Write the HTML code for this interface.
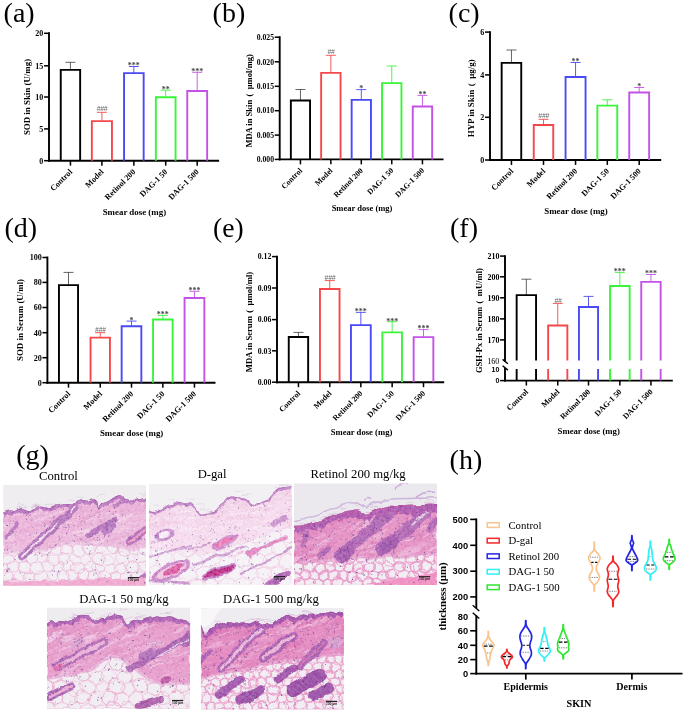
<!DOCTYPE html>
<html><head><meta charset="utf-8"><title>Figure</title>
<style>
html,body{margin:0;padding:0;background:#fff;}
body{width:685px;height:713px;overflow:hidden;font-family:"Liberation Serif",serif;}
svg{display:block;will-change:transform;}
</style></head><body>
<svg width="685" height="713" viewBox="0 0 685 713">
<rect width="685" height="713" fill="#ffffff"/>
<text x="3.6" y="22.2" font-family='"Liberation Serif", serif' font-size="28" fill="#000">(a)</text>
<line x1="49" y1="32.349999999999994" x2="49" y2="161.64999999999998" stroke="#000" stroke-width="1.9"/>
<line x1="48.05" y1="160.7" x2="219.1" y2="160.7" stroke="#000" stroke-width="1.9"/>
<line x1="44.05" y1="33.3" x2="49" y2="33.3" stroke="#000" stroke-width="1.52"/>
<text x="43.349999999999994" y="36.20" text-anchor="end" font-family='"Liberation Serif", serif' font-weight="bold" font-size="8.05" fill="#000">20</text>
<line x1="44.05" y1="65.8" x2="49" y2="65.8" stroke="#000" stroke-width="1.52"/>
<text x="43.349999999999994" y="68.70" text-anchor="end" font-family='"Liberation Serif", serif' font-weight="bold" font-size="8.05" fill="#000">15</text>
<line x1="44.05" y1="97.0" x2="49" y2="97.0" stroke="#000" stroke-width="1.52"/>
<text x="43.349999999999994" y="99.90" text-anchor="end" font-family='"Liberation Serif", serif' font-weight="bold" font-size="8.05" fill="#000">10</text>
<line x1="44.05" y1="128.9" x2="49" y2="128.9" stroke="#000" stroke-width="1.52"/>
<text x="43.349999999999994" y="131.80" text-anchor="end" font-family='"Liberation Serif", serif' font-weight="bold" font-size="8.05" fill="#000">5</text>
<line x1="44.05" y1="160.7" x2="49" y2="160.7" stroke="#000" stroke-width="1.52"/>
<text x="43.349999999999994" y="163.60" text-anchor="end" font-family='"Liberation Serif", serif' font-weight="bold" font-size="8.05" fill="#000">0</text>
<line x1="70.45" y1="69.89999999999999" x2="70.45" y2="62.3" stroke="#333" stroke-width="0.765"/>
<line x1="65.45" y1="62.3" x2="75.45" y2="62.3" stroke="#333" stroke-width="0.765"/>
<path d="M60.75000000000001,160.7 V69.85 H80.15 V160.7" fill="none" stroke="#000000" stroke-width="1.9"/>
<line x1="70.45" y1="160.7" x2="70.45" y2="165.64999999999998" stroke="#000" stroke-width="1.52"/>
<line x1="101.9" y1="121.19999999999999" x2="101.9" y2="112.3" stroke="#f4484a" stroke-width="0.9"/>
<line x1="96.9" y1="112.3" x2="106.9" y2="112.3" stroke="#f4484a" stroke-width="0.9"/>
<path d="M91.85,160.7 V121.14999999999999 H111.95 V160.7" fill="none" stroke="#f4484a" stroke-width="1.9"/>
<text x="102.10000000000001" y="111.39999999999999" text-anchor="middle" font-family='"Liberation Sans", sans-serif' font-style="italic" font-size="6.6" fill="#666" letter-spacing="-0.1">###</text>
<line x1="101.9" y1="160.7" x2="101.9" y2="165.64999999999998" stroke="#000" stroke-width="1.52"/>
<line x1="133.85" y1="73.19999999999999" x2="133.85" y2="66.5" stroke="#4a4af4" stroke-width="0.9"/>
<line x1="128.85" y1="66.5" x2="138.85" y2="66.5" stroke="#4a4af4" stroke-width="0.9"/>
<path d="M124.05,160.7 V73.14999999999999 H143.65 V160.7" fill="none" stroke="#4a4af4" stroke-width="1.9"/>
<text x="133.85" y="68.3" text-anchor="middle" font-family='"Liberation Serif", serif' font-weight="bold" font-size="8.0" fill="#444">***</text>
<line x1="133.85" y1="160.7" x2="133.85" y2="165.64999999999998" stroke="#000" stroke-width="1.52"/>
<line x1="165.7" y1="97.3" x2="165.7" y2="90.2" stroke="#3af43a" stroke-width="0.9"/>
<line x1="160.7" y1="90.2" x2="170.7" y2="90.2" stroke="#3af43a" stroke-width="0.9"/>
<path d="M155.85,160.7 V97.25 H175.55 V160.7" fill="none" stroke="#3af43a" stroke-width="1.9"/>
<text x="165.7" y="92.0" text-anchor="middle" font-family='"Liberation Serif", serif' font-weight="bold" font-size="8.0" fill="#444">**</text>
<line x1="165.7" y1="160.7" x2="165.7" y2="165.64999999999998" stroke="#000" stroke-width="1.52"/>
<line x1="197.2" y1="91.1" x2="197.2" y2="72.3" stroke="#c452e6" stroke-width="0.9"/>
<line x1="192.2" y1="72.3" x2="202.2" y2="72.3" stroke="#c452e6" stroke-width="0.9"/>
<path d="M187.24999999999997,160.7 V91.05 H207.15 V160.7" fill="none" stroke="#c452e6" stroke-width="1.9"/>
<text x="197.2" y="74.1" text-anchor="middle" font-family='"Liberation Serif", serif' font-weight="bold" font-size="8.0" fill="#444">***</text>
<line x1="197.2" y1="160.7" x2="197.2" y2="165.64999999999998" stroke="#000" stroke-width="1.52"/>
<text transform="translate(72.75,172.39999999999998) rotate(-45)" text-anchor="end" font-family='"Liberation Serif", serif' font-weight="bold" font-size="8.2" fill="#000">Control</text>
<text transform="translate(104.2,172.39999999999998) rotate(-45)" text-anchor="end" font-family='"Liberation Serif", serif' font-weight="bold" font-size="8.2" fill="#000">Model</text>
<text transform="translate(136.15,172.39999999999998) rotate(-45)" text-anchor="end" font-family='"Liberation Serif", serif' font-weight="bold" font-size="8.2" fill="#000">Retinol 200</text>
<text transform="translate(168.0,172.39999999999998) rotate(-45)" text-anchor="end" font-family='"Liberation Serif", serif' font-weight="bold" font-size="8.2" fill="#000">DAG-1 50</text>
<text transform="translate(199.5,172.39999999999998) rotate(-45)" text-anchor="end" font-family='"Liberation Serif", serif' font-weight="bold" font-size="8.2" fill="#000">DAG-1 500</text>
<text x="134.4" y="214.7" text-anchor="middle" font-family='"Liberation Serif", serif' font-weight="bold" font-size="8.90" fill="#000">Smear dose (mg)</text>
<text transform="translate(29.5,97) rotate(-90)" text-anchor="middle" font-family='"Liberation Serif", serif' font-weight="bold" font-size="8.90" fill="#000">SOD in Skin (U/mg)</text>
<text x="212.6" y="22.2" font-family='"Liberation Serif", serif' font-size="28" fill="#000">(b)</text>
<line x1="279.7" y1="36.25" x2="279.7" y2="160.35" stroke="#000" stroke-width="1.9"/>
<line x1="278.75" y1="159.4" x2="443.5" y2="159.4" stroke="#000" stroke-width="1.9"/>
<line x1="274.75" y1="37.2" x2="279.7" y2="37.2" stroke="#000" stroke-width="1.52"/>
<text x="274.05" y="39.97" text-anchor="end" font-family='"Liberation Serif", serif' font-weight="bold" font-size="7.68775" fill="#000">0.025</text>
<line x1="274.75" y1="61.8" x2="279.7" y2="61.8" stroke="#000" stroke-width="1.52"/>
<text x="274.05" y="64.57" text-anchor="end" font-family='"Liberation Serif", serif' font-weight="bold" font-size="7.68775" fill="#000">0.020</text>
<line x1="274.75" y1="86.3" x2="279.7" y2="86.3" stroke="#000" stroke-width="1.52"/>
<text x="274.05" y="89.07" text-anchor="end" font-family='"Liberation Serif", serif' font-weight="bold" font-size="7.68775" fill="#000">0.015</text>
<line x1="274.75" y1="110.7" x2="279.7" y2="110.7" stroke="#000" stroke-width="1.52"/>
<text x="274.05" y="113.47" text-anchor="end" font-family='"Liberation Serif", serif' font-weight="bold" font-size="7.68775" fill="#000">0.010</text>
<line x1="274.75" y1="135.1" x2="279.7" y2="135.1" stroke="#000" stroke-width="1.52"/>
<text x="274.05" y="137.87" text-anchor="end" font-family='"Liberation Serif", serif' font-weight="bold" font-size="7.68775" fill="#000">0.005</text>
<line x1="274.75" y1="159.4" x2="279.7" y2="159.4" stroke="#000" stroke-width="1.52"/>
<text x="274.05" y="162.17" text-anchor="end" font-family='"Liberation Serif", serif' font-weight="bold" font-size="7.68775" fill="#000">0.000</text>
<line x1="300.45000000000005" y1="100.6" x2="300.45000000000005" y2="89.5" stroke="#333" stroke-width="0.765"/>
<line x1="295.45000000000005" y1="89.5" x2="305.45000000000005" y2="89.5" stroke="#333" stroke-width="0.765"/>
<path d="M290.85,159.4 V100.55 H310.05 V159.4" fill="none" stroke="#000000" stroke-width="1.9"/>
<line x1="300.45000000000005" y1="159.4" x2="300.45000000000005" y2="164.35" stroke="#000" stroke-width="1.52"/>
<line x1="330.85" y1="72.89999999999999" x2="330.85" y2="55.3" stroke="#f4484a" stroke-width="0.9"/>
<line x1="325.85" y1="55.3" x2="335.85" y2="55.3" stroke="#f4484a" stroke-width="0.9"/>
<path d="M321.15000000000003,159.4 V72.85 H340.55 V159.4" fill="none" stroke="#f4484a" stroke-width="1.9"/>
<text x="331.05" y="54.4" text-anchor="middle" font-family='"Liberation Sans", sans-serif' font-style="italic" font-size="6.6" fill="#666" letter-spacing="-0.1">##</text>
<line x1="330.85" y1="159.4" x2="330.85" y2="164.35" stroke="#000" stroke-width="1.52"/>
<line x1="361.3" y1="99.89999999999999" x2="361.3" y2="89.6" stroke="#4a4af4" stroke-width="0.9"/>
<line x1="356.3" y1="89.6" x2="366.3" y2="89.6" stroke="#4a4af4" stroke-width="0.9"/>
<path d="M351.65000000000003,159.4 V99.85 H370.95 V159.4" fill="none" stroke="#4a4af4" stroke-width="1.9"/>
<text x="361.3" y="91.39999999999999" text-anchor="middle" font-family='"Liberation Serif", serif' font-weight="bold" font-size="8.0" fill="#444">*</text>
<line x1="361.3" y1="159.4" x2="361.3" y2="164.35" stroke="#000" stroke-width="1.52"/>
<line x1="391.75" y1="83.19999999999999" x2="391.75" y2="66" stroke="#3af43a" stroke-width="0.9"/>
<line x1="386.75" y1="66" x2="396.75" y2="66" stroke="#3af43a" stroke-width="0.9"/>
<path d="M382.05,159.4 V83.14999999999999 H401.45 V159.4" fill="none" stroke="#3af43a" stroke-width="1.9"/>
<line x1="391.75" y1="159.4" x2="391.75" y2="164.35" stroke="#000" stroke-width="1.52"/>
<line x1="422.45" y1="106.6" x2="422.45" y2="95.4" stroke="#c452e6" stroke-width="0.9"/>
<line x1="417.45" y1="95.4" x2="427.45" y2="95.4" stroke="#c452e6" stroke-width="0.9"/>
<path d="M412.75,159.4 V106.55 H432.15 V159.4" fill="none" stroke="#c452e6" stroke-width="1.9"/>
<text x="422.45" y="97.2" text-anchor="middle" font-family='"Liberation Serif", serif' font-weight="bold" font-size="8.0" fill="#444">**</text>
<line x1="422.45" y1="159.4" x2="422.45" y2="164.35" stroke="#000" stroke-width="1.52"/>
<text transform="translate(302.75000000000006,171.1) rotate(-45)" text-anchor="end" font-family='"Liberation Serif", serif' font-weight="bold" font-size="7.830999999999999" fill="#000">Control</text>
<text transform="translate(333.15000000000003,171.1) rotate(-45)" text-anchor="end" font-family='"Liberation Serif", serif' font-weight="bold" font-size="7.830999999999999" fill="#000">Model</text>
<text transform="translate(363.6,171.1) rotate(-45)" text-anchor="end" font-family='"Liberation Serif", serif' font-weight="bold" font-size="7.830999999999999" fill="#000">Retinol 200</text>
<text transform="translate(394.05,171.1) rotate(-45)" text-anchor="end" font-family='"Liberation Serif", serif' font-weight="bold" font-size="7.830999999999999" fill="#000">DAG-1 50</text>
<text transform="translate(424.75,171.1) rotate(-45)" text-anchor="end" font-family='"Liberation Serif", serif' font-weight="bold" font-size="7.830999999999999" fill="#000">DAG-1 500</text>
<text x="362" y="211.2" text-anchor="middle" font-family='"Liberation Serif", serif' font-weight="bold" font-size="8.50" fill="#000">Smear dose (mg)</text>
<text transform="translate(251.5,100.9) rotate(-90)" text-anchor="middle" font-family='"Liberation Serif", serif' font-weight="bold" font-size="8.50" fill="#000">MDA in Skin<tspan dx="3.40">(</tspan><tspan dx="4.42">μmol/mg)</tspan></text>
<text x="448.6" y="22.2" font-family='"Liberation Serif", serif' font-size="28" fill="#000">(c)</text>
<line x1="490" y1="31.150000000000002" x2="490" y2="160.95" stroke="#000" stroke-width="1.9"/>
<line x1="489.05" y1="160" x2="661.2" y2="160" stroke="#000" stroke-width="1.9"/>
<line x1="485.05" y1="32.1" x2="490" y2="32.1" stroke="#000" stroke-width="1.52"/>
<text x="484.35" y="35.00" text-anchor="end" font-family='"Liberation Serif", serif' font-weight="bold" font-size="8.05" fill="#000">6</text>
<line x1="485.05" y1="74.9" x2="490" y2="74.9" stroke="#000" stroke-width="1.52"/>
<text x="484.35" y="77.80" text-anchor="end" font-family='"Liberation Serif", serif' font-weight="bold" font-size="8.05" fill="#000">4</text>
<line x1="485.05" y1="117.3" x2="490" y2="117.3" stroke="#000" stroke-width="1.52"/>
<text x="484.35" y="120.20" text-anchor="end" font-family='"Liberation Serif", serif' font-weight="bold" font-size="8.05" fill="#000">2</text>
<line x1="485.05" y1="160" x2="490" y2="160" stroke="#000" stroke-width="1.52"/>
<text x="484.35" y="162.90" text-anchor="end" font-family='"Liberation Serif", serif' font-weight="bold" font-size="8.05" fill="#000">0</text>
<line x1="511.45" y1="62.9" x2="511.45" y2="50" stroke="#333" stroke-width="0.765"/>
<line x1="506.45" y1="50" x2="516.45" y2="50" stroke="#333" stroke-width="0.765"/>
<path d="M501.65000000000003,160 V62.85 H521.2499999999999 V160" fill="none" stroke="#000000" stroke-width="1.9"/>
<line x1="511.45" y1="160" x2="511.45" y2="164.95" stroke="#000" stroke-width="1.52"/>
<line x1="543.5" y1="125.0" x2="543.5" y2="119.3" stroke="#f4484a" stroke-width="0.9"/>
<line x1="538.5" y1="119.3" x2="548.5" y2="119.3" stroke="#f4484a" stroke-width="0.9"/>
<path d="M533.7500000000001,160 V124.95 H553.2499999999999 V160" fill="none" stroke="#f4484a" stroke-width="1.9"/>
<text x="543.7" y="118.39999999999999" text-anchor="middle" font-family='"Liberation Sans", sans-serif' font-style="italic" font-size="6.6" fill="#666" letter-spacing="-0.1">###</text>
<line x1="543.5" y1="160" x2="543.5" y2="164.95" stroke="#000" stroke-width="1.52"/>
<line x1="575.55" y1="77.1" x2="575.55" y2="62.5" stroke="#4a4af4" stroke-width="0.9"/>
<line x1="570.55" y1="62.5" x2="580.55" y2="62.5" stroke="#4a4af4" stroke-width="0.9"/>
<path d="M565.5500000000001,160 V77.05 H585.55 V160" fill="none" stroke="#4a4af4" stroke-width="1.9"/>
<text x="575.55" y="64.3" text-anchor="middle" font-family='"Liberation Serif", serif' font-weight="bold" font-size="8.0" fill="#444">**</text>
<line x1="575.55" y1="160" x2="575.55" y2="164.95" stroke="#000" stroke-width="1.52"/>
<line x1="607.3" y1="105.69999999999999" x2="607.3" y2="99.8" stroke="#3af43a" stroke-width="0.9"/>
<line x1="602.3" y1="99.8" x2="612.3" y2="99.8" stroke="#3af43a" stroke-width="0.9"/>
<path d="M597.35,160 V105.64999999999999 H617.2499999999999 V160" fill="none" stroke="#3af43a" stroke-width="1.9"/>
<line x1="607.3" y1="160" x2="607.3" y2="164.95" stroke="#000" stroke-width="1.52"/>
<line x1="639.2" y1="92.5" x2="639.2" y2="87.5" stroke="#c452e6" stroke-width="0.9"/>
<line x1="634.2" y1="87.5" x2="644.2" y2="87.5" stroke="#c452e6" stroke-width="0.9"/>
<path d="M629.2500000000001,160 V92.45 H649.15 V160" fill="none" stroke="#c452e6" stroke-width="1.9"/>
<text x="639.2" y="89.3" text-anchor="middle" font-family='"Liberation Serif", serif' font-weight="bold" font-size="8.0" fill="#444">*</text>
<line x1="639.2" y1="160" x2="639.2" y2="164.95" stroke="#000" stroke-width="1.52"/>
<text transform="translate(513.75,171.7) rotate(-45)" text-anchor="end" font-family='"Liberation Serif", serif' font-weight="bold" font-size="8.2" fill="#000">Control</text>
<text transform="translate(545.8,171.7) rotate(-45)" text-anchor="end" font-family='"Liberation Serif", serif' font-weight="bold" font-size="8.2" fill="#000">Model</text>
<text transform="translate(577.8499999999999,171.7) rotate(-45)" text-anchor="end" font-family='"Liberation Serif", serif' font-weight="bold" font-size="8.2" fill="#000">Retinol 200</text>
<text transform="translate(609.5999999999999,171.7) rotate(-45)" text-anchor="end" font-family='"Liberation Serif", serif' font-weight="bold" font-size="8.2" fill="#000">DAG-1 50</text>
<text transform="translate(641.5,171.7) rotate(-45)" text-anchor="end" font-family='"Liberation Serif", serif' font-weight="bold" font-size="8.2" fill="#000">DAG-1 500</text>
<text x="576" y="213.8" text-anchor="middle" font-family='"Liberation Serif", serif' font-weight="bold" font-size="8.90" fill="#000">Smear dose (mg)</text>
<text transform="translate(474.2,98.3) rotate(-90)" text-anchor="middle" font-family='"Liberation Serif", serif' font-weight="bold" font-size="8.90" fill="#000">HYP in Skin<tspan dx="3.56">(</tspan><tspan dx="4.63">μg/g)</tspan></text>
<text x="4.4" y="236.5" font-family='"Liberation Serif", serif' font-size="28" fill="#000">(d)</text>
<line x1="47.4" y1="256.55" x2="47.4" y2="383.65" stroke="#000" stroke-width="1.9"/>
<line x1="46.449999999999996" y1="382.7" x2="215.5" y2="382.7" stroke="#000" stroke-width="1.9"/>
<line x1="42.449999999999996" y1="257.5" x2="47.4" y2="257.5" stroke="#000" stroke-width="1.52"/>
<text x="41.74999999999999" y="260.40" text-anchor="end" font-family='"Liberation Serif", serif' font-weight="bold" font-size="8.05" fill="#000">100</text>
<line x1="42.449999999999996" y1="282.4" x2="47.4" y2="282.4" stroke="#000" stroke-width="1.52"/>
<text x="41.74999999999999" y="285.30" text-anchor="end" font-family='"Liberation Serif", serif' font-weight="bold" font-size="8.05" fill="#000">80</text>
<line x1="42.449999999999996" y1="307.5" x2="47.4" y2="307.5" stroke="#000" stroke-width="1.52"/>
<text x="41.74999999999999" y="310.40" text-anchor="end" font-family='"Liberation Serif", serif' font-weight="bold" font-size="8.05" fill="#000">60</text>
<line x1="42.449999999999996" y1="332.7" x2="47.4" y2="332.7" stroke="#000" stroke-width="1.52"/>
<text x="41.74999999999999" y="335.60" text-anchor="end" font-family='"Liberation Serif", serif' font-weight="bold" font-size="8.05" fill="#000">40</text>
<line x1="42.449999999999996" y1="357.7" x2="47.4" y2="357.7" stroke="#000" stroke-width="1.52"/>
<text x="41.74999999999999" y="360.60" text-anchor="end" font-family='"Liberation Serif", serif' font-weight="bold" font-size="8.05" fill="#000">20</text>
<line x1="42.449999999999996" y1="382.7" x2="47.4" y2="382.7" stroke="#000" stroke-width="1.52"/>
<text x="41.74999999999999" y="385.60" text-anchor="end" font-family='"Liberation Serif", serif' font-weight="bold" font-size="8.05" fill="#000">0</text>
<line x1="68.5" y1="285.20000000000005" x2="68.5" y2="272.4" stroke="#333" stroke-width="0.765"/>
<line x1="63.5" y1="272.4" x2="73.5" y2="272.4" stroke="#333" stroke-width="0.765"/>
<path d="M58.95,382.7 V285.15000000000003 H78.05 V382.7" fill="none" stroke="#000000" stroke-width="1.9"/>
<line x1="68.5" y1="382.7" x2="68.5" y2="387.65" stroke="#000" stroke-width="1.52"/>
<line x1="100.25" y1="337.70000000000005" x2="100.25" y2="332.7" stroke="#f4484a" stroke-width="0.9"/>
<line x1="95.25" y1="332.7" x2="105.25" y2="332.7" stroke="#f4484a" stroke-width="0.9"/>
<path d="M90.55,382.7 V337.65000000000003 H109.95 V382.7" fill="none" stroke="#f4484a" stroke-width="1.9"/>
<text x="100.45" y="331.8" text-anchor="middle" font-family='"Liberation Sans", sans-serif' font-style="italic" font-size="6.6" fill="#666" letter-spacing="-0.1">###</text>
<line x1="100.25" y1="382.7" x2="100.25" y2="387.65" stroke="#000" stroke-width="1.52"/>
<line x1="131.5" y1="326.3" x2="131.5" y2="321.1" stroke="#4a4af4" stroke-width="0.9"/>
<line x1="126.5" y1="321.1" x2="136.5" y2="321.1" stroke="#4a4af4" stroke-width="0.9"/>
<path d="M121.64999999999999,382.7 V326.25 H141.35000000000002 V382.7" fill="none" stroke="#4a4af4" stroke-width="1.9"/>
<text x="131.5" y="322.90000000000003" text-anchor="middle" font-family='"Liberation Serif", serif' font-weight="bold" font-size="8.0" fill="#444">*</text>
<line x1="131.5" y1="382.7" x2="131.5" y2="387.65" stroke="#000" stroke-width="1.52"/>
<line x1="162.85" y1="319.6" x2="162.85" y2="315.4" stroke="#3af43a" stroke-width="0.9"/>
<line x1="157.85" y1="315.4" x2="167.85" y2="315.4" stroke="#3af43a" stroke-width="0.9"/>
<path d="M153.04999999999998,382.7 V319.55 H172.65 V382.7" fill="none" stroke="#3af43a" stroke-width="1.9"/>
<text x="162.85" y="317.2" text-anchor="middle" font-family='"Liberation Serif", serif' font-weight="bold" font-size="8.0" fill="#444">***</text>
<line x1="162.85" y1="382.7" x2="162.85" y2="387.65" stroke="#000" stroke-width="1.52"/>
<line x1="194.45" y1="298.1" x2="194.45" y2="291.3" stroke="#c452e6" stroke-width="0.9"/>
<line x1="189.45" y1="291.3" x2="199.45" y2="291.3" stroke="#c452e6" stroke-width="0.9"/>
<path d="M184.54999999999998,382.7 V298.05 H204.35000000000002 V382.7" fill="none" stroke="#c452e6" stroke-width="1.9"/>
<text x="194.45" y="293.1" text-anchor="middle" font-family='"Liberation Serif", serif' font-weight="bold" font-size="8.0" fill="#444">***</text>
<line x1="194.45" y1="382.7" x2="194.45" y2="387.65" stroke="#000" stroke-width="1.52"/>
<text transform="translate(70.8,394.4) rotate(-45)" text-anchor="end" font-family='"Liberation Serif", serif' font-weight="bold" font-size="8.2" fill="#000">Control</text>
<text transform="translate(102.55,394.4) rotate(-45)" text-anchor="end" font-family='"Liberation Serif", serif' font-weight="bold" font-size="8.2" fill="#000">Model</text>
<text transform="translate(133.8,394.4) rotate(-45)" text-anchor="end" font-family='"Liberation Serif", serif' font-weight="bold" font-size="8.2" fill="#000">Retinol 200</text>
<text transform="translate(165.15,394.4) rotate(-45)" text-anchor="end" font-family='"Liberation Serif", serif' font-weight="bold" font-size="8.2" fill="#000">DAG-1 50</text>
<text transform="translate(196.75,394.4) rotate(-45)" text-anchor="end" font-family='"Liberation Serif", serif' font-weight="bold" font-size="8.2" fill="#000">DAG-1 500</text>
<text x="131.6" y="436" text-anchor="middle" font-family='"Liberation Serif", serif' font-weight="bold" font-size="8.90" fill="#000">Smear dose (mg)</text>
<text transform="translate(23.0,320.0) rotate(-90)" text-anchor="middle" font-family='"Liberation Serif", serif' font-weight="bold" font-size="8.90" fill="#000">SOD in Serum (U/ml)</text>
<text x="213.0" y="237.4" font-family='"Liberation Serif", serif' font-size="27.6" fill="#000">(e)</text>
<line x1="277" y1="255.65000000000003" x2="277" y2="383.15" stroke="#000" stroke-width="1.9"/>
<line x1="276.05" y1="382.2" x2="444.2" y2="382.2" stroke="#000" stroke-width="1.9"/>
<line x1="272.05" y1="256.6" x2="277" y2="256.6" stroke="#000" stroke-width="1.52"/>
<text x="271.35" y="259.41" text-anchor="end" font-family='"Liberation Serif", serif' font-weight="bold" font-size="7.8085" fill="#000">0.12</text>
<line x1="272.05" y1="288" x2="277" y2="288" stroke="#000" stroke-width="1.52"/>
<text x="271.35" y="290.81" text-anchor="end" font-family='"Liberation Serif", serif' font-weight="bold" font-size="7.8085" fill="#000">0.09</text>
<line x1="272.05" y1="319.6" x2="277" y2="319.6" stroke="#000" stroke-width="1.52"/>
<text x="271.35" y="322.41" text-anchor="end" font-family='"Liberation Serif", serif' font-weight="bold" font-size="7.8085" fill="#000">0.06</text>
<line x1="272.05" y1="350.8" x2="277" y2="350.8" stroke="#000" stroke-width="1.52"/>
<text x="271.35" y="353.61" text-anchor="end" font-family='"Liberation Serif", serif' font-weight="bold" font-size="7.8085" fill="#000">0.03</text>
<line x1="272.05" y1="382.2" x2="277" y2="382.2" stroke="#000" stroke-width="1.52"/>
<text x="271.35" y="385.01" text-anchor="end" font-family='"Liberation Serif", serif' font-weight="bold" font-size="7.8085" fill="#000">0.00</text>
<line x1="298.45" y1="337.0" x2="298.45" y2="332.4" stroke="#333" stroke-width="0.765"/>
<line x1="293.45" y1="332.4" x2="303.45" y2="332.4" stroke="#333" stroke-width="0.765"/>
<path d="M288.75,382.2 V336.95 H308.15 V382.2" fill="none" stroke="#000000" stroke-width="1.9"/>
<line x1="298.45" y1="382.2" x2="298.45" y2="387.15" stroke="#000" stroke-width="1.52"/>
<line x1="329.75" y1="289.1" x2="329.75" y2="280.6" stroke="#f4484a" stroke-width="0.9"/>
<line x1="324.75" y1="280.6" x2="334.75" y2="280.6" stroke="#f4484a" stroke-width="0.9"/>
<path d="M319.95,382.2 V289.05 H339.55 V382.2" fill="none" stroke="#f4484a" stroke-width="1.9"/>
<text x="329.95" y="279.70000000000005" text-anchor="middle" font-family='"Liberation Sans", sans-serif' font-style="italic" font-size="6.6" fill="#666" letter-spacing="-0.1">###</text>
<line x1="329.75" y1="382.2" x2="329.75" y2="387.15" stroke="#000" stroke-width="1.52"/>
<line x1="360.85" y1="325.20000000000005" x2="360.85" y2="312.4" stroke="#4a4af4" stroke-width="0.9"/>
<line x1="355.85" y1="312.4" x2="365.85" y2="312.4" stroke="#4a4af4" stroke-width="0.9"/>
<path d="M350.95,382.2 V325.15000000000003 H370.75 V382.2" fill="none" stroke="#4a4af4" stroke-width="1.9"/>
<text x="360.85" y="314.2" text-anchor="middle" font-family='"Liberation Serif", serif' font-weight="bold" font-size="8.0" fill="#444">***</text>
<line x1="360.85" y1="382.2" x2="360.85" y2="387.15" stroke="#000" stroke-width="1.52"/>
<line x1="392.15" y1="332.40000000000003" x2="392.15" y2="321.7" stroke="#3af43a" stroke-width="0.9"/>
<line x1="387.15" y1="321.7" x2="397.15" y2="321.7" stroke="#3af43a" stroke-width="0.9"/>
<path d="M382.35,382.2 V332.35 H401.95 V382.2" fill="none" stroke="#3af43a" stroke-width="1.9"/>
<text x="392.15" y="323.5" text-anchor="middle" font-family='"Liberation Serif", serif' font-weight="bold" font-size="8.0" fill="#444">***</text>
<line x1="392.15" y1="382.2" x2="392.15" y2="387.15" stroke="#000" stroke-width="1.52"/>
<line x1="423.5" y1="337.20000000000005" x2="423.5" y2="329.6" stroke="#c452e6" stroke-width="0.9"/>
<line x1="418.5" y1="329.6" x2="428.5" y2="329.6" stroke="#c452e6" stroke-width="0.9"/>
<path d="M413.65000000000003,382.2 V337.15000000000003 H433.34999999999997 V382.2" fill="none" stroke="#c452e6" stroke-width="1.9"/>
<text x="423.5" y="331.40000000000003" text-anchor="middle" font-family='"Liberation Serif", serif' font-weight="bold" font-size="8.0" fill="#444">***</text>
<line x1="423.5" y1="382.2" x2="423.5" y2="387.15" stroke="#000" stroke-width="1.52"/>
<text transform="translate(300.75,393.9) rotate(-45)" text-anchor="end" font-family='"Liberation Serif", serif' font-weight="bold" font-size="7.953999999999999" fill="#000">Control</text>
<text transform="translate(332.05,393.9) rotate(-45)" text-anchor="end" font-family='"Liberation Serif", serif' font-weight="bold" font-size="7.953999999999999" fill="#000">Model</text>
<text transform="translate(363.15000000000003,393.9) rotate(-45)" text-anchor="end" font-family='"Liberation Serif", serif' font-weight="bold" font-size="7.953999999999999" fill="#000">Retinol 200</text>
<text transform="translate(394.45,393.9) rotate(-45)" text-anchor="end" font-family='"Liberation Serif", serif' font-weight="bold" font-size="7.953999999999999" fill="#000">DAG-1 50</text>
<text transform="translate(425.8,393.9) rotate(-45)" text-anchor="end" font-family='"Liberation Serif", serif' font-weight="bold" font-size="7.953999999999999" fill="#000">DAG-1 500</text>
<text x="361.5" y="435" text-anchor="middle" font-family='"Liberation Serif", serif' font-weight="bold" font-size="8.63" fill="#000">Smear dose (mg)</text>
<text transform="translate(251.7,322) rotate(-90)" text-anchor="middle" font-family='"Liberation Serif", serif' font-weight="bold" font-size="8.63" fill="#000">MDA in Serum<tspan dx="3.45">(</tspan><tspan dx="4.49">μmol/ml)</tspan></text>
<text x="450" y="237.3" font-family='"Liberation Serif", serif' font-size="28" fill="#000">(f)</text>
<line x1="505" y1="255.15000000000003" x2="505" y2="361.6" stroke="#000" stroke-width="1.9"/>
<line x1="505" y1="368.0" x2="505" y2="381.55" stroke="#000" stroke-width="1.9"/>
<line x1="502.6" y1="359.40000000000003" x2="507.9" y2="363.70000000000005" stroke="#000" stroke-width="1.4"/>
<line x1="502.6" y1="365.8" x2="507.9" y2="370.1" stroke="#000" stroke-width="1.4"/>
<line x1="504.05" y1="380.6" x2="672.8" y2="380.6" stroke="#000" stroke-width="1.9"/>
<line x1="500.05" y1="256.1" x2="505" y2="256.1" stroke="#000" stroke-width="1.52"/>
<text x="499.35" y="258.94" text-anchor="end" font-family='"Liberation Serif", serif' font-weight="bold" font-size="7.889" fill="#000">210</text>
<line x1="500.05" y1="276.8" x2="505" y2="276.8" stroke="#000" stroke-width="1.52"/>
<text x="499.35" y="279.64" text-anchor="end" font-family='"Liberation Serif", serif' font-weight="bold" font-size="7.889" fill="#000">200</text>
<line x1="500.05" y1="297.8" x2="505" y2="297.8" stroke="#000" stroke-width="1.52"/>
<text x="499.35" y="300.64" text-anchor="end" font-family='"Liberation Serif", serif' font-weight="bold" font-size="7.889" fill="#000">190</text>
<line x1="500.05" y1="318.9" x2="505" y2="318.9" stroke="#000" stroke-width="1.52"/>
<text x="499.35" y="321.74" text-anchor="end" font-family='"Liberation Serif", serif' font-weight="bold" font-size="7.889" fill="#000">180</text>
<line x1="500.05" y1="339.9" x2="505" y2="339.9" stroke="#000" stroke-width="1.52"/>
<text x="499.35" y="342.74" text-anchor="end" font-family='"Liberation Serif", serif' font-weight="bold" font-size="7.889" fill="#000">170</text>
<text x="499.35" y="364.12" text-anchor="end" font-family='"Liberation Serif", serif' font-weight="normal" font-size="8.1" fill="#000">160</text>
<text x="499.35" y="371.72" text-anchor="end" font-family='"Liberation Sans", sans-serif' font-weight="bold" font-size="7.0" fill="#000">10</text>
<line x1="500.05" y1="380.6" x2="505" y2="380.6" stroke="#000" stroke-width="1.52"/>
<text x="499.35" y="383.12" text-anchor="end" font-family='"Liberation Sans", sans-serif' font-weight="bold" font-size="7.0" fill="#000">0</text>
<line x1="526.35" y1="295.20000000000005" x2="526.35" y2="279.2" stroke="#333" stroke-width="0.765"/>
<line x1="521.35" y1="279.2" x2="531.35" y2="279.2" stroke="#333" stroke-width="0.765"/>
<path d="M516.6500000000001,360.40000000000003 V295.15000000000003 H536.05 V360.40000000000003" fill="none" stroke="#000000" stroke-width="1.9"/>
<path d="M516.6500000000001,369.0 V380.6 M536.05,369.0 V380.6" fill="none" stroke="#000000" stroke-width="1.9"/>
<line x1="526.35" y1="380.6" x2="526.35" y2="385.55" stroke="#000" stroke-width="1.52"/>
<line x1="557.75" y1="325.6" x2="557.75" y2="303.4" stroke="#f4484a" stroke-width="0.9"/>
<line x1="552.75" y1="303.4" x2="562.75" y2="303.4" stroke="#f4484a" stroke-width="0.9"/>
<path d="M548.1500000000001,360.40000000000003 V325.55 H567.3499999999999 V360.40000000000003" fill="none" stroke="#f4484a" stroke-width="1.9"/>
<path d="M548.1500000000001,369.0 V380.6 M567.3499999999999,369.0 V380.6" fill="none" stroke="#f4484a" stroke-width="1.9"/>
<text x="557.95" y="302.5" text-anchor="middle" font-family='"Liberation Sans", sans-serif' font-style="italic" font-size="6.6" fill="#666" letter-spacing="-0.1">##</text>
<line x1="557.75" y1="380.6" x2="557.75" y2="385.55" stroke="#000" stroke-width="1.52"/>
<line x1="588.5" y1="307.0" x2="588.5" y2="296.4" stroke="#4a4af4" stroke-width="0.9"/>
<line x1="583.5" y1="296.4" x2="593.5" y2="296.4" stroke="#4a4af4" stroke-width="0.9"/>
<path d="M578.95,360.40000000000003 V306.95 H598.05 V360.40000000000003" fill="none" stroke="#4a4af4" stroke-width="1.9"/>
<path d="M578.95,369.0 V380.6 M598.05,369.0 V380.6" fill="none" stroke="#4a4af4" stroke-width="1.9"/>
<line x1="588.5" y1="380.6" x2="588.5" y2="385.55" stroke="#000" stroke-width="1.52"/>
<line x1="619.85" y1="286.0" x2="619.85" y2="272.4" stroke="#3af43a" stroke-width="0.9"/>
<line x1="614.85" y1="272.4" x2="624.85" y2="272.4" stroke="#3af43a" stroke-width="0.9"/>
<path d="M610.0500000000001,360.40000000000003 V285.95 H629.65 V360.40000000000003" fill="none" stroke="#3af43a" stroke-width="1.9"/>
<path d="M610.0500000000001,369.0 V380.6 M629.65,369.0 V380.6" fill="none" stroke="#3af43a" stroke-width="1.9"/>
<text x="619.85" y="274.2" text-anchor="middle" font-family='"Liberation Serif", serif' font-weight="bold" font-size="8.0" fill="#444">***</text>
<line x1="619.85" y1="380.6" x2="619.85" y2="385.55" stroke="#000" stroke-width="1.52"/>
<line x1="650.95" y1="281.90000000000003" x2="650.95" y2="274.5" stroke="#c452e6" stroke-width="0.9"/>
<line x1="645.95" y1="274.5" x2="655.95" y2="274.5" stroke="#c452e6" stroke-width="0.9"/>
<path d="M641.2500000000001,360.40000000000003 V281.85 H660.65 V360.40000000000003" fill="none" stroke="#c452e6" stroke-width="1.9"/>
<path d="M641.2500000000001,369.0 V380.6 M660.65,369.0 V380.6" fill="none" stroke="#c452e6" stroke-width="1.9"/>
<text x="650.95" y="276.3" text-anchor="middle" font-family='"Liberation Serif", serif' font-weight="bold" font-size="8.0" fill="#444">***</text>
<line x1="650.95" y1="380.6" x2="650.95" y2="385.55" stroke="#000" stroke-width="1.52"/>
<text transform="translate(528.65,392.3) rotate(-45)" text-anchor="end" font-family='"Liberation Serif", serif' font-weight="bold" font-size="8.036" fill="#000">Control</text>
<text transform="translate(560.05,392.3) rotate(-45)" text-anchor="end" font-family='"Liberation Serif", serif' font-weight="bold" font-size="8.036" fill="#000">Model</text>
<text transform="translate(590.8,392.3) rotate(-45)" text-anchor="end" font-family='"Liberation Serif", serif' font-weight="bold" font-size="8.036" fill="#000">Retinol 200</text>
<text transform="translate(622.15,392.3) rotate(-45)" text-anchor="end" font-family='"Liberation Serif", serif' font-weight="bold" font-size="8.036" fill="#000">DAG-1 50</text>
<text transform="translate(653.25,392.3) rotate(-45)" text-anchor="end" font-family='"Liberation Serif", serif' font-weight="bold" font-size="8.036" fill="#000">DAG-1 500</text>
<text x="588.7" y="433.5" text-anchor="middle" font-family='"Liberation Serif", serif' font-weight="bold" font-size="8.72" fill="#000">Smear dose (mg)</text>
<text transform="translate(482.2,320.6) rotate(-90)" text-anchor="middle" font-family='"Liberation Serif", serif' font-weight="bold" font-size="8.57" fill="#000">GSH-Px in Serum<tspan dx="3.43">(</tspan><tspan dx="4.46">mU/ml)</tspan></text>
<text x="16.3" y="463.9" font-family='"Liberation Serif", serif' font-size="28" fill="#000">(g)</text>
<defs><filter id="soft" x="-2%" y="-2%" width="104%" height="104%"><feTurbulence type="fractalNoise" baseFrequency="0.07" numOctaves="3" seed="5" result="t"/><feDisplacementMap in="SourceGraphic" in2="t" scale="5" xChannelSelector="R" yChannelSelector="G" result="d"/><feGaussianBlur in="d" stdDeviation="0.45"/></filter><filter id="soft2" x="-5%" y="-5%" width="110%" height="110%"><feGaussianBlur stdDeviation="1.1"/></filter><filter id="grain" x="0" y="0" width="100%" height="100%"><feTurbulence type="fractalNoise" baseFrequency="0.55" numOctaves="2" seed="7" result="n"/><feColorMatrix in="n" type="matrix" values="0 0 0 0 0.55  0 0 0 0 0.2  0 0 0 0 0.55  0.9 0.9 0 0 -0.62" result="c"/><feComposite in="c" in2="SourceGraphic" operator="in"/></filter><filter id="grainw" x="0" y="0" width="100%" height="100%"><feTurbulence type="fractalNoise" baseFrequency="0.35" numOctaves="2" seed="3" result="n"/><feColorMatrix in="n" type="matrix" values="0 0 0 0 1  0 0 0 0 0.95  0 0 0 0 1  0 0.9 0.9 0 -0.62" result="c"/><feComposite in="c" in2="SourceGraphic" operator="in"/></filter></defs>
<text x="58.4" y="480.3" text-anchor="middle" font-family='"Liberation Serif", serif' font-size="12.7" fill="#000">Control</text>
<clipPath id="hc1"><rect x="0" y="0" width="142.9" height="101.0"/></clipPath>
<g transform="translate(3.1,484.8)" clip-path="url(#hc1)">
<rect x="0" y="0" width="142.9" height="101.0" fill="#efedf0"/>
<g filter="url(#soft)">
<path d="M64.6,15.4q5.7,-0.1 7.5,0.3M26.4,21.4q4.5,1.2 5.5,-0.8M13.0,19.9q4.8,-1.8 9.9,1.9M93.4,11.2q2.6,-1.9 7.6,-1.8M27.2,22.5q2.1,-0.1 7.2,1.4M74.2,13.1q4.0,0.6 7.3,-0.9M142.6,7.9q5.4,0.8 6.6,-1.1M41.3,20.8q5.1,-0.4 9.2,-0.5M136.9,10.0q2.0,-1.2 9.6,-0.1M140.1,11.2q2.3,0.5 8.9,-0.9M12.5,22.3q5.9,1.0 5.6,-1.0M14.4,22.7q5.2,-1.3 7.8,-0.2M27.2,20.3q2.5,0.6 5.6,-0.3M30.4,21.6q5.9,1.2 6.5,1.5M30.1,21.2q5.4,0.6 5.5,2.0M30.5,21.6q5.1,-0.7 6.5,-1.7" stroke="#b46cb8" stroke-opacity="0.3" stroke-width="0.6" fill="none"/>
<path d="M0.0,28.0 C0.8,27.7 3.5,26.2 5.0,26.0 C6.5,25.8 7.5,27.2 9.0,27.0 C10.5,26.8 12.3,25.1 14.0,24.5 C15.7,23.9 17.2,23.4 19.0,23.6 C20.8,23.8 23.2,25.4 25.0,25.5 C26.8,25.6 28.2,25.1 30.0,24.5 C31.8,23.9 34.2,22.3 36.0,22.0 C37.8,21.7 39.0,22.2 40.7,22.5 C42.4,22.8 44.1,23.7 46.0,23.5 C47.9,23.3 50.2,22.1 52.0,21.5 C53.8,20.9 55.2,20.4 57.0,20.0 C58.8,19.6 60.8,19.4 62.6,19.3 C64.4,19.2 66.1,19.8 68.0,19.5 C69.9,19.2 72.0,18.2 74.0,17.5 C76.0,16.8 78.2,15.8 80.0,15.5 C81.8,15.2 83.0,16.3 84.5,16.0 C86.0,15.7 87.6,13.8 89.0,13.5 C90.4,13.2 92.0,13.6 93.0,14.5 C94.0,15.4 94.4,17.8 95.0,19.0 C95.6,20.2 95.8,21.6 96.5,21.5 C97.2,21.4 98.2,19.1 99.0,18.5 C99.8,17.9 99.8,18.4 101.0,18.0 C102.2,17.6 104.2,17.0 106.0,16.0 C107.8,15.0 110.2,12.9 112.0,12.0 C113.8,11.1 115.3,10.2 117.0,10.5 C118.7,10.8 120.2,13.1 122.0,14.0 C123.8,14.9 126.2,16.0 128.0,16.0 C129.8,16.0 131.7,14.1 133.0,14.0 C134.3,13.9 134.3,15.5 136.0,15.5 C137.7,15.5 141.8,14.1 143.0,13.8 L142.9,101.0 L0,101.0 Z" fill="#f0badb"/>
<path d="M0.0,35.4 C0.8,35.1 3.5,33.6 5.0,33.4 C6.5,33.2 7.5,34.6 9.0,34.4 C10.5,34.1 12.3,32.5 14.0,31.9 C15.7,31.3 17.2,30.8 19.0,31.0 C20.8,31.2 23.2,32.8 25.0,32.9 C26.8,33.0 28.2,32.5 30.0,31.9 C31.8,31.3 34.2,29.7 36.0,29.4 C37.8,29.1 39.0,29.6 40.7,29.9 C42.4,30.1 44.1,31.1 46.0,30.9 C47.9,30.7 50.2,29.5 52.0,28.9 C53.8,28.3 55.2,27.8 57.0,27.4 C58.8,27.0 60.8,26.8 62.6,26.7 C64.4,26.6 66.1,27.2 68.0,26.9 C69.9,26.6 72.0,25.6 74.0,24.9 C76.0,24.2 78.2,23.1 80.0,22.9 C81.8,22.6 83.0,23.7 84.5,23.4 C86.0,23.1 87.6,21.1 89.0,20.9 C90.4,20.6 92.0,21.0 93.0,21.9 C94.0,22.8 94.4,25.2 95.0,26.4 C95.6,27.6 95.8,29.0 96.5,28.9 C97.2,28.8 98.2,26.5 99.0,25.9 C99.8,25.3 99.8,25.8 101.0,25.4 C102.2,25.0 104.2,24.4 106.0,23.4 C107.8,22.4 110.2,20.3 112.0,19.4 C113.8,18.5 115.3,17.6 117.0,17.9 C118.7,18.2 120.2,20.5 122.0,21.4 C123.8,22.3 126.2,23.4 128.0,23.4 C129.8,23.4 131.7,21.5 133.0,21.4 C134.3,21.3 134.3,22.9 136.0,22.9 C137.7,22.9 141.8,21.5 143.0,21.2" stroke="#e8a2cc" stroke-width="9" stroke-opacity="0.3" fill="none"/>
<path d="M5.5,54.5a8.3,2.4 -28 1,0 14.7,-7.7a8.3,2.4 -28 1,0 -14.7,7.7zM11.7,51.8a6.6,1.5 -14 1,0 12.9,-3.2a6.6,1.5 -14 1,0 -12.9,3.2zM123.6,56.6a6.4,2.5 -16 1,0 12.3,-3.6a6.4,2.5 -16 1,0 -12.3,3.6zM4.5,34.5a11.3,1.7 -24 1,0 20.7,-9.3a11.3,1.7 -24 1,0 -20.7,9.3zM105.1,47.3a13.4,3.2 -20 1,0 25.2,-9.0a13.4,3.2 -20 1,0 -25.2,9.0zM81.3,51.5a13.3,2.1 -19 1,0 25.2,-8.5a13.3,2.1 -19 1,0 -25.2,8.5zM115.9,55.0a13.2,1.9 -15 1,0 25.5,-7.0a13.2,1.9 -15 1,0 -25.5,7.0zM27.1,31.0a10.5,2.2 -26 1,0 18.9,-9.1a10.5,2.2 -26 1,0 -18.9,9.1zM27.6,52.2a8.5,2.4 -14 1,0 16.4,-4.1a8.5,2.4 -14 1,0 -16.4,4.1zM0.9,69.4a9.2,3.1 -26 1,0 16.6,-8.2a9.2,3.1 -26 1,0 -16.6,8.2z" fill="#f6d2e7" fill-opacity="0.55"/>
<path d="M69.0,48.3a10.4,2.0 -14 1,0 20.3,-5.0a10.4,2.0 -14 1,0 -20.3,5.0zM-2.6,42.7a5.4,1.8 -24 1,0 9.9,-4.4a5.4,1.8 -24 1,0 -9.9,4.4zM92.8,57.0a5.3,2.2 -13 1,0 10.3,-2.4a5.3,2.2 -13 1,0 -10.3,2.4zM-7.9,57.6a10.5,1.4 -19 1,0 19.9,-6.7a10.5,1.4 -19 1,0 -19.9,6.7zM83.2,61.2a8.5,2.7 -16 1,0 16.3,-4.8a8.5,2.7 -16 1,0 -16.3,4.8zM101.0,35.4a7.2,2.0 -20 1,0 13.5,-4.9a7.2,2.0 -20 1,0 -13.5,4.9zM33.1,37.2a13.1,1.3 -22 1,0 24.2,-9.9a13.1,1.3 -22 1,0 -24.2,9.9zM107.8,36.7a11.4,2.9 -17 1,0 21.9,-6.8a11.4,2.9 -17 1,0 -21.9,6.8z" fill="#fae6f2" fill-opacity="0.55"/>
<path d="M5.9,51.4a13.3,1.6 -24 1,0 24.3,-10.6a13.3,1.6 -24 1,0 -24.3,10.6zM63.8,61.2a13.0,3.2 -22 1,0 24.1,-9.8a13.0,3.2 -22 1,0 -24.1,9.8zM41.6,41.7a10.7,2.2 -28 1,0 19.0,-10.0a10.7,2.2 -28 1,0 -19.0,10.0zM95.5,37.6a9.9,2.7 -27 1,0 17.7,-8.9a9.9,2.7 -27 1,0 -17.7,8.9zM74.0,40.0a9.6,1.8 -20 1,0 18.1,-6.5a9.6,1.8 -20 1,0 -18.1,6.5zM2.6,33.7a10.5,3.0 -20 1,0 19.8,-7.2a10.5,3.0 -20 1,0 -19.8,7.2zM79.7,35.0a10.5,2.6 -24 1,0 19.2,-8.4a10.5,2.6 -24 1,0 -19.2,8.4zM31.9,42.2a8.6,1.6 -18 1,0 16.5,-5.3a8.6,1.6 -18 1,0 -16.5,5.3z" fill="#e8a2cc" fill-opacity="0.55"/>
<path d="M108.8,28.6q6.6,-2.4 13.2,-3.3M104.3,35.9q3.2,-0.8 6.4,-3.2M114.7,17.7q5.6,-0.6 11.2,-3.0M18.7,45.2q3.2,-0.3 6.4,-2.4M105.3,56.6q4.5,-1.1 9.0,-3.7M27.7,30.1q3.1,-2.2 6.2,-2.8M75.9,49.4q2.6,-2.2 5.2,-2.8M114.2,53.1q7.3,-1.0 14.5,-2.8M42.5,40.4q4.9,-2.6 9.8,-4.5M12.0,52.8q6.1,-4.0 12.1,-6.0M54.5,58.2q5.9,-0.8 11.9,-3.1M96.6,28.1q4.4,-2.6 8.7,-3.3" stroke="#e8a2cc" stroke-width="1.1" stroke-opacity="0.75" fill="none"/>
<path d="M74.2,43.9q4.0,-1.5 8.0,-4.3M54.2,52.7q5.3,-1.1 10.5,-3.9M56.1,42.3q3.0,-0.8 6.1,-3.0M69.8,48.7q5.1,-1.5 10.1,-3.0M134.7,47.6q4.2,-1.5 8.3,-2.5M96.3,44.0q5.5,-0.8 11.0,-3.4M141.8,37.7q3.7,-1.0 7.3,-1.4M88.8,22.7q6.3,-2.0 12.6,-3.9M2.8,50.5q3.1,-2.4 6.3,-3.0" stroke="#f6d2e7" stroke-width="0.6" stroke-opacity="0.75" fill="none"/>
<path d="M32.9,53.6q6.3,-2.7 12.6,-4.4M140.3,21.9q7.0,-2.3 14.1,-3.5M24.7,48.3q5.0,-1.6 10.0,-3.2M86.4,55.5q3.1,-1.4 6.2,-1.6M41.6,60.5q3.6,0.1 7.3,-1.3M12.0,35.0q3.1,-2.1 6.1,-2.8M142.9,45.8q6.1,-1.4 12.3,-3.2M77.9,30.1q5.9,-2.5 11.8,-5.3M69.3,45.1q3.4,-1.5 6.9,-2.0M57.9,45.2q2.9,-0.2 5.8,-2.0" stroke="#e8a2cc" stroke-width="0.6" stroke-opacity="0.75" fill="none"/>
<path d="M110.2,39.9q7.2,-1.9 14.5,-5.3M-0.8,59.3q2.8,-0.3 5.5,-1.4M96.9,50.8q4.7,-2.0 9.3,-3.2M51.4,55.3q6.7,-3.1 13.4,-6.5M62.9,55.0q6.4,-2.6 12.8,-5.2M83.9,19.5q6.2,-1.5 12.4,-2.9M140.3,53.4q3.8,-1.5 7.7,-1.6M43.8,46.1q4.2,-2.2 8.4,-3.3M104.3,30.0q4.1,-3.3 8.2,-4.6M89.6,45.5q4.3,-0.7 8.7,-2.3M49.1,38.6q4.3,-1.2 8.7,-3.5M113.7,34.0q4.3,-1.8 8.6,-4.4M30.1,27.8q4.7,-1.7 9.4,-3.9M18.3,32.9q3.9,-1.8 7.8,-3.6" stroke="#f6d2e7" stroke-width="1.1" stroke-opacity="0.75" fill="none"/>
<path d="M98.5,30.5q4.7,-1.1 9.3,-2.0M45.2,59.3q7.5,-2.2 15.0,-3.1M28.6,53.3q3.9,-1.7 7.9,-3.3M81.1,52.1q5.7,-1.8 11.4,-3.2M85.5,52.7q3.6,-1.4 7.3,-2.0M14.6,30.8q4.3,-2.3 8.6,-3.4M-1.4,57.7q5.7,-1.8 11.5,-2.4M113.6,47.1q6.9,-2.2 13.8,-4.3M22.3,58.0q3.7,-2.5 7.3,-3.9M33.2,36.7q4.1,-1.2 8.3,-2.9M106.7,20.4q3.0,0.2 5.9,-1.5M115.8,42.4q3.0,-1.5 6.0,-1.9M18.8,35.9q7.4,-3.1 14.8,-5.5M68.1,27.1q7.1,-1.9 14.1,-3.5M129.3,33.5q4.6,-2.0 9.3,-3.9M66.2,50.5q3.8,-1.7 7.6,-3.7M54.1,31.7q3.1,-0.5 6.3,-1.6M34.9,53.2q2.8,-0.1 5.7,-2.1M81.8,52.4q4.0,-0.2 8.1,-2.0M8.5,59.7q3.4,-0.3 6.9,-2.4M137.6,32.1q4.5,-1.8 9.0,-3.1M50.8,50.6q3.6,-0.5 7.2,-2.4M106.7,41.5q2.7,-1.7 5.3,-2.6M134.8,43.0q5.9,-3.4 11.9,-5.1" stroke="#fae6f2" stroke-width="0.6" stroke-opacity="0.75" fill="none"/>
<path d="M24.1,61.3q2.4,-1.2 4.8,-1.7M52.7,27.5q4.1,0.1 8.3,-1.5M121.6,32.6q2.8,-1.1 5.5,-2.1M130.5,39.0q7.8,-1.5 15.6,-3.3M87.9,50.4q2.9,-1.7 5.7,-1.9M95.7,26.0q2.8,-1.3 5.6,-2.3M57.2,41.9q5.3,-1.9 10.7,-4.5M88.6,33.9q5.5,-3.9 11.0,-6.1M141.2,59.6q2.8,-1.1 5.7,-1.2M2.7,49.0q3.0,-0.9 5.9,-2.3M30.3,31.6q7.2,-2.3 14.4,-3.7M105.5,35.0q3.0,-1.4 5.9,-3.0M6.6,32.4q5.3,-1.3 10.5,-3.9M-3.6,41.9q7.1,-1.9 14.3,-4.6M97.6,33.4q3.0,-0.5 6.1,-2.6M42.7,42.4q5.6,-1.1 11.3,-2.4M74.9,51.1q5.0,-1.9 10.0,-5.0M74.5,46.8q6.3,-0.6 12.5,-2.6M83.7,37.5q4.9,-2.6 9.9,-3.8M107.0,31.3q5.4,-1.3 10.7,-2.6M119.9,48.9q6.6,-2.5 13.3,-6.8" stroke="#fae6f2" stroke-width="1.1" stroke-opacity="0.75" fill="none"/>
<clipPath id="fc1"><path d="M0.0,66.0 C3.3,66.0 12.5,66.5 20.0,66.0 C27.5,65.5 38.3,64.3 45.0,63.0 C51.7,61.7 55.2,59.0 60.0,58.0 C64.8,57.0 68.6,56.8 73.6,57.0 C78.6,57.2 83.9,58.5 90.0,59.0 C96.1,59.5 104.2,59.3 110.0,60.0 C115.8,60.7 119.5,62.7 125.0,63.0 C130.5,63.3 140.0,62.2 143.0,62.0 L142.9,101.0 L0,101.0 Z"/></clipPath>
<g clip-path="url(#fc1)">
<rect x="0" y="0" width="142.9" height="101.0" fill="#f3f0f4"/>
<path d="M-15.5,48.3a6.1,4.8 -28 1,0 10.8,-5.7a6.1,4.8 -28 1,0 -10.8,5.7zM5.9,43.2a5.6,5.3 25 1,0 10.2,4.8a5.6,5.3 25 1,0 -10.2,-4.8zM26.9,47.6a6.0,4.8 -12 1,0 11.8,-2.6a6.0,4.8 -12 1,0 -11.8,2.6zM59.5,46.2a5.7,5.5 14 1,0 11.1,2.7a5.7,5.5 14 1,0 -11.1,-2.7zM91.6,45.6a6.4,5.7 15 1,0 12.4,3.4a6.4,5.7 15 1,0 -12.4,-3.4zM104.3,49.9a6.3,4.8 -28 1,0 11.1,-5.9a6.3,4.8 -28 1,0 -11.1,5.9zM126.1,43.8a6.0,4.7 24 1,0 10.9,4.8a6.0,4.7 24 1,0 -10.9,-4.8zM145.5,50.6a5.8,5.2 -29 1,0 10.2,-5.6a5.8,5.2 -29 1,0 -10.2,5.6zM0.3,57.3a6.4,5.6 -24 1,0 11.7,-5.1a6.4,5.6 -24 1,0 -11.7,5.1zM21.4,57.2a6.1,5.1 -26 1,0 11.1,-5.3a6.1,5.1 -26 1,0 -11.1,5.3zM41.1,57.2a5.7,4.9 -11 1,0 11.2,-2.2a5.7,4.9 -11 1,0 -11.2,2.2zM75.0,55.5a6.3,5.6 -5 1,0 12.6,-1.1a6.3,5.6 -5 1,0 -12.6,1.1zM107.1,57.1a5.6,5.3 -25 1,0 10.1,-4.8a5.6,5.3 -25 1,0 -10.1,4.8zM118.4,53.6a6.1,5.2 4 1,0 12.1,0.9a6.1,5.2 4 1,0 -12.1,-0.9zM4.8,66.6a6.4,5.3 -18 1,0 12.1,-3.9a6.4,5.3 -18 1,0 -12.1,3.9zM49.1,63.6a5.9,4.9 10 1,0 11.6,1.9a5.9,4.9 10 1,0 -11.6,-1.9zM68.9,65.9a6.0,5.7 -5 1,0 12.0,-1.1a6.0,5.7 -5 1,0 -12.0,1.1zM90.4,65.2a6.4,5.1 -16 1,0 12.2,-3.6a6.4,5.1 -16 1,0 -12.2,3.6zM123.5,64.5a6.3,5.5 -6 1,0 12.5,-1.3a6.3,5.5 -6 1,0 -12.5,1.3zM135.0,64.3a6.1,4.8 2 1,0 12.2,0.5a6.1,4.8 2 1,0 -12.2,-0.5zM11.8,72.9a6.1,5.1 1 1,0 12.2,0.2a6.1,5.1 1 1,0 -12.2,-0.2zM22.7,74.4a6.0,4.9 -7 1,0 12.0,-1.6a6.0,4.9 -7 1,0 -12.0,1.6zM34.4,75.7a5.6,5.2 -24 1,0 10.3,-4.5a5.6,5.2 -24 1,0 -10.3,4.5zM43.3,72.9a6.2,5.1 16 1,0 12.0,3.4a6.2,5.1 16 1,0 -12.0,-3.4zM54.3,72.9a6.0,5.0 16 1,0 11.6,3.4a6.0,5.0 16 1,0 -11.6,-3.4zM66.8,72.1a5.6,5.1 26 1,0 10.1,4.9a5.6,5.1 26 1,0 -10.1,-4.9zM77.3,73.6a5.7,5.4 13 1,0 11.1,2.5a5.7,5.4 13 1,0 -11.1,-2.5zM99.1,72.5a6.4,4.9 21 1,0 12.0,4.6a6.4,4.9 21 1,0 -12.0,-4.6zM113.1,73.5a5.5,5.0 -12 1,0 10.7,-2.3a5.5,5.0 -12 1,0 -10.7,2.3zM123.4,72.0a5.8,5.6 12 1,0 11.4,2.5a5.8,5.6 12 1,0 -11.4,-2.5zM131.3,73.9a6.1,4.7 -2 1,0 12.2,-0.5a6.1,4.7 -2 1,0 -12.2,0.5zM143.8,74.7a6.2,4.9 -2 1,0 12.4,-0.3a6.2,4.9 -2 1,0 -12.4,0.3zM-17.8,82.4a6.4,5.6 3 1,0 12.9,0.6a6.4,5.6 3 1,0 -12.9,-0.6zM5.1,80.5a5.7,4.8 11 1,0 11.1,2.2a5.7,4.8 11 1,0 -11.1,-2.2zM38.1,82.2a6.1,5.1 -9 1,0 12.1,-2.0a6.1,5.1 -9 1,0 -12.1,2.0zM59.0,79.9a6.5,5.3 14 1,0 12.6,3.2a6.5,5.3 14 1,0 -12.6,-3.2zM89.3,83.9a6.4,4.8 2 1,0 12.7,0.5a6.4,4.8 2 1,0 -12.7,-0.5zM102.2,84.0a6.4,4.8 -4 1,0 12.7,-0.8a6.4,4.8 -4 1,0 -12.7,0.8zM134.1,83.1a6.1,4.9 -11 1,0 11.9,-2.2a6.1,4.9 -11 1,0 -11.9,2.2zM142.6,82.2a6.3,5.3 -10 1,0 12.3,-2.1a6.3,5.3 -10 1,0 -12.3,2.1zM-12.7,90.5a6.0,5.2 7 1,0 12.0,1.5a6.0,5.2 7 1,0 -12.0,-1.5zM11.0,91.2a5.5,5.2 -2 1,0 11.0,-0.4a5.5,5.2 -2 1,0 -11.0,0.4zM31.5,90.4a6.3,5.6 20 1,0 11.7,4.4a6.3,5.6 20 1,0 -11.7,-4.4zM63.6,91.2a5.6,4.9 -9 1,0 11.1,-1.8a5.6,4.9 -9 1,0 -11.1,1.8zM85.5,89.4a6.0,5.6 17 1,0 11.4,3.4a6.0,5.6 17 1,0 -11.4,-3.4zM118.1,90.2a6.2,5.1 20 1,0 11.7,4.3a6.2,5.1 20 1,0 -11.7,-4.3zM129.5,91.7a6.4,5.2 -13 1,0 12.5,-2.9a6.4,5.2 -13 1,0 -12.5,2.9zM139.8,90.6a6.1,4.8 3 1,0 12.2,0.7a6.1,4.8 3 1,0 -12.2,-0.7zM-17.6,102.3a6.4,5.4 -23 1,0 11.8,-5.1a6.4,5.4 -23 1,0 -11.8,5.1zM-6.9,103.1a6.0,5.0 -29 1,0 10.5,-5.8a6.0,5.0 -29 1,0 -10.5,5.8zM16.9,100.5a6.4,5.5 -10 1,0 12.7,-2.2a6.4,5.5 -10 1,0 -12.7,2.2zM26.7,98.9a5.9,5.3 11 1,0 11.6,2.2a5.9,5.3 11 1,0 -11.6,-2.2zM60.9,101.2a6.1,4.7 -14 1,0 11.8,-3.0a6.1,4.7 -14 1,0 -11.8,3.0zM80.5,102.2a5.9,5.3 -22 1,0 10.9,-4.4a5.9,5.3 -22 1,0 -10.9,4.4zM-12.4,108.0a6.3,5.1 2 1,0 12.6,0.5a6.3,5.1 2 1,0 -12.6,-0.5zM1.0,109.0a6.0,5.2 20 1,0 11.3,4.1a6.0,5.2 20 1,0 -11.3,-4.1zM21.5,111.7a5.9,4.8 -8 1,0 11.7,-1.7a5.9,4.8 -8 1,0 -11.7,1.7zM42.2,109.9a6.2,5.2 -9 1,0 12.2,-1.9a6.2,5.2 -9 1,0 -12.2,1.9zM54.8,113.4a6.1,4.8 -22 1,0 11.3,-4.5a6.1,4.8 -22 1,0 -11.3,4.5zM117.9,112.9a5.9,5.3 -23 1,0 10.8,-4.6a5.9,5.3 -23 1,0 -10.8,4.6zM140.5,109.3a5.9,5.2 11 1,0 11.5,2.3a5.9,5.2 11 1,0 -11.5,-2.3z" fill="none" stroke="#e9a6d0" stroke-width="0.60" stroke-opacity="0.8"/>
<path d="M-7.0,46.2a6.5,5.1 -10 1,0 12.8,-2.1a6.5,5.1 -10 1,0 -12.8,2.1zM17.2,45.8a6.3,4.9 2 1,0 12.6,0.4a6.3,4.9 2 1,0 -12.6,-0.4zM37.8,47.6a6.1,5.2 -18 1,0 11.6,-3.8a6.1,5.2 -18 1,0 -11.6,3.8zM50.6,46.1a6.1,4.6 17 1,0 11.6,3.5a6.1,4.6 17 1,0 -11.6,-3.5zM71.4,42.6a6.4,4.8 24 1,0 11.7,5.2a6.4,4.8 24 1,0 -11.7,-5.2zM82.5,45.9a6.2,5.0 -8 1,0 12.2,-1.8a6.2,5.0 -8 1,0 -12.2,1.8zM114.3,48.5a5.6,4.9 -27 1,0 10.0,-5.0a5.6,4.9 -27 1,0 -10.0,5.0zM135.0,44.6a6.4,5.1 11 1,0 12.5,2.5a6.4,5.1 11 1,0 -12.5,-2.5zM-10.3,53.0a5.9,5.0 23 1,0 10.8,4.6a5.9,5.0 23 1,0 -10.8,-4.6zM10.5,54.4a6.4,5.7 22 1,0 11.8,4.8a6.4,5.7 22 1,0 -11.8,-4.8zM32.9,58.6a5.9,4.9 -29 1,0 10.4,-5.7a5.9,4.9 -29 1,0 -10.4,5.7zM52.5,55.1a6.4,4.8 12 1,0 12.5,2.6a6.4,4.8 12 1,0 -12.5,-2.6zM62.0,57.6a6.2,5.2 -16 1,0 11.9,-3.4a6.2,5.2 -16 1,0 -11.9,3.4zM87.3,58.6a5.9,4.8 -23 1,0 10.9,-4.6a5.9,4.8 -23 1,0 -10.9,4.6zM96.7,55.4a5.8,4.9 1 1,0 11.5,0.3a5.8,4.9 1 1,0 -11.5,-0.3zM128.0,53.3a6.3,4.8 7 1,0 12.5,1.6a6.3,4.8 7 1,0 -12.5,-1.6zM137.9,54.4a5.5,4.7 25 1,0 10.0,4.6a5.5,4.7 25 1,0 -10.0,-4.6zM-18.0,62.3a6.3,5.3 15 1,0 12.2,3.2a6.3,5.3 15 1,0 -12.2,-3.2zM-4.5,64.9a5.9,5.3 -15 1,0 11.5,-3.0a5.9,5.3 -15 1,0 -11.5,3.0zM15.9,63.9a5.8,5.3 18 1,0 11.0,3.7a5.8,5.3 18 1,0 -11.0,-3.7zM28.2,62.7a5.6,4.8 5 1,0 11.1,0.9a5.6,4.8 5 1,0 -11.1,-0.9zM36.4,62.5a6.2,5.5 17 1,0 11.8,3.6a6.2,5.5 17 1,0 -11.8,-3.6zM58.8,66.8a6.2,5.4 -22 1,0 11.5,-4.7a6.2,5.4 -22 1,0 -11.5,4.7zM80.0,63.0a6.4,5.6 13 1,0 12.6,2.9a6.4,5.6 13 1,0 -12.6,-2.9zM104.4,62.3a5.6,5.2 14 1,0 10.9,2.8a5.6,5.2 14 1,0 -10.9,-2.8zM115.7,67.5a5.6,5.5 -17 1,0 10.8,-3.3a5.6,5.5 -17 1,0 -10.8,3.3zM144.4,65.8a6.1,5.2 1 1,0 12.2,0.2a6.1,5.2 1 1,0 -12.2,-0.2zM-11.2,74.4a5.5,5.4 -22 1,0 10.3,-4.1a5.5,5.4 -22 1,0 -10.3,4.1zM-1.4,75.9a6.3,5.1 -7 1,0 12.6,-1.6a6.3,5.1 -7 1,0 -12.6,1.6zM90.2,75.7a6.0,4.9 -11 1,0 11.7,-2.4a6.0,4.9 -11 1,0 -11.7,2.4zM-6.8,85.2a6.4,5.3 -14 1,0 12.4,-3.1a6.4,5.3 -14 1,0 -12.4,3.1zM15.1,83.1a6.2,5.1 -8 1,0 12.2,-1.8a6.2,5.1 -8 1,0 -12.2,1.8zM27.2,85.0a6.5,5.5 -11 1,0 12.7,-2.6a6.5,5.5 -11 1,0 -12.7,2.6zM49.6,83.9a6.1,5.0 -19 1,0 11.6,-4.0a6.1,5.0 -19 1,0 -11.6,4.0zM68.6,83.2a5.8,5.3 -2 1,0 11.5,-0.3a5.8,5.3 -2 1,0 -11.5,0.3zM82.1,82.6a5.7,4.9 -7 1,0 11.4,-1.4a5.7,4.9 -7 1,0 -11.4,1.4zM111.7,82.2a5.9,4.8 10 1,0 11.6,2.1a5.9,4.8 10 1,0 -11.6,-2.1zM124.0,80.0a6.3,5.2 23 1,0 11.7,4.9a6.3,5.2 23 1,0 -11.7,-4.9zM-0.9,88.5a5.7,5.5 26 1,0 10.2,5.1a5.7,5.5 26 1,0 -10.2,-5.1zM19.9,92.5a5.7,4.9 -0 1,0 11.5,-0.1a5.7,4.9 -0 1,0 -11.5,0.1zM43.0,90.1a5.6,5.0 0 1,0 11.2,0.1a5.6,5.0 0 1,0 -11.2,-0.1zM54.4,90.9a5.8,4.7 6 1,0 11.5,1.1a5.8,4.7 6 1,0 -11.5,-1.1zM74.4,88.8a5.6,5.6 16 1,0 10.7,3.0a5.6,5.6 16 1,0 -10.7,-3.0zM94.5,91.2a6.4,5.5 2 1,0 12.8,0.3a6.4,5.5 2 1,0 -12.8,-0.3zM106.5,92.5a5.8,5.1 -5 1,0 11.6,-0.9a5.8,5.1 -5 1,0 -11.6,0.9zM6.8,97.8a5.6,5.1 23 1,0 10.3,4.3a5.6,5.1 23 1,0 -10.3,-4.3zM37.5,98.3a6.0,5.0 28 1,0 10.6,5.7a6.0,5.0 28 1,0 -10.6,-5.7zM49.1,100.6a6.2,5.5 9 1,0 12.2,2.0a6.2,5.5 9 1,0 -12.2,-2.0zM71.2,97.1a5.5,4.8 22 1,0 10.2,4.2a5.5,4.8 22 1,0 -10.2,-4.2zM92.7,101.9a5.6,5.5 -25 1,0 10.1,-4.8a5.6,5.5 -25 1,0 -10.1,4.8zM102.2,100.6a5.9,4.9 -8 1,0 11.7,-1.6a5.9,4.9 -8 1,0 -11.7,1.6zM114.1,103.0a6.2,4.6 -29 1,0 10.8,-6.0a6.2,4.6 -29 1,0 -10.8,6.0zM125.5,98.7a5.8,4.7 16 1,0 11.1,3.2a5.8,4.7 16 1,0 -11.1,-3.2zM136.3,96.5a5.5,5.2 29 1,0 9.6,5.4a5.5,5.2 29 1,0 -9.6,-5.4zM146.6,99.8a5.5,4.8 -1 1,0 11.1,-0.2a5.5,4.8 -1 1,0 -11.1,0.2zM10.9,105.6a6.5,5.4 24 1,0 11.8,5.3a6.5,5.4 24 1,0 -11.8,-5.3zM32.1,111.9a6.0,5.6 -24 1,0 11.0,-5.0a6.0,5.6 -24 1,0 -11.0,5.0zM66.4,105.8a6.1,4.8 28 1,0 10.7,5.6a6.1,4.8 28 1,0 -10.7,-5.6zM76.7,109.7a6.3,4.7 -7 1,0 12.5,-1.6a6.3,4.7 -7 1,0 -12.5,1.6zM86.4,107.9a6.4,5.2 17 1,0 12.3,3.7a6.4,5.2 17 1,0 -12.3,-3.7zM96.6,111.7a6.2,5.1 -18 1,0 11.7,-3.8a6.2,5.1 -18 1,0 -11.7,3.8zM106.9,112.7a6.4,4.7 -14 1,0 12.5,-3.1a6.4,4.7 -14 1,0 -12.5,3.1zM128.7,108.1a5.8,5.5 13 1,0 11.3,2.6a5.8,5.5 13 1,0 -11.3,-2.6z" fill="none" stroke="#e9a6d0" stroke-width="0.95" stroke-opacity="0.8"/>
<path d="M36.1,49.2a2.1,0.9 0 1,0 4.3,0.0a2.1,0.9 0 1,0 -4.3,-0.0zM60.1,50.6a1.8,1.1 0 1,0 3.5,0.0a1.8,1.1 0 1,0 -3.5,-0.0zM92.3,48.0a2.0,1.4 0 1,0 3.9,0.0a2.0,1.4 0 1,0 -3.9,-0.0zM41.7,58.7a1.7,1.1 0 1,0 3.4,0.0a1.7,1.1 0 1,0 -3.4,-0.0zM63.0,59.3a1.5,1.5 0 1,0 3.0,0.0a1.5,1.5 0 1,0 -3.0,-0.0zM105.8,58.5a1.8,1.6 0 1,0 3.7,0.0a1.8,1.6 0 1,0 -3.7,-0.0zM127.4,57.2a2.6,0.9 0 1,0 5.2,0.0a2.6,0.9 0 1,0 -5.2,-0.0zM22.1,76.1a1.3,1.1 0 1,0 2.7,0.0a1.3,1.1 0 1,0 -2.7,-0.0zM153.5,77.4a2.0,0.9 0 1,0 3.9,0.0a2.0,0.9 0 1,0 -3.9,-0.0zM4.1,86.8a1.0,1.4 0 1,0 2.1,0.0a1.0,1.4 0 1,0 -2.1,-0.0zM144.2,84.9a1.3,1.2 0 1,0 2.6,0.0a1.3,1.2 0 1,0 -2.6,-0.0zM152.1,84.3a2.3,1.6 0 1,0 4.5,0.0a2.3,1.6 0 1,0 -4.5,-0.0zM7.0,94.3a2.4,1.6 0 1,0 4.7,0.0a2.4,1.6 0 1,0 -4.7,-0.0zM72.6,93.3a1.6,0.9 0 1,0 3.2,0.0a1.6,0.9 0 1,0 -3.2,-0.0zM83.5,93.7a1.3,0.8 0 1,0 2.6,0.0a1.3,0.8 0 1,0 -2.6,-0.0zM104.6,94.6a2.2,1.3 0 1,0 4.3,0.0a2.2,1.3 0 1,0 -4.3,-0.0zM140.5,93.4a1.1,1.0 0 1,0 2.2,0.0a1.1,1.0 0 1,0 -2.2,-0.0zM148.9,93.8a2.5,1.4 0 1,0 5.1,0.0a2.5,1.4 0 1,0 -5.1,-0.0zM-7.3,103.0a1.4,0.9 0 1,0 2.8,0.0a1.4,0.9 0 1,0 -2.8,-0.0zM15.1,102.9a1.8,0.8 0 1,0 3.6,0.0a1.8,0.8 0 1,0 -3.6,-0.0zM90.0,103.1a1.2,1.2 0 1,0 2.3,0.0a1.2,1.2 0 1,0 -2.3,-0.0zM134.2,103.2a2.1,1.1 0 1,0 4.1,0.0a2.1,1.1 0 1,0 -4.1,-0.0zM-1.5,111.3a1.1,1.6 0 1,0 2.2,0.0a1.1,1.6 0 1,0 -2.2,-0.0zM138.0,112.6a1.6,1.6 0 1,0 3.2,0.0a1.6,1.6 0 1,0 -3.2,-0.0z" fill="#e9a6d0" fill-opacity="0.8"/>
<path d="M0.0,66.0 C3.3,66.0 12.5,66.5 20.0,66.0 C27.5,65.5 38.3,64.3 45.0,63.0 C51.7,61.7 55.2,59.0 60.0,58.0 C64.8,57.0 68.6,56.8 73.6,57.0 C78.6,57.2 83.9,58.5 90.0,59.0 C96.1,59.5 104.2,59.3 110.0,60.0 C115.8,60.7 119.5,62.7 125.0,63.0 C130.5,63.3 140.0,62.2 143.0,62.0" stroke="#f0badb" stroke-width="5" stroke-opacity="0.55" fill="none"/>
</g>
<g transform="rotate(-40 139 93)"><ellipse cx="139" cy="93" rx="7" ry="3" fill="#b060b4" fill-opacity="0.85"/>
<path d="M144.7,92.4h.01M140.7,91.8h.01M139.1,92.3h.01M140.0,93.9h.01M139.2,91.2h.01M141.0,91.9h.01M133.7,91.6h.01M144.3,92.2h.01M137.5,93.6h.01M137.0,92.6h.01" stroke="#6a3c8c" stroke-opacity="0.6" stroke-width="0.9" stroke-linecap="round" fill="none"/>
</g>
<path d="M18.8,71.8 Q45.1,47.2 71.4,22.6" stroke="#aa64b4" stroke-width="7.5" stroke-linecap="round" fill="none" stroke-opacity="0.88"/>
<path d="M18.8,71.8 Q45.1,47.2 71.4,22.6" stroke="#f8f0f7" stroke-width="1.7" stroke-linecap="round" fill="none"/>
<path d="M38.3,50.8h.01M29.6,56.9h.01M24.9,62.6h.01M32.7,56.6h.01M37.5,50.1h.01M25.3,64.1h.01M57.1,37.1h.01M53.2,36.6h.01M49.2,46.7h.01M43.2,47.3h.01M53.8,43.3h.01M60.3,29.6h.01M24.1,68.7h.01M27.5,66.3h.01M56.0,40.1h.01M44.2,52.1h.01M58.8,37.8h.01M68.4,23.9h.01M63.6,32.0h.01M55.9,38.6h.01M26.7,68.2h.01M23.0,66.1h.01M28.5,67.4h.01M25.8,62.9h.01M42.3,53.9h.01M66.2,24.4h.01M43.3,51.9h.01M49.5,46.7h.01M58.6,32.8h.01M21.2,72.8h.01M52.4,39.1h.01M62.0,33.3h.01M44.5,50.5h.01M27.6,65.6h.01M37.5,50.1h.01M45.2,48.4h.01M23.3,71.9h.01M59.8,31.0h.01M30.1,58.3h.01M64.3,24.7h.01M23.4,64.3h.01M52.3,42.3h.01M43.3,45.3h.01M70.3,22.1h.01M69.1,23.3h.01M33.4,55.5h.01M29.5,66.8h.01M65.3,30.7h.01M35.2,53.0h.01M27.1,60.6h.01M70.5,22.1h.01M33.9,53.7h.01M61.8,34.7h.01M52.5,43.7h.01M68.5,21.4h.01M36.0,52.4h.01M66.4,29.0h.01M30.4,56.6h.01M21.8,72.0h.01M66.6,23.5h.01M40.9,54.4h.01M45.5,43.0h.01M25.0,69.0h.01M28.6,65.2h.01M51.4,39.3h.01M42.7,52.3h.01M45.1,49.2h.01M35.5,53.2h.01M51.3,39.1h.01M59.0,38.2h.01M51.2,45.9h.01M56.9,34.2h.01M21.2,74.0h.01M67.8,22.8h.01M37.4,52.9h.01M28.5,67.3h.01M51.9,37.1h.01M38.7,49.5h.01M68.7,30.0h.01M72.2,26.1h.01M52.4,36.1h.01M69.4,28.4h.01M22.3,64.8h.01M29.9,63.4h.01M22.6,72.8h.01M64.0,25.3h.01M64.9,26.2h.01M29.2,59.8h.01M62.9,27.0h.01M42.8,52.4h.01M52.3,43.5h.01M65.1,26.6h.01M29.1,64.9h.01M29.2,66.3h.01M23.5,65.3h.01M37.1,59.7h.01M38.8,49.5h.01M64.7,31.6h.01M52.0,36.5h.01" stroke="#6a3c8c" stroke-opacity="0.55" stroke-width="0.9" stroke-linecap="round" fill="none"/>
<path d="M3.5,53 Q9.2,45.8 15,38.5" stroke="#b46cba" stroke-width="4.2" stroke-linecap="round" fill="none" stroke-opacity="0.88"/>
<path d="M9.3,48.8h.01M5.6,49.6h.01M5.7,49.2h.01M5.7,49.5h.01M13.0,39.3h.01M3.6,52.0h.01M11.9,42.6h.01M8.0,48.3h.01M13.9,39.3h.01M4.9,49.3h.01M7.8,45.7h.01M13.0,38.9h.01M11.7,43.5h.01M10.6,44.6h.01M8.5,43.4h.01M5.6,47.4h.01M10.1,46.2h.01" stroke="#6a3c8c" stroke-opacity="0.55" stroke-width="0.9" stroke-linecap="round" fill="none"/>
<path d="M84.5,50.5 Q98.2,42.5 112,34.5" stroke="#a860b2" stroke-width="5.2" stroke-linecap="round" fill="none" stroke-opacity="0.88"/>
<path d="M88.9,45.1h.01M90.3,44.7h.01M103.3,39.6h.01M95.5,41.4h.01M98.9,40.0h.01M101.8,37.9h.01M87.4,50.8h.01M111.8,34.1h.01M102.2,38.6h.01M111.0,33.3h.01M109.6,36.3h.01M109.3,33.5h.01M112.4,36.8h.01M84.7,47.6h.01M110.5,34.9h.01M87.7,46.0h.01M88.9,47.9h.01M90.2,46.1h.01M87.4,46.6h.01M106.1,36.8h.01M85.0,48.6h.01M103.1,38.1h.01M108.9,38.6h.01M102.5,39.2h.01M105.6,40.8h.01M89.5,49.8h.01M112.1,35.8h.01M102.1,38.0h.01M93.6,45.7h.01M92.1,46.2h.01M106.8,37.2h.01M106.0,36.6h.01M87.4,49.7h.01M86.1,52.1h.01M112.5,36.8h.01M102.3,38.3h.01" stroke="#6a3c8c" stroke-opacity="0.55" stroke-width="0.9" stroke-linecap="round" fill="none"/>
<path d="M103,46 Q106.0,43.5 109,41" stroke="#a868b6" stroke-width="8" stroke-linecap="round" fill="none" stroke-opacity="0.88"/>
<path d="M109.5,42.0h.01M103.5,45.4h.01M108.9,42.1h.01M107.6,47.3h.01M103.6,40.7h.01M103.7,45.1h.01M106.8,42.2h.01M106.7,43.3h.01M102.4,41.8h.01M107.1,46.0h.01M106.3,38.3h.01M107.9,46.7h.01M104.4,40.3h.01" stroke="#6a3c8c" stroke-opacity="0.55" stroke-width="0.9" stroke-linecap="round" fill="none"/>
<path d="M126.5,57 Q134.2,51.2 142,45.5" stroke="#a85ab2" stroke-width="7.5" stroke-linecap="round" fill="none" stroke-opacity="0.88"/>
<path d="M126.5,57 Q134.2,51.2 142,45.5" stroke="#f09ac0" stroke-width="2.6" stroke-linecap="round" fill="none"/>
<path d="M131.2,57.9h.01M133.3,55.2h.01M136.0,51.7h.01M131.5,55.6h.01M127.5,52.9h.01M132.5,56.8h.01M134.9,52.4h.01M137.9,52.2h.01M137.1,53.1h.01M140.3,50.8h.01M133.7,53.6h.01M134.1,46.7h.01M132.2,49.1h.01M139.4,50.2h.01M137.4,50.6h.01M135.8,53.4h.01M133.3,47.8h.01M125.9,54.1h.01M126.3,55.1h.01M130.6,49.7h.01" stroke="#6a3c8c" stroke-opacity="0.55" stroke-width="0.9" stroke-linecap="round" fill="none"/>
<path d="M58,37 Q62.0,33.5 66,30" stroke="#b070b8" stroke-width="6" stroke-linecap="round" fill="none" stroke-opacity="0.88"/>
<path d="M58.2,35.6h.01M56.8,34.7h.01M63.5,29.4h.01M61.2,35.5h.01M63.7,35.4h.01M63.9,33.3h.01M60.8,33.0h.01M61.9,30.6h.01M60.9,36.3h.01M59.4,34.2h.01M63.5,29.1h.01M62.7,34.6h.01M59.6,38.1h.01M66.3,31.0h.01" stroke="#6a3c8c" stroke-opacity="0.55" stroke-width="0.9" stroke-linecap="round" fill="none"/>
<path d="M112,22 Q116.0,19.0 120,16" stroke="#b878bc" stroke-width="5" stroke-linecap="round" fill="none" stroke-opacity="0.88"/>
<path d="M116.2,19.8h.01M117.1,17.5h.01M120.6,17.8h.01M118.8,14.8h.01M113.4,19.6h.01M114.4,18.7h.01M117.7,19.4h.01M114.7,21.3h.01M117.9,19.1h.01M117.2,17.7h.01M114.9,19.1h.01" stroke="#6a3c8c" stroke-opacity="0.55" stroke-width="0.9" stroke-linecap="round" fill="none"/>
<path d="M0,97.2 L60,95.4 L110,94.2 L143,92.8 L143,102 L0,102 Z" fill="#f0a4cc"/>

<path d="M0.0,28.0 C0.8,27.7 3.5,26.2 5.0,26.0 C6.5,25.8 7.5,27.2 9.0,27.0 C10.5,26.8 12.3,25.1 14.0,24.5 C15.7,23.9 17.2,23.4 19.0,23.6 C20.8,23.8 23.2,25.4 25.0,25.5 C26.8,25.6 28.2,25.1 30.0,24.5 C31.8,23.9 34.2,22.3 36.0,22.0 C37.8,21.7 39.0,22.2 40.7,22.5 C42.4,22.8 44.1,23.7 46.0,23.5 C47.9,23.3 50.2,22.1 52.0,21.5 C53.8,20.9 55.2,20.4 57.0,20.0 C58.8,19.6 60.8,19.4 62.6,19.3 C64.4,19.2 66.1,19.8 68.0,19.5 C69.9,19.2 72.0,18.2 74.0,17.5 C76.0,16.8 78.2,15.8 80.0,15.5 C81.8,15.2 83.0,16.3 84.5,16.0 C86.0,15.7 87.6,13.8 89.0,13.5 C90.4,13.2 92.0,13.6 93.0,14.5 C94.0,15.4 94.4,17.8 95.0,19.0 C95.6,20.2 95.8,21.6 96.5,21.5 C97.2,21.4 98.2,19.1 99.0,18.5 C99.8,17.9 99.8,18.4 101.0,18.0 C102.2,17.6 104.2,17.0 106.0,16.0 C107.8,15.0 110.2,12.9 112.0,12.0 C113.8,11.1 115.3,10.2 117.0,10.5 C118.7,10.8 120.2,13.1 122.0,14.0 C123.8,14.9 126.2,16.0 128.0,16.0 C129.8,16.0 131.7,14.1 133.0,14.0 C134.3,13.9 134.3,15.5 136.0,15.5 C137.7,15.5 141.8,14.1 143.0,13.8 L142.9,16.6 L140.9,18.1 L138.8,19.4 L136.8,18.1 L134.7,17.4 L132.7,16.5 L130.7,18.2 L128.6,19.4 L126.6,20.0 L124.5,18.3 L122.5,18.6 L120.4,17.1 L118.4,15.3 L116.4,14.0 L114.3,14.7 L112.3,15.2 L110.2,15.7 L108.2,18.9 L106.2,20.0 L104.1,21.2 L102.1,20.4 L100.0,21.8 L98.0,24.0 L95.9,24.9 L93.9,19.6 L91.9,18.7 L89.8,16.8 L87.8,17.4 L85.7,18.7 L83.7,19.1 L81.7,20.1 L79.6,18.6 L77.6,19.9 L75.5,21.0 L73.5,20.2 L71.5,22.3 L69.4,21.6 L67.4,22.0 L65.3,24.0 L63.3,22.2 L61.2,22.1 L59.2,22.2 L57.2,23.4 L55.1,23.6 L53.1,24.8 L51.0,25.4 L49.0,24.9 L47.0,25.7 L44.9,26.4 L42.9,25.5 L40.8,26.6 L38.8,25.3 L36.7,24.5 L34.7,26.4 L32.7,26.8 L30.6,27.6 L28.6,27.5 L26.5,27.8 L24.5,29.1 L22.5,27.6 L20.4,28.6 L18.4,27.2 L16.3,28.4 L14.3,26.9 L12.2,29.3 L10.2,29.3 L8.2,31.2 L6.1,29.8 L4.1,29.3 L2.0,29.6 L0.0,32.0 Z" fill="#b46cb8"/>
<path d="M0.0,28.4 C0.8,28.1 3.5,26.6 5.0,26.4 C6.5,26.2 7.5,27.6 9.0,27.4 C10.5,27.1 12.3,25.5 14.0,24.9 C15.7,24.3 17.2,23.8 19.0,24.0 C20.8,24.2 23.2,25.8 25.0,25.9 C26.8,26.0 28.2,25.5 30.0,24.9 C31.8,24.3 34.2,22.7 36.0,22.4 C37.8,22.1 39.0,22.6 40.7,22.9 C42.4,23.1 44.1,24.1 46.0,23.9 C47.9,23.7 50.2,22.5 52.0,21.9 C53.8,21.3 55.2,20.8 57.0,20.4 C58.8,20.0 60.8,19.8 62.6,19.7 C64.4,19.6 66.1,20.2 68.0,19.9 C69.9,19.6 72.0,18.6 74.0,17.9 C76.0,17.2 78.2,16.1 80.0,15.9 C81.8,15.7 83.0,16.7 84.5,16.4 C86.0,16.1 87.6,14.2 89.0,13.9 C90.4,13.7 92.0,14.0 93.0,14.9 C94.0,15.8 94.4,18.2 95.0,19.4 C95.6,20.6 95.8,22.0 96.5,21.9 C97.2,21.8 98.2,19.5 99.0,18.9 C99.8,18.3 99.8,18.8 101.0,18.4 C102.2,18.0 104.2,17.4 106.0,16.4 C107.8,15.4 110.2,13.3 112.0,12.4 C113.8,11.5 115.3,10.6 117.0,10.9 C118.7,11.2 120.2,13.5 122.0,14.4 C123.8,15.3 126.2,16.4 128.0,16.4 C129.8,16.4 131.7,14.5 133.0,14.4 C134.3,14.3 134.3,15.9 136.0,15.9 C137.7,15.9 141.8,14.5 143.0,14.2" stroke="#9250a2" stroke-width="0.9" stroke-opacity="0.8" fill="none"/>
<path d="M138.5,54.0h.01M83.5,57.4h.01M38.3,57.2h.01M5.9,29.6h.01M8.7,67.0h.01M136.0,25.8h.01M36.1,62.0h.01M78.7,17.0h.01M66.4,44.5h.01M124.1,64.6h.01M71.2,50.6h.01M35.0,58.3h.01M34.3,60.5h.01M58.4,24.3h.01M80.6,27.2h.01M81.5,34.1h.01M54.8,51.4h.01M104.4,44.9h.01M29.7,35.7h.01M106.0,61.2h.01M124.9,61.4h.01M91.2,30.5h.01M3.1,61.4h.01M103.0,43.3h.01M105.6,56.0h.01M27.4,27.4h.01M13.2,37.2h.01M29.6,52.9h.01M29.3,43.6h.01M30.2,26.4h.01M124.7,46.4h.01M12.7,56.9h.01M89.4,40.1h.01M94.2,47.4h.01M72.1,51.1h.01M132.9,58.9h.01M10.7,36.4h.01M32.7,49.8h.01M85.5,60.3h.01M65.0,28.7h.01M42.6,48.7h.01M12.2,50.8h.01M103.9,42.5h.01M55.9,54.9h.01M49.2,40.6h.01M12.9,42.0h.01M123.4,30.2h.01M136.6,52.2h.01M62.0,40.0h.01M7.4,36.3h.01M93.2,19.0h.01M139.7,50.2h.01M48.5,38.3h.01M68.3,30.4h.01M97.3,37.8h.01M22.5,26.8h.01M107.6,42.8h.01M115.7,38.0h.01M3.1,58.2h.01M49.0,61.8h.01M46.7,61.3h.01M113.4,37.4h.01M69.6,55.6h.01M138.2,48.6h.01M14.0,27.5h.01M66.1,42.2h.01M62.8,21.2h.01M41.5,41.7h.01M7.4,28.0h.01M78.0,24.3h.01M51.9,31.2h.01M100.8,25.3h.01M82.6,39.0h.01M77.1,34.2h.01M57.8,52.3h.01M89.5,53.3h.01M87.4,24.8h.01M3.6,64.4h.01M91.0,16.2h.01M27.3,26.9h.01M8.2,51.2h.01M95.1,32.1h.01M47.2,49.2h.01M51.8,35.5h.01M116.0,58.3h.01M120.9,49.2h.01M4.0,64.6h.01M112.6,26.8h.01M72.2,33.5h.01M78.4,42.6h.01M45.7,50.6h.01M131.7,54.2h.01M126.7,25.1h.01M26.1,50.6h.01M109.1,37.2h.01" stroke="#6a3c8c" stroke-opacity="0.8" stroke-width="0.9" stroke-linecap="round" fill="none"/>
<path d="M86.4,31.5h.01M110.0,29.5h.01M122.0,38.7h.01M8.4,47.6h.01M95.6,55.2h.01M106.5,51.3h.01M97.2,59.0h.01M3.5,40.7h.01M84.8,50.0h.01M70.3,40.8h.01M55.2,53.3h.01M59.7,56.5h.01M87.8,40.4h.01M6.3,33.5h.01M97.0,24.0h.01M111.4,24.2h.01M2.9,37.9h.01M0.5,65.0h.01M42.8,24.5h.01M52.1,39.2h.01M24.6,33.5h.01M23.2,29.9h.01M96.8,29.6h.01M77.9,54.5h.01M124.7,55.1h.01M63.5,48.6h.01M34.9,58.4h.01M51.8,33.2h.01M63.5,43.0h.01M142.6,54.4h.01M120.7,28.4h.01M42.3,40.1h.01M92.6,17.2h.01M65.2,40.9h.01M52.5,59.4h.01M79.6,36.6h.01M53.1,60.1h.01M12.9,47.1h.01M32.4,48.9h.01M93.5,55.5h.01M27.8,30.4h.01M76.4,31.7h.01M61.0,42.4h.01M5.6,39.0h.01M51.0,61.2h.01M76.0,22.5h.01M123.8,54.9h.01M102.2,50.9h.01M64.0,59.3h.01M128.0,45.3h.01M78.1,19.5h.01M101.4,21.8h.01M106.4,27.7h.01M71.4,56.6h.01M93.2,52.7h.01M141.4,98.0h.01M87.8,59.3h.01M103.1,97.9h.01M86.3,68.9h.01M44.5,69.8h.01M127.4,82.8h.01M139.5,69.3h.01M26.9,93.7h.01M32.0,70.6h.01M49.1,90.2h.01M102.3,92.3h.01M90.6,90.1h.01M126.7,87.5h.01M140.7,93.4h.01M128.8,91.1h.01M45.7,67.2h.01M1.0,89.9h.01M123.7,74.4h.01M125.6,87.9h.01M55.4,86.4h.01M59.4,86.2h.01M5.0,86.7h.01M38.6,71.2h.01M11.9,74.8h.01M99.3,75.3h.01M133.7,88.1h.01M17.2,88.2h.01M93.0,88.1h.01M133.6,74.8h.01M1.0,80.4h.01M84.0,63.5h.01M36.2,68.4h.01M51.4,85.3h.01M79.7,74.6h.01M134.7,87.3h.01M86.9,67.3h.01M1.6,89.0h.01M92.1,85.4h.01M64.1,78.7h.01M6.1,85.0h.01" stroke="#6a3c8c" stroke-opacity="0.8" stroke-width="1.25" stroke-linecap="round" fill="none"/>
<path d="M0.0,28.0 C0.8,27.7 3.5,26.2 5.0,26.0 C6.5,25.8 7.5,27.2 9.0,27.0 C10.5,26.8 12.3,25.1 14.0,24.5 C15.7,23.9 17.2,23.4 19.0,23.6 C20.8,23.8 23.2,25.4 25.0,25.5 C26.8,25.6 28.2,25.1 30.0,24.5 C31.8,23.9 34.2,22.3 36.0,22.0 C37.8,21.7 39.0,22.2 40.7,22.5 C42.4,22.8 44.1,23.7 46.0,23.5 C47.9,23.3 50.2,22.1 52.0,21.5 C53.8,20.9 55.2,20.4 57.0,20.0 C58.8,19.6 60.8,19.4 62.6,19.3 C64.4,19.2 66.1,19.8 68.0,19.5 C69.9,19.2 72.0,18.2 74.0,17.5 C76.0,16.8 78.2,15.8 80.0,15.5 C81.8,15.2 83.0,16.3 84.5,16.0 C86.0,15.7 87.6,13.8 89.0,13.5 C90.4,13.2 92.0,13.6 93.0,14.5 C94.0,15.4 94.4,17.8 95.0,19.0 C95.6,20.2 95.8,21.6 96.5,21.5 C97.2,21.4 98.2,19.1 99.0,18.5 C99.8,17.9 99.8,18.4 101.0,18.0 C102.2,17.6 104.2,17.0 106.0,16.0 C107.8,15.0 110.2,12.9 112.0,12.0 C113.8,11.1 115.3,10.2 117.0,10.5 C118.7,10.8 120.2,13.1 122.0,14.0 C123.8,14.9 126.2,16.0 128.0,16.0 C129.8,16.0 131.7,14.1 133.0,14.0 C134.3,13.9 134.3,15.5 136.0,15.5 C137.7,15.5 141.8,14.1 143.0,13.8 L143.0,64.0 L125.0,65.0 L110.0,62.0 L90.0,61.0 L73.6,59.0 L60.0,60.0 L45.0,65.0 L20.0,68.0 L0.0,68.0 Z" fill="#fff" filter="url(#grain)" opacity="0.5"/>
<path d="M0.0,66.0 C3.3,66.0 12.5,66.5 20.0,66.0 C27.5,65.5 38.3,64.3 45.0,63.0 C51.7,61.7 55.2,59.0 60.0,58.0 C64.8,57.0 68.6,56.8 73.6,57.0 C78.6,57.2 83.9,58.5 90.0,59.0 C96.1,59.5 104.2,59.3 110.0,60.0 C115.8,60.7 119.5,62.7 125.0,63.0 C130.5,63.3 140.0,62.2 143.0,62.0 L142.9,101.0 L0,101.0 Z" fill="#fff" filter="url(#grain)" opacity="0.09"/>
<path d="M0.0,28.0 C0.8,27.7 3.5,26.2 5.0,26.0 C6.5,25.8 7.5,27.2 9.0,27.0 C10.5,26.8 12.3,25.1 14.0,24.5 C15.7,23.9 17.2,23.4 19.0,23.6 C20.8,23.8 23.2,25.4 25.0,25.5 C26.8,25.6 28.2,25.1 30.0,24.5 C31.8,23.9 34.2,22.3 36.0,22.0 C37.8,21.7 39.0,22.2 40.7,22.5 C42.4,22.8 44.1,23.7 46.0,23.5 C47.9,23.3 50.2,22.1 52.0,21.5 C53.8,20.9 55.2,20.4 57.0,20.0 C58.8,19.6 60.8,19.4 62.6,19.3 C64.4,19.2 66.1,19.8 68.0,19.5 C69.9,19.2 72.0,18.2 74.0,17.5 C76.0,16.8 78.2,15.8 80.0,15.5 C81.8,15.2 83.0,16.3 84.5,16.0 C86.0,15.7 87.6,13.8 89.0,13.5 C90.4,13.2 92.0,13.6 93.0,14.5 C94.0,15.4 94.4,17.8 95.0,19.0 C95.6,20.2 95.8,21.6 96.5,21.5 C97.2,21.4 98.2,19.1 99.0,18.5 C99.8,17.9 99.8,18.4 101.0,18.0 C102.2,17.6 104.2,17.0 106.0,16.0 C107.8,15.0 110.2,12.9 112.0,12.0 C113.8,11.1 115.3,10.2 117.0,10.5 C118.7,10.8 120.2,13.1 122.0,14.0 C123.8,14.9 126.2,16.0 128.0,16.0 C129.8,16.0 131.7,14.1 133.0,14.0 C134.3,13.9 134.3,15.5 136.0,15.5 C137.7,15.5 141.8,14.1 143.0,13.8 L142.9,101.0 L0,101.0 Z" fill="#fff" filter="url(#grainw)" opacity="0.4"/>
</g>
<rect x="124.8" y="92.2" width="11.2" height="1.2" fill="#222"/>
<text x="130.4" y="96.5" text-anchor="middle" font-family='"Liberation Sans", sans-serif' font-weight="bold" font-size="3.3" fill="#222">100 μm</text>
</g>
<text x="212.1" y="477.8" text-anchor="middle" font-family='"Liberation Serif", serif' font-size="12.7" fill="#000">D-gal</text>
<clipPath id="hc2"><rect x="0" y="0" width="143.2" height="100.7"/></clipPath>
<g transform="translate(148.9,484.0)" clip-path="url(#hc2)">
<rect x="0" y="0" width="143.2" height="100.7" fill="#f2f0f3"/>
<g filter="url(#soft)">
<path d="M137.2,0.8q2.1,2.0 5.9,-1.5M93.3,10.5q5.6,-1.1 9.8,-0.7M86.1,7.2q4.7,1.7 8.5,-1.8M126.2,3.8q3.2,-1.2 9.2,0.3M134.3,-1.5q5.8,0.3 8.5,0.4M37.0,14.7q3.2,1.1 9.8,0.6M20.4,15.2q4.7,-1.3 5.2,0.1M4.6,22.0q4.0,0.1 7.0,0.6M131.2,1.5q3.5,0.3 6.5,0.4M77.8,12.8q4.7,0.1 5.4,2.0M50.9,25.3q3.6,1.7 9.8,0.0M57.4,27.8q5.6,-1.3 7.7,-0.6M47.0,21.5q2.8,-1.9 7.7,1.2M92.7,10.9q4.8,-1.8 7.1,1.3M131.9,0.6q5.4,-0.0 7.6,0.3M142.0,-2.2q3.9,0.9 8.2,-0.6" stroke="#be7cc2" stroke-opacity="0.3" stroke-width="0.6" fill="none"/>
<path d="M0.0,26.7 C1.0,26.9 3.7,28.4 6.0,28.0 C8.3,27.6 11.6,25.7 13.6,24.5 C15.6,23.3 16.6,21.8 18.0,21.0 C19.4,20.2 20.8,20.6 22.0,20.0 C23.2,19.4 23.8,17.8 25.0,17.5 C26.2,17.2 27.7,17.6 29.0,18.0 C30.3,18.4 31.7,19.6 33.0,20.0 C34.3,20.4 35.7,20.6 37.0,20.5 C38.3,20.4 39.8,19.4 41.0,19.5 C42.2,19.6 42.7,19.8 44.0,21.0 C45.3,22.2 47.5,25.4 49.0,27.0 C50.5,28.6 51.7,30.0 53.0,30.5 C54.3,31.0 55.8,30.4 57.0,30.0 C58.2,29.6 58.8,28.5 60.0,28.0 C61.2,27.5 62.7,27.6 64.0,27.0 C65.3,26.4 66.7,25.5 68.0,24.5 C69.3,23.5 70.7,22.1 72.0,21.0 C73.3,19.9 74.7,19.2 76.0,18.0 C77.3,16.8 78.7,14.9 80.0,14.0 C81.3,13.1 82.4,12.7 83.6,12.5 C84.8,12.3 85.9,13.1 87.0,13.0 C88.1,12.9 89.0,11.9 90.0,12.0 C91.0,12.1 91.9,13.2 93.0,13.5 C94.1,13.8 95.5,12.8 96.8,13.6 C98.1,14.3 99.5,16.7 101.0,18.0 C102.5,19.3 104.2,20.9 105.5,21.2 C106.8,21.5 107.9,20.5 109.0,20.0 C110.1,19.5 110.4,18.7 112.0,18.0 C113.6,17.3 116.7,17.1 118.7,15.8 C120.7,14.5 122.2,11.8 124.0,10.0 C125.8,8.2 127.6,6.0 129.6,4.8 C131.6,3.6 133.7,3.4 136.0,3.0 C138.3,2.6 142.0,2.7 143.2,2.6 L143.2,100.7 L0,100.7 Z" fill="#f9e0ee"/>
<path d="M0.0,33.1 C1.0,33.3 3.7,34.8 6.0,34.4 C8.3,34.0 11.6,32.1 13.6,30.9 C15.6,29.7 16.6,28.1 18.0,27.4 C19.4,26.6 20.8,27.0 22.0,26.4 C23.2,25.8 23.8,24.2 25.0,23.9 C26.2,23.6 27.7,24.0 29.0,24.4 C30.3,24.8 31.7,26.0 33.0,26.4 C34.3,26.8 35.7,27.0 37.0,26.9 C38.3,26.8 39.8,25.8 41.0,25.9 C42.2,26.0 42.7,26.1 44.0,27.4 C45.3,28.6 47.5,31.8 49.0,33.4 C50.5,35.0 51.7,36.4 53.0,36.9 C54.3,37.4 55.8,36.8 57.0,36.4 C58.2,36.0 58.8,34.9 60.0,34.4 C61.2,33.9 62.7,34.0 64.0,33.4 C65.3,32.8 66.7,31.9 68.0,30.9 C69.3,29.9 70.7,28.5 72.0,27.4 C73.3,26.3 74.7,25.6 76.0,24.4 C77.3,23.2 78.7,21.3 80.0,20.4 C81.3,19.5 82.4,19.1 83.6,18.9 C84.8,18.7 85.9,19.5 87.0,19.4 C88.1,19.3 89.0,18.3 90.0,18.4 C91.0,18.5 91.9,19.6 93.0,19.9 C94.1,20.2 95.5,19.2 96.8,20.0 C98.1,20.8 99.5,23.1 101.0,24.4 C102.5,25.7 104.2,27.3 105.5,27.6 C106.8,27.9 107.9,26.9 109.0,26.4 C110.1,25.9 110.4,25.1 112.0,24.4 C113.6,23.7 116.7,23.5 118.7,22.2 C120.7,20.9 122.2,18.2 124.0,16.4 C125.8,14.6 127.6,12.4 129.6,11.2 C131.6,10.0 133.7,9.8 136.0,9.4 C138.3,9.0 142.0,9.1 143.2,9.0" stroke="#f3c8e2" stroke-width="9" stroke-opacity="0.3" fill="none"/>
<path d="M107.1,46.3a5.2,2.2 -5 1,0 10.3,-0.9a5.2,2.2 -5 1,0 -10.3,0.9zM80.7,32.6a10.4,2.6 -10 1,0 20.4,-3.6a10.4,2.6 -10 1,0 -20.4,3.6zM19.5,26.4a6.1,1.6 -14 1,0 11.7,-3.0a6.1,1.6 -14 1,0 -11.7,3.0zM25.4,64.2a11.8,2.4 -20 1,0 22.2,-7.9a11.8,2.4 -20 1,0 -22.2,7.9zM25.1,31.0a13.7,1.8 -17 1,0 26.1,-8.1a13.7,1.8 -17 1,0 -26.1,8.1zM-4.6,39.8a9.4,1.3 -19 1,0 17.7,-6.2a9.4,1.3 -19 1,0 -17.7,6.2zM109.0,49.6a12.6,1.7 -16 1,0 24.3,-6.8a12.6,1.7 -16 1,0 -24.3,6.8zM27.6,47.3a9.6,2.6 -7 1,0 19.1,-2.2a9.6,2.6 -7 1,0 -19.1,2.2zM109.1,50.1a8.1,3.0 -12 1,0 15.8,-3.4a8.1,3.0 -12 1,0 -15.8,3.4zM5.4,53.5a5.8,3.0 -9 1,0 11.4,-1.7a5.8,3.0 -9 1,0 -11.4,1.7zM40.5,34.7a8.3,3.1 -17 1,0 15.8,-4.8a8.3,3.1 -17 1,0 -15.8,4.8zM34.1,65.8a11.1,2.8 -15 1,0 21.4,-5.7a11.1,2.8 -15 1,0 -21.4,5.7zM2.5,39.7a5.0,1.7 -9 1,0 9.9,-1.6a5.0,1.7 -9 1,0 -9.9,1.6zM109.6,48.3a8.7,1.9 -12 1,0 17.1,-3.7a8.7,1.9 -12 1,0 -17.1,3.7zM102.9,30.8a13.6,1.9 -6 1,0 27.1,-2.8a13.6,1.9 -6 1,0 -27.1,2.8zM-6.0,66.0a12.4,2.7 -19 1,0 23.5,-7.9a12.4,2.7 -19 1,0 -23.5,7.9zM67.3,38.7a12.4,1.4 -4 1,0 24.7,-1.8a12.4,1.4 -4 1,0 -24.7,1.8z" fill="#fcecf5" fill-opacity="0.55"/>
<path d="M75.4,35.7a13.3,2.9 -8 1,0 26.4,-3.8a13.3,2.9 -8 1,0 -26.4,3.8zM-5.8,47.2a11.8,2.5 -17 1,0 22.6,-6.8a11.8,2.5 -17 1,0 -22.6,6.8zM9.7,40.0a10.5,1.4 -9 1,0 20.7,-3.2a10.5,1.4 -9 1,0 -20.7,3.2zM-9.0,44.1a9.6,1.3 -18 1,0 18.2,-6.0a9.6,1.3 -18 1,0 -18.2,6.0zM83.3,19.7a7.3,1.8 -5 1,0 14.6,-1.3a7.3,1.8 -5 1,0 -14.6,1.3zM10.9,38.6a6.0,3.0 -5 1,0 12.0,-1.1a6.0,3.0 -5 1,0 -12.0,1.1z" fill="#f3c8e2" fill-opacity="0.55"/>
<path d="M-0.0,55.3a7.2,1.7 -13 1,0 14.1,-3.2a7.2,1.7 -13 1,0 -14.1,3.2zM102.7,24.4a7.1,2.3 -6 1,0 14.1,-1.6a7.1,2.3 -6 1,0 -14.1,1.6zM61.2,60.5a8.1,2.0 -19 1,0 15.2,-5.2a8.1,2.0 -19 1,0 -15.2,5.2z" fill="#fdf4fa" fill-opacity="0.55"/>
<path d="M130.5,29.0q5.0,-0.4 9.9,-1.6M28.8,39.5q3.2,-0.1 6.4,-0.8M19.2,48.4q6.1,-2.5 12.2,-3.7M136.2,39.5q4.8,-1.0 9.7,-2.5M135.1,25.3q4.5,-2.0 8.9,-2.4M137.3,18.1q7.1,-1.4 14.2,-3.7M138.2,34.3q4.7,-1.3 9.5,-1.2M13.4,45.4q4.2,0.6 8.4,-0.6M102.7,33.5q6.6,-0.2 13.3,-1.1M21.9,31.9q3.6,-1.6 7.2,-1.5M97.6,34.5q3.7,-1.0 7.4,-1.6M93.9,53.4q7.9,0.1 15.8,-0.6M132.5,11.8q5.3,-0.9 10.6,-3.6M-0.4,40.1q2.4,-1.7 4.8,-1.4M23.1,39.1q3.8,-2.1 7.7,-3.1" stroke="#f3c8e2" stroke-width="1.1" stroke-opacity="0.75" fill="none"/>
<path d="M114.7,40.2q4.3,-2.0 8.6,-2.5M80.6,27.0q3.5,-0.6 7.0,-0.6M28.7,23.2q5.1,-1.1 10.2,-1.9M35.6,37.0q7.3,-3.8 14.7,-5.7M31.9,62.3q2.7,-0.5 5.3,-1.5M108.0,24.5q6.0,-0.9 11.9,-1.3M-2.0,30.6q6.2,-0.4 12.4,-1.7M114.5,26.3q5.6,-0.8 11.2,-2.8M33.0,27.3q5.3,-1.3 10.6,-1.6M42.9,43.8q3.0,-1.6 6.0,-1.2M98.4,29.4q7.1,-2.2 14.2,-3.2M61.6,66.1q4.9,-1.0 9.8,-1.3M91.2,49.9q7.3,-2.2 14.7,-4.5" stroke="#f3c8e2" stroke-width="0.6" stroke-opacity="0.75" fill="none"/>
<path d="M120.0,40.5q2.9,-1.5 5.8,-1.1M123.7,39.4q3.7,-0.5 7.3,-1.5M30.6,46.0q4.4,-0.3 8.9,-0.9M11.1,57.3q5.3,-1.1 10.6,-0.7M69.8,54.9q2.4,-0.9 4.9,-1.6M129.2,42.1q5.3,-1.0 10.6,-0.7M93.4,46.9q4.2,-2.3 8.5,-3.1M57.5,38.0q6.9,-0.2 13.8,-1.6M103.8,24.4q2.6,-1.3 5.2,-1.1M12.0,59.4q3.1,-0.2 6.1,-2.1M95.4,47.5q6.4,-2.5 12.7,-4.3M7.7,55.6q4.9,0.4 9.8,-1.0M36.5,39.9q7.1,-2.6 14.1,-3.5M131.9,31.6q3.1,-0.6 6.2,-1.5M13.6,62.8q5.4,-1.0 10.8,-0.6M78.3,55.5q4.1,-1.6 8.2,-2.8M54.3,36.8q5.6,-0.1 11.2,-1.2M67.1,43.8q5.7,-0.9 11.5,-1.0M13.1,60.3q7.4,-1.6 14.8,-3.7M38.0,45.2q7.4,0.3 14.8,-1.1M90.6,37.4q5.1,-1.1 10.2,-3.7M46.8,46.2q5.5,-0.9 11.0,-3.2M52.5,42.6q3.0,-1.1 6.1,-0.4M58.6,49.4q4.1,-0.9 8.2,-2.5M111.7,44.0q7.0,-1.7 13.9,-5.2M27.0,27.9q7.1,-3.5 14.2,-5.5M112.5,44.3q6.9,-0.6 13.7,-2.0M126.8,22.8q4.1,-0.2 8.2,-1.2" stroke="#fdf4fa" stroke-width="0.6" stroke-opacity="0.75" fill="none"/>
<path d="M131.4,28.8q4.0,-0.8 8.0,-2.5M121.7,27.9q4.0,0.3 8.1,-1.4M11.3,45.1q3.5,-1.4 7.0,-1.7M28.9,36.6q4.5,-1.2 9.0,-3.1M102.1,29.4q5.4,-1.7 10.9,-3.2M124.9,12.8q5.7,-1.1 11.3,-0.7M-1.8,39.9q7.2,-1.9 14.4,-3.5M109.9,43.2q7.5,0.5 15.0,-0.6M73.8,55.6q7.4,0.2 14.8,-0.7M17.0,58.7q4.8,-1.1 9.5,-1.9" stroke="#fcecf5" stroke-width="1.1" stroke-opacity="0.75" fill="none"/>
<path d="M61.5,57.1q6.7,-1.5 13.4,-2.0M100.9,45.0q6.1,-0.5 12.2,-1.8M-3.5,47.3q7.6,-1.3 15.2,-3.7M9.0,58.9q7.5,-3.0 15.0,-4.5M4.5,63.2q3.5,-1.2 6.9,-1.7M96.1,30.7q7.8,-1.2 15.7,-2.7M108.9,23.1q6.4,-1.1 12.8,-1.9M3.3,54.3q6.8,-1.3 13.6,-3.5M30.2,29.2q6.3,-0.4 12.6,-2.0M67.1,47.9q6.4,-3.1 12.7,-4.7M39.2,34.9q3.3,0.7 6.5,-0.5M83.4,42.5q4.5,-1.1 9.1,-2.2M81.6,21.8q5.1,-2.6 10.2,-4.0M114.1,37.0q4.2,-1.0 8.5,-2.7M118.4,22.0q3.0,0.2 5.9,-0.9M21.2,44.3q6.6,-0.2 13.2,-0.9M123.5,45.9q7.3,-1.5 14.6,-2.4" stroke="#fdf4fa" stroke-width="1.1" stroke-opacity="0.75" fill="none"/>
<path d="M131.0,24.3q5.7,-1.8 11.5,-2.4M28.1,49.2q3.1,-0.0 6.2,-1.7M68.8,60.4q4.4,-0.4 8.9,-2.7M7.8,54.8q7.8,-0.9 15.6,-1.9M8.7,31.3q2.9,-0.3 5.9,-0.8M44.0,51.1q7.8,-0.8 15.6,-2.1M54.6,35.6q6.0,-0.0 12.0,-1.0" stroke="#fcecf5" stroke-width="0.6" stroke-opacity="0.75" fill="none"/>
<clipPath id="fc2"><path d="M0.0,63.0 C3.3,63.3 13.3,64.5 20.0,65.0 C26.7,65.5 33.3,65.5 40.0,66.0 C46.7,66.5 53.3,68.7 60.0,68.0 C66.7,67.3 73.3,64.0 80.0,62.0 C86.7,60.0 93.3,58.3 100.0,56.0 C106.7,53.7 112.8,50.7 120.0,48.0 C127.2,45.3 139.3,41.3 143.2,40.0 L143.2,100.7 L0,100.7 Z"/></clipPath>
<g clip-path="url(#fc2)">
<rect x="0" y="0" width="143.2" height="100.7" fill="#f5f3f6"/>
<path d="M-22.5,29.9a8.6,7.9 -29 1,0 15.1,-8.2a8.6,7.9 -29 1,0 -15.1,8.2zM-7.3,23.2a7.9,6.7 18 1,0 15.1,4.8a7.9,6.7 18 1,0 -15.1,-4.8zM24.6,27.6a8.0,6.7 -13 1,0 15.7,-3.5a8.0,6.7 -13 1,0 -15.7,3.5zM39.6,22.5a8.0,7.3 16 1,0 15.4,4.6a8.0,7.3 16 1,0 -15.4,-4.6zM55.4,28.9a8.2,7.2 -27 1,0 14.5,-7.4a8.2,7.2 -27 1,0 -14.5,7.4zM118.3,23.9a8.0,7.6 6 1,0 15.8,1.6a8.0,7.6 6 1,0 -15.8,-1.6zM146.7,23.5a8.8,7.1 11 1,0 17.2,3.3a8.8,7.1 11 1,0 -17.2,-3.3zM0.7,37.5a8.2,7.3 12 1,0 16.0,3.5a8.2,7.3 12 1,0 -16.0,-3.5zM13.1,39.3a8.3,7.6 -14 1,0 16.2,-4.1a8.3,7.6 -14 1,0 -16.2,4.1zM30.2,37.0a8.2,6.8 -0 1,0 16.3,-0.0a8.2,6.8 -0 1,0 -16.3,0.0zM44.9,38.3a8.0,6.8 -12 1,0 15.6,-3.2a8.0,6.8 -12 1,0 -15.6,3.2zM77.4,40.6a9.0,7.2 -27 1,0 16.0,-8.3a9.0,7.2 -27 1,0 -16.0,8.3zM91.8,41.4a8.7,7.3 -24 1,0 16.0,-7.1a8.7,7.3 -24 1,0 -16.0,7.1zM-22.4,49.5a8.2,7.7 8 1,0 16.3,2.3a8.2,7.7 8 1,0 -16.3,-2.3zM7.0,48.3a9.1,7.9 13 1,0 17.7,4.0a9.1,7.9 13 1,0 -17.7,-4.0zM36.5,51.2a7.8,7.2 1 1,0 15.7,0.3a7.8,7.2 1 1,0 -15.7,-0.3zM53.8,48.6a8.4,7.5 21 1,0 15.7,6.1a8.4,7.5 21 1,0 -15.7,-6.1zM68.2,48.8a9.1,7.0 7 1,0 18.2,2.1a9.1,7.0 7 1,0 -18.2,-2.1zM85.6,46.8a8.6,7.5 25 1,0 15.6,7.4a8.6,7.5 25 1,0 -15.6,-7.4zM115.2,51.4a7.8,8.0 -8 1,0 15.5,-2.0a7.8,8.0 -8 1,0 -15.5,2.0zM146.8,48.9a8.0,7.5 21 1,0 14.9,5.6a8.0,7.5 21 1,0 -14.9,-5.6zM1.0,66.7a8.4,7.8 -27 1,0 15.0,-7.7a8.4,7.8 -27 1,0 -15.0,7.7zM11.8,63.4a8.7,7.4 -7 1,0 17.3,-2.1a8.7,7.4 -7 1,0 -17.3,2.1zM61.9,61.1a9.1,8.0 10 1,0 18.0,3.2a9.1,8.0 10 1,0 -18.0,-3.2zM92.9,65.7a7.9,7.6 -14 1,0 15.3,-3.8a7.9,7.6 -14 1,0 -15.3,3.8zM109.4,66.7a8.3,6.8 -17 1,0 15.8,-4.9a8.3,6.8 -17 1,0 -15.8,4.9zM-23.8,75.0a8.5,7.6 14 1,0 16.6,4.1a8.5,7.6 14 1,0 -16.6,-4.1zM-8.8,73.5a8.9,7.2 23 1,0 16.4,7.0a8.9,7.2 23 1,0 -16.4,-7.0zM21.7,77.1a8.5,7.8 -5 1,0 17.0,-1.6a8.5,7.8 -5 1,0 -17.0,1.6zM52.6,76.9a8.9,7.0 -6 1,0 17.8,-1.8a8.9,7.0 -6 1,0 -17.8,1.8zM86.2,77.9a8.1,7.0 -19 1,0 15.3,-5.2a8.1,7.0 -19 1,0 -15.3,5.2zM147.0,71.5a8.4,8.0 28 1,0 14.9,8.0a8.4,8.0 28 1,0 -14.9,-8.0zM0.3,88.6a7.9,7.2 9 1,0 15.6,2.6a7.9,7.2 9 1,0 -15.6,-2.6zM78.3,87.8a8.1,7.8 5 1,0 16.1,1.5a8.1,7.8 5 1,0 -16.1,-1.5zM92.6,85.1a8.7,7.6 24 1,0 15.9,7.1a8.7,7.6 24 1,0 -15.9,-7.1zM-22.8,105.4a8.5,7.7 -20 1,0 16.0,-5.8a8.5,7.7 -20 1,0 -16.0,5.8zM-9.0,101.2a8.5,7.6 1 1,0 17.1,0.3a8.5,7.6 1 1,0 -17.1,-0.3zM24.6,100.7a8.7,7.7 12 1,0 17.0,3.5a8.7,7.7 12 1,0 -17.0,-3.5zM70.2,103.1a8.9,6.6 -12 1,0 17.4,-3.7a8.9,6.6 -12 1,0 -17.4,3.7zM84.0,99.9a9.2,7.2 11 1,0 18.1,3.5a9.2,7.2 11 1,0 -18.1,-3.5zM131.7,100.1a8.8,7.6 22 1,0 16.2,6.6a8.8,7.6 22 1,0 -16.2,-6.6zM-13.6,118.6a8.1,7.8 -24 1,0 14.8,-6.6a8.1,7.8 -24 1,0 -14.8,6.6zM0.8,111.9a8.1,7.8 25 1,0 14.7,6.9a8.1,7.8 25 1,0 -14.7,-6.9zM14.1,116.4a8.7,6.8 -5 1,0 17.3,-1.4a8.7,6.8 -5 1,0 -17.3,1.4z" fill="none" stroke="#f0bcdc" stroke-width="0.60" stroke-opacity="0.65"/>
<path d="M6.8,24.4a9.1,7.5 -1 1,0 18.3,-0.2a9.1,7.5 -1 1,0 -18.3,0.2zM72.6,28.3a8.0,8.1 -27 1,0 14.3,-7.2a8.0,8.1 -27 1,0 -14.3,7.2zM84.4,25.1a8.1,7.2 3 1,0 16.2,0.9a8.1,7.2 3 1,0 -16.2,-0.9zM101.5,25.2a8.1,7.1 -4 1,0 16.1,-1.2a8.1,7.1 -4 1,0 -16.1,1.2zM132.4,30.1a9.2,7.6 -25 1,0 16.8,-7.7a9.2,7.6 -25 1,0 -16.8,7.7zM-15.0,38.3a9.0,7.2 -3 1,0 18.0,-1.1a9.0,7.2 -3 1,0 -18.0,1.1zM61.0,42.4a9.0,7.0 -29 1,0 15.7,-8.6a9.0,7.0 -29 1,0 -15.7,8.6zM107.6,38.3a8.1,7.5 -5 1,0 16.2,-1.3a8.1,7.5 -5 1,0 -16.2,1.3zM125.9,37.0a8.0,7.5 -3 1,0 16.1,-0.8a8.0,7.5 -3 1,0 -16.1,0.8zM137.8,37.8a8.4,6.7 5 1,0 16.8,1.5a8.4,6.7 5 1,0 -16.8,-1.5zM-9.8,49.2a8.9,7.7 8 1,0 17.7,2.3a8.9,7.7 8 1,0 -17.7,-2.3zM21.0,53.3a9.3,7.0 -23 1,0 17.0,-7.4a9.3,7.0 -23 1,0 -17.0,7.4zM100.8,55.0a8.0,7.0 -29 1,0 14.0,-7.6a8.0,7.0 -29 1,0 -14.0,7.6zM131.2,48.3a8.9,7.5 20 1,0 16.8,6.0a8.9,7.5 20 1,0 -16.8,-6.0zM-15.8,62.5a8.1,8.0 12 1,0 15.9,3.5a8.1,8.0 12 1,0 -15.9,-3.5zM28.7,60.7a9.2,7.4 27 1,0 16.4,8.3a9.2,7.4 27 1,0 -16.4,-8.3zM44.5,63.6a9.1,7.4 -2 1,0 18.2,-0.8a9.1,7.4 -2 1,0 -18.2,0.8zM75.9,67.2a8.5,7.8 -14 1,0 16.5,-4.1a8.5,7.8 -14 1,0 -16.5,4.1zM122.7,66.0a7.9,7.6 -8 1,0 15.6,-2.2a7.9,7.6 -8 1,0 -15.6,2.2zM138.0,62.5a8.2,6.7 16 1,0 15.8,4.5a8.2,6.7 16 1,0 -15.8,-4.5zM9.0,78.2a8.4,7.6 -12 1,0 16.4,-3.4a8.4,7.6 -12 1,0 -16.4,3.4zM37.3,77.6a7.9,7.7 -1 1,0 15.8,-0.4a7.9,7.7 -1 1,0 -15.8,0.4zM71.3,82.0a9.0,7.7 -28 1,0 15.9,-8.5a9.0,7.7 -28 1,0 -15.9,8.5zM101.8,81.0a8.4,7.1 -27 1,0 14.9,-7.7a8.4,7.1 -27 1,0 -14.9,7.7zM114.6,80.5a9.3,6.8 -29 1,0 16.3,-8.9a9.3,6.8 -29 1,0 -16.3,8.9zM129.1,80.0a8.3,7.8 -17 1,0 15.9,-4.7a8.3,7.8 -17 1,0 -15.9,4.7zM-15.7,90.5a8.5,7.5 -5 1,0 16.9,-1.6a8.5,7.5 -5 1,0 -16.9,1.6zM16.1,86.4a7.8,7.8 15 1,0 15.1,3.9a7.8,7.8 15 1,0 -15.1,-3.9zM29.4,90.6a9.0,8.0 0 1,0 18.1,0.0a9.0,8.0 0 1,0 -18.1,-0.0zM46.9,88.3a8.7,6.7 5 1,0 17.2,1.6a8.7,6.7 5 1,0 -17.2,-1.6zM61.3,88.4a8.0,7.4 7 1,0 15.9,2.0a8.0,7.4 7 1,0 -15.9,-2.0zM107.3,92.2a8.5,6.6 -21 1,0 15.9,-6.0a8.5,6.6 -21 1,0 -15.9,6.0zM120.3,91.6a9.2,7.4 -8 1,0 18.2,-2.7a9.2,7.4 -8 1,0 -18.2,2.7zM139.7,86.2a7.9,6.6 15 1,0 15.2,4.2a7.9,6.6 15 1,0 -15.2,-4.2zM8.5,106.5a8.2,7.3 -23 1,0 15.1,-6.5a8.2,7.3 -23 1,0 -15.1,6.5zM39.2,102.1a9.0,7.4 -3 1,0 18.0,-0.9a9.0,7.4 -3 1,0 -18.0,0.9zM53.3,101.6a8.5,8.1 6 1,0 16.8,1.7a8.5,8.1 6 1,0 -16.8,-1.7zM101.3,104.3a8.7,7.6 -17 1,0 16.6,-5.1a8.7,7.6 -17 1,0 -16.6,5.1zM113.9,98.7a9.3,7.8 19 1,0 17.5,6.1a9.3,7.8 19 1,0 -17.5,-6.1zM146.2,105.9a8.2,8.1 -20 1,0 15.4,-5.6a8.2,8.1 -20 1,0 -15.4,5.6zM29.8,115.7a7.9,7.6 -5 1,0 15.8,-1.5a7.9,7.6 -5 1,0 -15.8,1.5zM48.1,110.4a8.5,7.9 25 1,0 15.5,7.1a8.5,7.9 25 1,0 -15.5,-7.1zM61.4,115.1a8.1,6.7 -6 1,0 16.0,-1.7a8.1,6.7 -6 1,0 -16.0,1.7zM77.0,111.1a8.6,8.1 23 1,0 15.8,6.6a8.6,8.1 23 1,0 -15.8,-6.6zM94.3,118.5a8.5,7.7 -27 1,0 15.0,-7.8a8.5,7.7 -27 1,0 -15.0,7.8zM111.1,109.9a8.8,7.1 27 1,0 15.6,7.9a8.8,7.1 27 1,0 -15.6,-7.9zM127.2,112.3a8.2,7.0 27 1,0 14.6,7.5a8.2,7.0 27 1,0 -14.6,-7.5zM141.1,113.7a8.9,7.5 17 1,0 17.0,5.1a8.9,7.5 17 1,0 -17.0,-5.1z" fill="none" stroke="#f0bcdc" stroke-width="0.95" stroke-opacity="0.65"/>
<path d="M84.7,29.5a2.2,1.0 0 1,0 4.5,0.0a2.2,1.0 0 1,0 -4.5,-0.0zM115.7,28.8a1.1,0.9 0 1,0 2.2,0.0a1.1,0.9 0 1,0 -2.2,-0.0zM44.3,41.0a1.4,1.6 0 1,0 2.9,0.0a1.4,1.6 0 1,0 -2.9,-0.0zM74.6,42.3a2.3,0.7 0 1,0 4.5,0.0a2.3,0.7 0 1,0 -4.5,-0.0zM139.3,41.1a1.9,1.5 0 1,0 3.7,0.0a1.9,1.5 0 1,0 -3.7,-0.0zM66.8,56.1a2.4,1.2 0 1,0 4.9,0.0a2.4,1.2 0 1,0 -4.9,-0.0zM100.0,54.9a1.2,1.3 0 1,0 2.5,0.0a1.2,1.3 0 1,0 -2.5,-0.0zM146.6,55.8a1.1,1.2 0 1,0 2.2,0.0a1.1,1.2 0 1,0 -2.2,-0.0zM44.2,69.3a1.0,1.0 0 1,0 2.1,0.0a1.0,1.0 0 1,0 -2.1,-0.0zM90.0,69.9a1.9,1.1 0 1,0 3.7,0.0a1.9,1.1 0 1,0 -3.7,-0.0zM105.9,68.3a1.8,0.8 0 1,0 3.5,0.0a1.8,0.8 0 1,0 -3.5,-0.0zM-1.0,94.2a1.4,1.4 0 1,0 2.7,0.0a1.4,1.4 0 1,0 -2.7,-0.0zM45.5,95.4a1.1,1.4 0 1,0 2.1,0.0a1.1,1.4 0 1,0 -2.1,-0.0zM22.4,107.6a1.0,0.9 0 1,0 2.1,0.0a1.0,0.9 0 1,0 -2.1,-0.0zM39.5,107.1a1.4,1.5 0 1,0 2.7,0.0a1.4,1.5 0 1,0 -2.7,-0.0zM84.4,105.2a2.4,1.1 0 1,0 4.8,0.0a2.4,1.1 0 1,0 -4.8,-0.0zM129.4,106.4a1.5,1.4 0 1,0 3.1,0.0a1.5,1.4 0 1,0 -3.1,-0.0zM62.4,118.7a1.1,1.2 0 1,0 2.1,0.0a1.1,1.2 0 1,0 -2.1,-0.0zM155.6,120.8a1.9,1.2 0 1,0 3.9,0.0a1.9,1.2 0 1,0 -3.9,-0.0z" fill="#f0bcdc" fill-opacity="0.8"/>
<path d="M0.0,63.0 C3.3,63.3 13.3,64.5 20.0,65.0 C26.7,65.5 33.3,65.5 40.0,66.0 C46.7,66.5 53.3,68.7 60.0,68.0 C66.7,67.3 73.3,64.0 80.0,62.0 C86.7,60.0 93.3,58.3 100.0,56.0 C106.7,53.7 112.8,50.7 120.0,48.0 C127.2,45.3 139.3,41.3 143.2,40.0" stroke="#f9e0ee" stroke-width="5" stroke-opacity="0.55" fill="none"/>
</g>
<g transform="rotate(-20 15.5 51)"><ellipse cx="15.5" cy="51" rx="9.5" ry="5.8" fill="#c07cc4" fill-opacity="0.85"/>
<ellipse cx="15.5" cy="51" rx="5.9" ry="2.9" fill="#fdf6fb"/>
<path d="M12.1,47.6h.01M7.6,49.8h.01M11.1,54.4h.01M12.3,48.1h.01M19.7,55.6h.01M7.2,49.1h.01M22.7,53.9h.01M11.3,47.5h.01M23.0,53.5h.01M22.1,51.0h.01M11.7,54.5h.01M23.9,53.5h.01M23.4,51.0h.01M22.9,51.9h.01M8.2,48.2h.01M14.9,54.4h.01M12.0,47.3h.01M16.6,55.4h.01M17.4,46.1h.01M9.0,50.2h.01M15.0,55.3h.01" stroke="#7e50a0" stroke-opacity="0.6" stroke-width="0.9" stroke-linecap="round" fill="none"/>
</g>
<g transform="rotate(-28 76 58)"><ellipse cx="76" cy="58" rx="13.5" ry="4.8" fill="#c674c2" fill-opacity="0.85"/>
<ellipse cx="76" cy="58" rx="10.5" ry="2.6" fill="#ee6fae"/>
<path d="M64.8,56.2h.01M84.8,58.0h.01M66.4,58.8h.01M83.1,55.2h.01M84.3,58.6h.01M65.2,60.5h.01M85.0,60.0h.01M85.4,56.2h.01M70.6,55.3h.01M71.5,60.8h.01M74.2,54.4h.01M83.8,58.0h.01M84.9,57.5h.01M74.1,62.3h.01M64.3,57.8h.01M84.5,56.6h.01M83.7,56.5h.01M71.1,55.6h.01M88.9,56.9h.01M73.8,54.4h.01" stroke="#7e50a0" stroke-opacity="0.6" stroke-width="0.9" stroke-linecap="round" fill="none"/>
</g>
<g transform="rotate(-20 103 68)"><ellipse cx="103" cy="68" rx="7" ry="3" fill="#e660a8" fill-opacity="0.85"/>
<path d="M108.4,67.8h.01M99.7,70.2h.01M108.1,69.7h.01M103.9,70.4h.01M103.0,65.9h.01M97.4,66.3h.01M96.9,68.2h.01M96.8,68.4h.01M99.8,65.9h.01M107.1,67.3h.01" stroke="#7e50a0" stroke-opacity="0.6" stroke-width="0.9" stroke-linecap="round" fill="none"/>
</g>
<g transform="rotate(-24 22 87)"><ellipse cx="22" cy="87" rx="21" ry="7.5" fill="#c470c0" fill-opacity="0.85"/>
<ellipse cx="22" cy="87" rx="16.8" ry="4.7" fill="#f4c2e0"/>
<path d="M22.7,93.2h.01M7.5,91.2h.01M7.4,89.7h.01M16.4,91.3h.01M14.8,81.8h.01M10.2,83.2h.01M34.5,86.0h.01M20.2,91.4h.01M39.5,84.1h.01M15.7,80.3h.01M30.5,93.6h.01M30.5,83.5h.01M18.0,92.6h.01M36.7,82.6h.01M32.7,91.3h.01M17.3,79.9h.01M28.6,82.3h.01M38.6,88.7h.01M8.8,83.6h.01M33.6,92.6h.01M31.6,91.9h.01M4.7,85.0h.01M12.9,89.7h.01M34.1,90.7h.01M30.2,82.7h.01M36.1,86.5h.01M26.4,93.0h.01M34.8,91.6h.01M40.5,87.0h.01M2.2,87.3h.01M32.1,83.1h.01M37.1,84.8h.01M13.5,92.0h.01M7.2,88.6h.01M22.8,81.4h.01M28.2,91.5h.01M28.9,92.2h.01M14.6,90.9h.01M12.0,82.6h.01M23.9,82.7h.01M30.3,82.8h.01M7.8,83.3h.01M35.9,87.8h.01M35.4,81.9h.01M7.6,85.2h.01M3.4,88.0h.01M18.3,81.6h.01M8.2,83.4h.01M20.7,91.4h.01M21.7,81.3h.01M21.4,93.7h.01M5.8,88.0h.01M37.0,88.8h.01M34.1,87.6h.01M5.7,82.6h.01M11.8,84.8h.01M18.0,81.9h.01" stroke="#7e50a0" stroke-opacity="0.6" stroke-width="0.9" stroke-linecap="round" fill="none"/>
</g>
<g transform="rotate(-26 24 86)"><ellipse cx="24" cy="86" rx="11" ry="3.4" fill="#d6408e" fill-opacity="0.85"/>
<path d="M29.8,84.8h.01M19.9,84.5h.01M18.5,86.0h.01M20.7,87.8h.01M16.4,87.7h.01M18.4,88.9h.01M25.8,84.2h.01M15.2,84.0h.01M31.2,88.0h.01M23.3,86.8h.01M19.3,87.7h.01M33.9,85.7h.01M23.3,88.3h.01M19.0,88.9h.01M28.7,86.2h.01M30.5,86.0h.01M17.8,84.6h.01M32.2,85.9h.01" stroke="#7e50a0" stroke-opacity="0.6" stroke-width="0.9" stroke-linecap="round" fill="none"/>
</g>
<g transform="rotate(-20 70 88)"><ellipse cx="70" cy="88" rx="19" ry="4.6" fill="#b85cb8" fill-opacity="0.85"/>
<ellipse cx="70" cy="88" rx="16.3" ry="2.8" fill="#b81c78"/>
<path d="M70.9,84.4h.01M80.6,86.1h.01M81.4,87.1h.01M79.2,85.2h.01M81.2,89.5h.01M82.9,84.9h.01M69.2,84.5h.01M58.4,88.3h.01M74.1,84.7h.01M52.5,88.5h.01M59.6,89.6h.01M75.8,84.1h.01M64.7,92.4h.01M55.6,90.8h.01M82.2,85.4h.01M55.0,90.6h.01M73.7,84.2h.01M63.2,84.5h.01M76.4,91.6h.01M83.3,85.2h.01M84.2,85.2h.01M51.9,89.3h.01M76.0,84.5h.01M52.0,89.1h.01" stroke="#7e50a0" stroke-opacity="0.6" stroke-width="0.9" stroke-linecap="round" fill="none"/>
</g>
<g transform="rotate(-30 128 96)"><ellipse cx="128" cy="96" rx="16" ry="4.5" fill="#a03ea4" fill-opacity="0.85"/>
<path d="M136.3,94.7h.01M124.9,96.7h.01M126.5,98.9h.01M124.5,98.2h.01M113.7,96.2h.01M137.4,98.9h.01M117.7,97.7h.01M128.7,97.8h.01M139.1,96.6h.01M120.9,93.1h.01M125.6,99.4h.01M129.0,97.3h.01M130.9,92.3h.01M122.8,99.2h.01M125.8,94.1h.01M140.1,96.3h.01M138.2,96.9h.01M125.6,97.2h.01M122.7,97.4h.01M128.4,97.9h.01M126.3,94.7h.01M131.7,95.5h.01M124.8,96.1h.01M118.0,94.1h.01M115.0,97.7h.01M118.1,98.5h.01M124.6,92.0h.01M133.9,97.4h.01M115.1,97.3h.01M133.1,95.4h.01M123.4,97.8h.01M122.1,100.0h.01M135.3,97.7h.01M136.4,92.9h.01M124.9,95.3h.01M142.3,96.0h.01" stroke="#7e50a0" stroke-opacity="0.6" stroke-width="0.9" stroke-linecap="round" fill="none"/>
</g>
<path d="M99,70.5 Q118.0,61.8 137,53" stroke="#d488c8" stroke-width="3.6" stroke-linecap="round" fill="none" stroke-opacity="0.88"/>
<path d="M99,70.5 Q118.0,61.8 137,53" stroke="#ee78b2" stroke-width="1.6" stroke-linecap="round" fill="none"/>
<path d="M100.5,68.7h.01M116.0,61.0h.01M128.0,58.2h.01M115.8,64.0h.01M99.5,68.6h.01M117.0,63.8h.01M100.4,71.5h.01M120.8,58.8h.01M105.5,69.1h.01M120.4,62.0h.01M118.3,60.1h.01M120.9,61.6h.01M122.2,58.3h.01M130.7,54.0h.01M121.0,62.0h.01M104.9,69.0h.01M101.4,70.9h.01M110.8,66.8h.01M115.1,64.4h.01M110.4,66.6h.01" stroke="#7e50a0" stroke-opacity="0.55" stroke-width="0.9" stroke-linecap="round" fill="none"/>
<path d="M124,40 Q129.5,37.0 135,34" stroke="#c68cc8" stroke-width="6" stroke-linecap="round" fill="none" stroke-opacity="0.88"/>
<path d="M132.7,33.9h.01M124.8,38.7h.01M134.1,33.8h.01M134.0,32.6h.01M135.0,35.6h.01M129.9,38.7h.01M126.4,35.6h.01M125.7,38.1h.01M128.7,37.3h.01M125.0,37.0h.01M127.9,38.5h.01M127.8,38.3h.01M125.0,39.2h.01M131.4,37.0h.01M134.3,37.0h.01M129.9,38.0h.01" stroke="#7e50a0" stroke-opacity="0.55" stroke-width="0.9" stroke-linecap="round" fill="none"/>
<path d="M0,73 Q21.0,67.0 42,61" stroke="#cc98d0" stroke-width="2.2" stroke-linecap="round" fill="none" stroke-opacity="0.88"/>
<path d="M20.6,66.4h.01M33.2,62.6h.01M16.0,67.9h.01M8.7,69.9h.01M40.3,60.6h.01M8.6,70.1h.01M7.9,71.7h.01M8.6,71.3h.01M24.6,65.2h.01M36.6,62.7h.01M8.9,70.0h.01M37.7,62.2h.01M2.6,73.2h.01M20.1,67.3h.01M33.3,63.3h.01M8.4,70.4h.01M22.3,66.0h.01M14.1,69.7h.01M35.7,62.3h.01M26.7,65.2h.01M41.4,60.8h.01" stroke="#7e50a0" stroke-opacity="0.55" stroke-width="0.9" stroke-linecap="round" fill="none"/>
<path d="M44,80 Q70.0,71.5 96,63" stroke="#cc98d0" stroke-width="2.4" stroke-linecap="round" fill="none" stroke-opacity="0.88"/>
<path d="M76.1,70.4h.01M65.3,74.2h.01M82.6,68.0h.01M81.0,66.9h.01M88.8,64.6h.01M59.8,75.5h.01M76.9,68.1h.01M54.1,76.3h.01M71.7,71.6h.01M64.2,72.3h.01M46.6,80.0h.01M76.3,68.8h.01M44.0,79.9h.01M46.4,79.3h.01M57.0,76.2h.01M91.0,65.2h.01M68.4,71.4h.01M60.6,74.5h.01M76.2,69.4h.01M92.0,64.8h.01M60.8,73.6h.01M53.7,76.6h.01M93.3,62.8h.01M79.0,69.8h.01M68.0,71.0h.01M64.8,72.5h.01M54.2,76.8h.01M68.8,72.1h.01" stroke="#7e50a0" stroke-opacity="0.55" stroke-width="0.9" stroke-linecap="round" fill="none"/>
<path d="M92,90 Q117.5,77.0 143,64" stroke="#c890cc" stroke-width="2.4" stroke-linecap="round" fill="none" stroke-opacity="0.88"/>
<path d="M130.7,69.4h.01M98.9,87.6h.01M126.2,72.2h.01M99.4,86.4h.01M133.1,69.7h.01M135.5,68.4h.01M101.0,86.1h.01M119.9,76.3h.01M110.9,80.8h.01M135.7,67.2h.01M138.4,65.1h.01M131.8,70.2h.01M123.0,74.4h.01M138.5,65.9h.01M102.5,84.5h.01M92.2,89.7h.01M93.3,88.4h.01M139.9,64.6h.01M114.2,78.6h.01M100.0,85.4h.01M136.1,67.8h.01M140.8,65.3h.01M111.3,80.0h.01M101.6,84.4h.01M132.1,70.1h.01M108.2,81.9h.01M109.0,82.0h.01M115.4,78.1h.01M121.8,75.8h.01M138.7,66.3h.01" stroke="#7e50a0" stroke-opacity="0.55" stroke-width="0.9" stroke-linecap="round" fill="none"/>
<path d="M0,97 Q20.0,98.0 40,99" stroke="#c080c4" stroke-width="2.5" stroke-linecap="round" fill="none" stroke-opacity="0.88"/>
<path d="M10.0,96.9h.01M18.3,96.8h.01M10.3,97.4h.01M29.9,97.5h.01M14.7,98.8h.01M13.7,96.9h.01M17.2,96.8h.01M12.1,98.0h.01M34.6,97.7h.01M26.1,99.1h.01M7.6,96.7h.01M34.8,97.5h.01M36.1,98.7h.01M38.0,99.9h.01M6.4,97.2h.01M27.9,97.4h.01M25.7,98.3h.01M0.4,95.9h.01M1.4,96.9h.01M18.9,99.1h.01M8.3,97.1h.01M15.0,98.2h.01" stroke="#7e50a0" stroke-opacity="0.55" stroke-width="0.9" stroke-linecap="round" fill="none"/>
<path d="M30,66 Q46.0,63.0 62,60" stroke="#d0a0d4" stroke-width="2.0" stroke-linecap="round" fill="none" stroke-opacity="0.88"/>
<path d="M40.7,64.4h.01M53.0,62.2h.01M40.0,65.1h.01M53.3,62.6h.01M43.0,62.7h.01M56.3,60.7h.01M44.7,63.7h.01M57.2,61.7h.01M52.6,62.6h.01M54.4,60.7h.01M54.5,61.3h.01M60.1,59.6h.01M60.6,60.4h.01M49.0,61.6h.01" stroke="#7e50a0" stroke-opacity="0.55" stroke-width="0.9" stroke-linecap="round" fill="none"/>

<path d="M0.0,26.7 C1.0,26.9 3.7,28.4 6.0,28.0 C8.3,27.6 11.6,25.7 13.6,24.5 C15.6,23.3 16.6,21.8 18.0,21.0 C19.4,20.2 20.8,20.6 22.0,20.0 C23.2,19.4 23.8,17.8 25.0,17.5 C26.2,17.2 27.7,17.6 29.0,18.0 C30.3,18.4 31.7,19.6 33.0,20.0 C34.3,20.4 35.7,20.6 37.0,20.5 C38.3,20.4 39.8,19.4 41.0,19.5 C42.2,19.6 42.7,19.8 44.0,21.0 C45.3,22.2 47.5,25.4 49.0,27.0 C50.5,28.6 51.7,30.0 53.0,30.5 C54.3,31.0 55.8,30.4 57.0,30.0 C58.2,29.6 58.8,28.5 60.0,28.0 C61.2,27.5 62.7,27.6 64.0,27.0 C65.3,26.4 66.7,25.5 68.0,24.5 C69.3,23.5 70.7,22.1 72.0,21.0 C73.3,19.9 74.7,19.2 76.0,18.0 C77.3,16.8 78.7,14.9 80.0,14.0 C81.3,13.1 82.4,12.7 83.6,12.5 C84.8,12.3 85.9,13.1 87.0,13.0 C88.1,12.9 89.0,11.9 90.0,12.0 C91.0,12.1 91.9,13.2 93.0,13.5 C94.1,13.8 95.5,12.8 96.8,13.6 C98.1,14.3 99.5,16.7 101.0,18.0 C102.5,19.3 104.2,20.9 105.5,21.2 C106.8,21.5 107.9,20.5 109.0,20.0 C110.1,19.5 110.4,18.7 112.0,18.0 C113.6,17.3 116.7,17.1 118.7,15.8 C120.7,14.5 122.2,11.8 124.0,10.0 C125.8,8.2 127.6,6.0 129.6,4.8 C131.6,3.6 133.7,3.4 136.0,3.0 C138.3,2.6 142.0,2.7 143.2,2.6 L143.2,5.1 L141.2,5.6 L139.1,5.6 L137.1,5.9 L135.0,6.3 L133.0,7.0 L130.9,6.7 L128.9,8.2 L126.8,9.6 L124.8,11.0 L122.7,13.7 L120.7,15.9 L118.7,18.9 L116.6,18.2 L114.6,19.5 L112.5,20.3 L110.5,21.5 L108.4,22.4 L106.4,22.9 L104.3,23.4 L102.3,21.7 L100.2,19.3 L98.2,17.1 L96.1,16.7 L94.1,15.4 L92.1,14.7 L90.0,14.1 L88.0,14.6 L85.9,15.9 L83.9,15.0 L81.8,15.0 L79.8,16.8 L77.7,18.9 L75.7,21.4 L73.6,22.3 L71.6,24.5 L69.6,24.9 L67.5,27.4 L65.5,28.7 L63.4,29.4 L61.4,29.4 L59.3,30.2 L57.3,31.9 L55.2,31.9 L53.2,32.2 L51.1,31.3 L49.1,30.3 L47.1,27.5 L45.0,24.8 L43.0,23.3 L40.9,21.5 L38.9,22.8 L36.8,23.2 L34.8,22.2 L32.7,21.8 L30.7,21.8 L28.6,20.7 L26.6,20.2 L24.5,21.0 L22.5,22.3 L20.5,23.4 L18.4,23.3 L16.4,24.8 L14.3,26.7 L12.3,28.3 L10.2,29.0 L8.2,29.6 L6.1,31.2 L4.1,30.6 L2.0,29.3 L0.0,28.9 Z" fill="#be7cc2"/>
<path d="M0.0,27.1 C1.0,27.3 3.7,28.8 6.0,28.4 C8.3,28.0 11.6,26.1 13.6,24.9 C15.6,23.7 16.6,22.1 18.0,21.4 C19.4,20.6 20.8,21.0 22.0,20.4 C23.2,19.8 23.8,18.2 25.0,17.9 C26.2,17.6 27.7,18.0 29.0,18.4 C30.3,18.8 31.7,20.0 33.0,20.4 C34.3,20.8 35.7,21.0 37.0,20.9 C38.3,20.8 39.8,19.8 41.0,19.9 C42.2,20.0 42.7,20.1 44.0,21.4 C45.3,22.6 47.5,25.8 49.0,27.4 C50.5,29.0 51.7,30.4 53.0,30.9 C54.3,31.4 55.8,30.8 57.0,30.4 C58.2,30.0 58.8,28.9 60.0,28.4 C61.2,27.9 62.7,28.0 64.0,27.4 C65.3,26.8 66.7,25.9 68.0,24.9 C69.3,23.9 70.7,22.5 72.0,21.4 C73.3,20.3 74.7,19.6 76.0,18.4 C77.3,17.2 78.7,15.3 80.0,14.4 C81.3,13.5 82.4,13.1 83.6,12.9 C84.8,12.7 85.9,13.5 87.0,13.4 C88.1,13.3 89.0,12.3 90.0,12.4 C91.0,12.5 91.9,13.6 93.0,13.9 C94.1,14.2 95.5,13.2 96.8,14.0 C98.1,14.8 99.5,17.1 101.0,18.4 C102.5,19.7 104.2,21.3 105.5,21.6 C106.8,21.9 107.9,20.9 109.0,20.4 C110.1,19.9 110.4,19.1 112.0,18.4 C113.6,17.7 116.7,17.5 118.7,16.2 C120.7,14.9 122.2,12.2 124.0,10.4 C125.8,8.6 127.6,6.4 129.6,5.2 C131.6,4.0 133.7,3.8 136.0,3.4 C138.3,3.0 142.0,3.1 143.2,3.0" stroke="#a466b0" stroke-width="0.9" stroke-opacity="0.8" fill="none"/>
<path d="M15.0,48.6h.01M42.7,60.6h.01M115.4,22.0h.01M47.3,59.6h.01M99.2,57.1h.01M138.5,37.4h.01M35.7,21.7h.01M57.3,60.5h.01M92.9,53.4h.01M42.2,61.0h.01M1.9,31.6h.01M63.1,55.6h.01M85.8,43.2h.01M137.7,12.9h.01M131.6,45.9h.01M6.1,38.7h.01M119.4,37.9h.01M99.3,30.4h.01M114.6,21.0h.01M2.9,59.3h.01M65.2,39.2h.01M128.9,36.1h.01M47.3,66.0h.01M110.7,27.3h.01M75.1,39.2h.01M66.5,48.4h.01M138.4,34.8h.01M117.1,25.7h.01M9.4,53.6h.01M7.3,53.1h.01M55.4,43.6h.01M123.5,44.1h.01M139.3,10.4h.01M135.8,20.1h.01M114.7,20.9h.01M126.2,46.5h.01M2.6,45.9h.01M82.7,62.2h.01M46.5,31.4h.01M90.7,44.1h.01M61.8,46.9h.01M110.4,44.4h.01M118.0,22.3h.01M99.3,54.4h.01M51.2,53.8h.01M11.6,64.3h.01M19.9,24.2h.01M105.1,51.5h.01M87.8,46.3h.01M67.5,66.4h.01M105.4,55.5h.01M77.7,18.9h.01M1.4,63.2h.01M132.9,6.4h.01M92.3,51.7h.01M16.5,61.3h.01M73.4,27.8h.01M128.1,28.3h.01M132.9,16.0h.01M104.6,29.0h.01M28.6,43.2h.01M53.9,54.5h.01M22.8,55.8h.01M102.5,33.7h.01M62.7,39.8h.01M110.9,53.2h.01M114.9,41.9h.01M50.7,51.8h.01M95.5,55.0h.01M67.1,61.7h.01M5.0,57.7h.01M32.7,58.5h.01M87.2,43.1h.01M112.9,31.1h.01M98.3,21.2h.01M9.1,57.1h.01M36.8,21.6h.01M50.3,58.4h.01M65.5,46.1h.01M5.4,58.6h.01" stroke="#7e50a0" stroke-opacity="0.8" stroke-width="0.9" stroke-linecap="round" fill="none"/>
<path d="M43.7,50.5h.01M77.7,57.0h.01M71.4,25.7h.01M81.1,47.3h.01M132.6,39.9h.01M48.1,66.8h.01M139.2,25.7h.01M118.9,41.9h.01M99.6,46.2h.01M113.6,50.0h.01M67.6,55.4h.01M111.1,24.8h.01M38.5,67.5h.01M8.3,53.1h.01M23.5,57.8h.01M63.0,44.4h.01M84.7,17.8h.01M20.8,28.7h.01M61.6,59.7h.01M72.3,37.0h.01M80.7,42.9h.01M136.0,31.5h.01M23.4,61.3h.01M88.6,23.1h.01M68.7,32.3h.01M28.2,56.8h.01M115.5,23.0h.01M82.9,54.0h.01M89.6,17.2h.01M80.6,61.3h.01M82.8,71.7h.01M114.5,99.2h.01M24.2,100.6h.01M143.0,57.8h.01M6.7,71.4h.01M126.9,89.3h.01M45.3,82.6h.01M104.2,79.8h.01M111.8,58.8h.01M34.1,78.0h.01M136.7,66.7h.01M18.7,99.3h.01M40.3,100.6h.01M90.6,98.3h.01M68.4,98.9h.01M95.7,87.4h.01M65.0,86.7h.01M74.0,75.5h.01M98.1,63.9h.01M61.7,88.4h.01M72.1,89.4h.01M101.8,72.7h.01M93.2,68.8h.01M7.7,90.3h.01M10.8,81.2h.01M128.0,47.4h.01M98.7,94.7h.01M60.9,95.2h.01M91.0,83.0h.01M96.2,81.3h.01M108.4,69.9h.01M25.3,99.2h.01M0.2,87.6h.01M8.7,76.6h.01M14.8,99.9h.01M65.2,88.5h.01M132.8,91.9h.01M90.0,76.3h.01M120.9,52.2h.01M19.5,93.5h.01M104.7,61.9h.01M6.9,66.4h.01M102.6,78.9h.01M114.1,90.3h.01M103.2,79.3h.01M43.3,86.4h.01M101.6,86.9h.01M115.5,59.1h.01M62.9,81.5h.01M15.1,95.0h.01" stroke="#7e50a0" stroke-opacity="0.8" stroke-width="1.25" stroke-linecap="round" fill="none"/>
<path d="M0.0,26.7 C1.0,26.9 3.7,28.4 6.0,28.0 C8.3,27.6 11.6,25.7 13.6,24.5 C15.6,23.3 16.6,21.8 18.0,21.0 C19.4,20.2 20.8,20.6 22.0,20.0 C23.2,19.4 23.8,17.8 25.0,17.5 C26.2,17.2 27.7,17.6 29.0,18.0 C30.3,18.4 31.7,19.6 33.0,20.0 C34.3,20.4 35.7,20.6 37.0,20.5 C38.3,20.4 39.8,19.4 41.0,19.5 C42.2,19.6 42.7,19.8 44.0,21.0 C45.3,22.2 47.5,25.4 49.0,27.0 C50.5,28.6 51.7,30.0 53.0,30.5 C54.3,31.0 55.8,30.4 57.0,30.0 C58.2,29.6 58.8,28.5 60.0,28.0 C61.2,27.5 62.7,27.6 64.0,27.0 C65.3,26.4 66.7,25.5 68.0,24.5 C69.3,23.5 70.7,22.1 72.0,21.0 C73.3,19.9 74.7,19.2 76.0,18.0 C77.3,16.8 78.7,14.9 80.0,14.0 C81.3,13.1 82.4,12.7 83.6,12.5 C84.8,12.3 85.9,13.1 87.0,13.0 C88.1,12.9 89.0,11.9 90.0,12.0 C91.0,12.1 91.9,13.2 93.0,13.5 C94.1,13.8 95.5,12.8 96.8,13.6 C98.1,14.3 99.5,16.7 101.0,18.0 C102.5,19.3 104.2,20.9 105.5,21.2 C106.8,21.5 107.9,20.5 109.0,20.0 C110.1,19.5 110.4,18.7 112.0,18.0 C113.6,17.3 116.7,17.1 118.7,15.8 C120.7,14.5 122.2,11.8 124.0,10.0 C125.8,8.2 127.6,6.0 129.6,4.8 C131.6,3.6 133.7,3.4 136.0,3.0 C138.3,2.6 142.0,2.7 143.2,2.6 L143.2,42.0 L120.0,50.0 L100.0,58.0 L80.0,64.0 L60.0,70.0 L40.0,68.0 L20.0,67.0 L0.0,65.0 Z" fill="#fff" filter="url(#grain)" opacity="0.3"/>
<path d="M0.0,63.0 C3.3,63.3 13.3,64.5 20.0,65.0 C26.7,65.5 33.3,65.5 40.0,66.0 C46.7,66.5 53.3,68.7 60.0,68.0 C66.7,67.3 73.3,64.0 80.0,62.0 C86.7,60.0 93.3,58.3 100.0,56.0 C106.7,53.7 112.8,50.7 120.0,48.0 C127.2,45.3 139.3,41.3 143.2,40.0 L143.2,100.7 L0,100.7 Z" fill="#fff" filter="url(#grain)" opacity="0.05"/>
<path d="M0.0,26.7 C1.0,26.9 3.7,28.4 6.0,28.0 C8.3,27.6 11.6,25.7 13.6,24.5 C15.6,23.3 16.6,21.8 18.0,21.0 C19.4,20.2 20.8,20.6 22.0,20.0 C23.2,19.4 23.8,17.8 25.0,17.5 C26.2,17.2 27.7,17.6 29.0,18.0 C30.3,18.4 31.7,19.6 33.0,20.0 C34.3,20.4 35.7,20.6 37.0,20.5 C38.3,20.4 39.8,19.4 41.0,19.5 C42.2,19.6 42.7,19.8 44.0,21.0 C45.3,22.2 47.5,25.4 49.0,27.0 C50.5,28.6 51.7,30.0 53.0,30.5 C54.3,31.0 55.8,30.4 57.0,30.0 C58.2,29.6 58.8,28.5 60.0,28.0 C61.2,27.5 62.7,27.6 64.0,27.0 C65.3,26.4 66.7,25.5 68.0,24.5 C69.3,23.5 70.7,22.1 72.0,21.0 C73.3,19.9 74.7,19.2 76.0,18.0 C77.3,16.8 78.7,14.9 80.0,14.0 C81.3,13.1 82.4,12.7 83.6,12.5 C84.8,12.3 85.9,13.1 87.0,13.0 C88.1,12.9 89.0,11.9 90.0,12.0 C91.0,12.1 91.9,13.2 93.0,13.5 C94.1,13.8 95.5,12.8 96.8,13.6 C98.1,14.3 99.5,16.7 101.0,18.0 C102.5,19.3 104.2,20.9 105.5,21.2 C106.8,21.5 107.9,20.5 109.0,20.0 C110.1,19.5 110.4,18.7 112.0,18.0 C113.6,17.3 116.7,17.1 118.7,15.8 C120.7,14.5 122.2,11.8 124.0,10.0 C125.8,8.2 127.6,6.0 129.6,4.8 C131.6,3.6 133.7,3.4 136.0,3.0 C138.3,2.6 142.0,2.7 143.2,2.6 L143.2,100.7 L0,100.7 Z" fill="#fff" filter="url(#grainw)" opacity="0.5"/>
</g>
<rect x="125.1" y="91.9" width="11.2" height="1.2" fill="#222"/>
<text x="130.7" y="96.2" text-anchor="middle" font-family='"Liberation Sans", sans-serif' font-weight="bold" font-size="3.3" fill="#222">100 μm</text>
</g>
<text x="358.1" y="478.3" text-anchor="middle" font-family='"Liberation Serif", serif' font-size="12.7" fill="#000">Retinol 200 mg/kg</text>
<clipPath id="hc3"><rect x="0" y="0" width="143.2" height="101.6"/></clipPath>
<g transform="translate(293.9,483.3)" clip-path="url(#hc3)">
<rect x="0" y="0" width="143.2" height="101.6" fill="#ebe9ed"/>
<g filter="url(#soft)">
<path d="M81.7,22.8q5.3,-0.9 8.3,1.6M130.1,19.4q4.6,0.5 7.5,1.9M75.6,26.6q5.8,0.5 6.5,-0.8M71.0,28.9q4.4,0.9 7.1,1.4M132.9,17.6q4.7,-1.5 5.3,1.9M40.7,30.0q5.6,1.0 5.6,-0.7M34.8,32.0q2.0,0.1 6.5,-0.4M26.6,35.3q2.1,1.5 8.7,0.2M17.7,37.3q2.5,-0.7 5.3,-0.9M29.1,34.4q4.6,-0.2 7.4,-0.6M77.2,24.3q3.2,-1.7 7.4,-0.5M111.8,20.7q5.5,-1.9 7.7,-0.2M45.2,25.3q4.8,-1.3 7.5,0.4M4.8,40.4q4.4,0.9 7.3,-0.3M72.6,28.8q5.5,1.8 7.4,-1.9M56.9,22.3q3.3,-1.6 5.9,0.8" stroke="#a84ca6" stroke-opacity="0.3" stroke-width="0.6" fill="none"/>
<path d="M0.0,42.7 C1.3,42.6 5.0,42.5 8.0,42.0 C11.0,41.5 14.3,40.3 18.0,39.4 C21.7,38.5 26.4,37.6 30.0,36.5 C33.6,35.4 36.6,34.0 39.9,32.8 C43.2,31.5 46.4,30.1 50.0,29.0 C53.6,27.9 58.7,26.3 61.7,26.3 C64.7,26.3 66.2,28.1 68.0,29.0 C69.8,29.9 70.7,31.7 72.7,31.5 C74.7,31.3 77.5,29.2 80.0,28.0 C82.5,26.8 85.3,24.9 88.0,24.0 C90.7,23.1 93.1,22.7 96.0,22.5 C98.9,22.3 102.2,23.0 105.5,23.0 C108.8,23.0 112.3,22.7 116.0,22.5 C119.7,22.3 124.2,22.1 127.4,21.9 C130.6,21.7 132.5,21.5 135.0,21.5 C137.5,21.5 141.2,21.8 142.4,21.9 L143.2,101.6 L0,101.6 Z" fill="#ea92c2"/>
<path d="M0.0,53.7 C1.3,53.6 5.0,53.5 8.0,53.0 C11.0,52.5 14.3,51.3 18.0,50.4 C21.7,49.5 26.4,48.6 30.0,47.5 C33.6,46.4 36.6,45.0 39.9,43.8 C43.2,42.5 46.4,41.1 50.0,40.0 C53.6,38.9 58.7,37.3 61.7,37.3 C64.7,37.3 66.2,39.1 68.0,40.0 C69.8,40.9 70.7,42.7 72.7,42.5 C74.7,42.3 77.5,40.2 80.0,39.0 C82.5,37.8 85.3,35.9 88.0,35.0 C90.7,34.1 93.1,33.7 96.0,33.5 C98.9,33.3 102.2,34.0 105.5,34.0 C108.8,34.0 112.3,33.7 116.0,33.5 C119.7,33.3 124.2,33.1 127.4,32.9 C130.6,32.7 132.5,32.5 135.0,32.5 C137.5,32.5 141.2,32.8 142.4,32.9" stroke="#e078b4" stroke-width="9" stroke-opacity="0.3" fill="none"/>
<path d="M76.3,45.6a13.7,2.9 -21 1,0 25.6,-9.7a13.7,2.9 -21 1,0 -25.6,9.7zM52.5,69.4a10.3,2.2 -21 1,0 19.2,-7.4a10.3,2.2 -21 1,0 -19.2,7.4zM77.1,57.1a6.8,2.4 -19 1,0 12.8,-4.5a6.8,2.4 -19 1,0 -12.8,4.5zM58.8,67.1a7.1,1.4 -20 1,0 13.2,-4.9a7.1,1.4 -20 1,0 -13.2,4.9zM22.1,46.2a7.3,1.5 -20 1,0 13.8,-4.9a7.3,1.5 -20 1,0 -13.8,4.9zM-0.7,77.7a13.6,1.9 -23 1,0 25.1,-10.5a13.6,1.9 -23 1,0 -25.1,10.5zM110.3,30.7a6.2,1.5 -22 1,0 11.4,-4.7a6.2,1.5 -22 1,0 -11.4,4.7zM117.6,66.8a8.5,1.8 -28 1,0 14.9,-8.1a8.5,1.8 -28 1,0 -14.9,8.1zM3.2,76.4a12.4,1.4 -29 1,0 21.8,-11.9a12.4,1.4 -29 1,0 -21.8,11.9zM20.9,55.2a6.2,1.7 -20 1,0 11.6,-4.2a6.2,1.7 -20 1,0 -11.6,4.2zM65.2,60.5a13.3,2.6 -23 1,0 24.4,-10.6a13.3,2.6 -23 1,0 -24.4,10.6z" fill="#f2b4d8" fill-opacity="0.55"/>
<path d="M116.7,57.2a5.8,1.7 -29 1,0 10.2,-5.7a5.8,1.7 -29 1,0 -10.2,5.7zM-3.5,73.7a14.0,2.6 -24 1,0 25.5,-11.3a14.0,2.6 -24 1,0 -25.5,11.3zM112.8,30.3a7.6,1.9 -25 1,0 13.8,-6.4a7.6,1.9 -25 1,0 -13.8,6.4zM66.8,67.0a9.5,2.1 -28 1,0 16.8,-8.8a9.5,2.1 -28 1,0 -16.8,8.8zM27.9,43.4a6.7,2.7 -31 1,0 11.5,-6.8a6.7,2.7 -31 1,0 -11.5,6.8zM24.6,66.5a10.4,2.3 -25 1,0 18.8,-8.8a10.4,2.3 -25 1,0 -18.8,8.8zM129.6,41.5a8.5,1.3 -28 1,0 15.0,-8.1a8.5,1.3 -28 1,0 -15.0,8.1zM122.2,56.3a9.5,2.8 -19 1,0 17.9,-6.3a9.5,2.8 -19 1,0 -17.9,6.3zM3.9,77.2a9.8,2.0 -19 1,0 18.5,-6.2a9.8,2.0 -19 1,0 -18.5,6.2z" fill="#e078b4" fill-opacity="0.55"/>
<path d="M-3.9,80.1a5.8,2.9 -33 1,0 9.8,-6.3a5.8,2.9 -33 1,0 -9.8,6.3zM39.5,70.8a13.7,2.7 -19 1,0 25.9,-9.0a13.7,2.7 -19 1,0 -25.9,9.0zM67.5,43.2a9.1,2.5 -24 1,0 16.7,-7.5a9.1,2.5 -24 1,0 -16.7,7.5zM53.8,59.2a9.0,2.0 -20 1,0 16.9,-6.2a9.0,2.0 -20 1,0 -16.9,6.2zM101.6,73.5a13.3,2.3 -19 1,0 25.1,-8.4a13.3,2.3 -19 1,0 -25.1,8.4zM75.4,68.2a9.6,1.8 -25 1,0 17.3,-8.1a9.6,1.8 -25 1,0 -17.3,8.1z" fill="#f8d4e8" fill-opacity="0.55"/>
<path d="M56.4,31.1q3.1,-0.7 6.2,-2.9M124.1,68.0q3.7,-2.8 7.5,-4.8M37.9,41.1q6.5,-2.9 13.1,-4.0M137.5,51.4q4.9,-2.4 9.8,-4.7M72.2,65.6q6.3,-2.6 12.5,-5.2M37.5,36.9q3.0,-1.5 6.1,-2.7" stroke="#e078b4" stroke-width="1.1" stroke-opacity="0.75" fill="none"/>
<path d="M114.2,34.6q4.7,-1.4 9.4,-3.2M126.7,37.4q5.4,-1.6 10.8,-3.0M63.1,73.5q6.3,-3.6 12.5,-8.8M104.2,59.7q3.0,-1.5 6.0,-2.4M53.0,66.8q4.6,-1.8 9.2,-3.1M133.1,46.7q2.5,-1.3 5.0,-1.5M80.2,64.8q5.9,-1.6 11.8,-4.5" stroke="#f2b4d8" stroke-width="1.1" stroke-opacity="0.75" fill="none"/>
<path d="M76.1,44.3q6.5,-2.9 13.0,-5.3M56.9,44.3q6.7,-3.6 13.4,-6.6M14.5,49.5q6.2,-3.6 12.3,-6.4M93.8,26.0q3.2,-1.6 6.5,-1.9M26.0,60.7q6.0,-3.1 12.1,-5.7M72.0,49.2q2.9,-2.0 5.7,-2.2M73.7,40.9q5.0,-1.9 9.9,-2.9M111.4,58.0q3.5,-1.6 6.9,-1.9M50.0,34.2q5.5,-3.6 11.0,-6.8M71.6,64.0q5.2,-0.9 10.4,-3.4M81.5,40.0q3.2,-1.2 6.5,-2.1M21.0,63.0q2.4,-0.6 4.7,-2.0M60.6,48.0q5.8,-2.1 11.6,-6.1M137.5,56.2q4.2,-2.8 8.4,-3.7M122.3,68.3q2.6,-2.0 5.2,-3.5M84.2,63.5q4.5,-0.9 8.9,-3.4M23.6,65.5q4.7,-3.2 9.4,-5.5M112.9,58.0q3.7,-1.6 7.4,-4.1M136.5,53.3q6.0,-4.7 12.0,-7.8M133.1,68.2q6.0,-3.0 12.0,-4.4M11.8,78.2q7.0,-3.4 14.0,-5.0M109.6,67.7q4.4,-1.9 8.8,-3.2M138.3,42.1q5.3,-2.5 10.5,-3.7M125.7,45.6q3.9,-2.7 7.9,-4.6M69.0,38.5q3.2,-1.0 6.5,-1.9M80.2,51.2q6.9,-1.7 13.7,-5.4M127.9,54.5q5.2,-3.2 10.4,-7.0" stroke="#f8d4e8" stroke-width="1.1" stroke-opacity="0.75" fill="none"/>
<path d="M40.0,48.9q5.5,-1.6 11.0,-4.1M17.2,60.2q2.8,-1.7 5.5,-3.2M102.2,70.3q4.0,-0.6 7.9,-2.9M133.9,52.7q6.9,-1.9 13.7,-5.1M72.2,34.3q3.2,-1.1 6.4,-3.4M76.2,46.7q6.4,-3.3 12.7,-6.6M132.6,50.8q2.9,-1.2 5.7,-3.0M141.9,32.0q6.3,-1.7 12.7,-4.6M66.1,65.7q5.5,-3.5 11.1,-6.8M133.5,32.2q2.7,-0.4 5.4,-1.9M128.0,41.3q2.1,-1.9 4.3,-2.8M119.1,42.7q6.6,-2.8 13.1,-7.4M56.1,46.5q2.9,-2.0 5.9,-2.1M109.7,43.3q2.5,-1.8 5.0,-1.8M134.5,67.9q4.2,-1.8 8.4,-2.9M9.4,47.8q6.5,-3.4 13.1,-8.3M78.1,69.0q6.2,-2.1 12.3,-4.8M129.9,61.6q3.2,-1.6 6.4,-3.1M142.9,37.6q2.6,-0.3 5.2,-1.5M42.2,69.9q4.7,-1.1 9.3,-3.5M79.9,56.1q3.3,-1.9 6.6,-2.0M68.5,43.3q6.6,-3.4 13.3,-7.9M44.9,44.3q5.9,-1.0 11.7,-3.9M78.6,54.3q6.6,-2.6 13.2,-5.3M23.8,63.8q5.5,-2.1 10.9,-3.1M88.5,29.4q7.5,-2.4 15.0,-5.2M53.6,56.3q4.7,-2.5 9.3,-5.0M12.9,46.3q2.3,-1.0 4.7,-2.0" stroke="#f8d4e8" stroke-width="0.6" stroke-opacity="0.75" fill="none"/>
<path d="M126.6,56.0q4.4,-3.1 8.8,-5.6M76.5,49.1q5.5,-1.7 11.1,-4.5M49.1,67.8q7.0,-2.2 14.0,-4.3M37.8,61.9q6.6,-4.0 13.1,-6.9M15.6,47.0q5.3,-2.7 10.5,-3.5M86.7,33.1q3.7,-1.4 7.4,-3.9M129.3,51.9q4.2,-1.9 8.5,-3.9M50.6,60.5q2.4,-0.9 4.9,-2.7M49.0,49.1q4.1,-1.9 8.3,-4.8M5.2,47.4q2.4,-0.9 4.8,-1.6M78.1,39.7q3.5,-0.3 6.9,-2.1M124.9,49.1q3.6,-1.9 7.2,-4.1M99.8,71.6q2.6,-0.4 5.1,-2.6M82.0,45.6q3.7,-1.7 7.4,-2.6" stroke="#f2b4d8" stroke-width="0.6" stroke-opacity="0.75" fill="none"/>
<path d="M20.7,65.8q2.7,-0.7 5.4,-2.4M11.0,48.3q3.8,-3.4 7.6,-4.8M22.6,56.9q7.2,-1.3 14.4,-4.5M46.9,35.8q2.5,-2.4 5.0,-3.0M45.3,39.0q3.3,-2.7 6.7,-3.7M98.8,53.8q6.2,-3.1 12.4,-5.9M53.6,34.6q2.5,-0.9 5.1,-3.2M81.8,59.6q3.9,-2.3 7.7,-4.5" stroke="#e078b4" stroke-width="0.6" stroke-opacity="0.75" fill="none"/>
<clipPath id="fc3"><path d="M0.0,79.0 C3.3,78.8 13.3,78.5 20.0,78.0 C26.7,77.5 33.0,76.7 40.0,76.0 C47.0,75.3 55.0,74.4 61.7,74.0 C68.4,73.6 73.6,73.8 80.0,73.5 C86.4,73.2 93.3,72.3 100.0,72.0 C106.7,71.7 112.9,72.0 120.0,71.5 C127.1,71.0 138.7,69.4 142.4,69.0 L143.2,101.6 L0,101.6 Z"/></clipPath>
<g clip-path="url(#fc3)">
<rect x="0" y="0" width="143.2" height="101.6" fill="#f2eff3"/>
<path d="M-15.9,59.2a5.9,4.9 0 1,0 11.7,0.1a5.9,4.9 0 1,0 -11.7,-0.1zM-5.2,59.3a5.3,4.5 -6 1,0 10.5,-1.2a5.3,4.5 -6 1,0 -10.5,1.2zM5.5,61.8a5.2,4.3 -19 1,0 9.7,-3.4a5.2,4.3 -19 1,0 -9.7,3.4zM16.7,62.7a5.1,4.4 -26 1,0 9.2,-4.4a5.1,4.4 -26 1,0 -9.2,4.4zM23.7,59.1a5.3,5.0 -4 1,0 10.5,-0.7a5.3,5.0 -4 1,0 -10.5,0.7zM54.5,57.3a5.6,4.9 14 1,0 10.9,2.7a5.6,4.9 14 1,0 -10.9,-2.7zM62.5,56.2a5.6,5.0 25 1,0 10.1,4.8a5.6,5.0 25 1,0 -10.1,-4.8zM73.8,56.8a5.8,4.2 20 1,0 10.8,4.0a5.8,4.2 20 1,0 -10.8,-4.0zM82.8,57.4a5.0,5.1 26 1,0 9.0,4.3a5.0,5.1 26 1,0 -9.0,-4.3zM91.5,58.9a5.4,5.1 -1 1,0 10.8,-0.3a5.4,5.1 -1 1,0 -10.8,0.3zM121.1,56.6a5.4,4.8 26 1,0 9.8,4.7a5.4,4.8 26 1,0 -9.8,-4.7zM131.3,58.4a5.3,4.9 6 1,0 10.6,1.2a5.3,4.9 6 1,0 -10.6,-1.2zM-10.2,68.1a5.6,4.4 5 1,0 11.2,1.0a5.6,4.4 5 1,0 -11.2,-1.0zM-0.6,70.9a5.5,4.6 -19 1,0 10.4,-3.6a5.5,4.6 -19 1,0 -10.4,3.6zM19.8,64.8a5.3,5.1 28 1,0 9.4,5.0a5.3,5.1 28 1,0 -9.4,-5.0zM36.8,66.5a5.7,4.9 8 1,0 11.3,1.6a5.7,4.9 8 1,0 -11.3,-1.6zM50.1,65.2a5.1,4.6 21 1,0 9.5,3.7a5.1,4.6 21 1,0 -9.5,-3.7zM86.4,66.3a5.8,4.9 12 1,0 11.4,2.3a5.8,4.9 12 1,0 -11.4,-2.3zM96.3,67.6a5.4,4.9 -11 1,0 10.5,-2.1a5.4,4.9 -11 1,0 -10.5,2.1zM117.2,69.8a5.3,4.4 -18 1,0 10.1,-3.2a5.3,4.4 -18 1,0 -10.1,3.2zM137.2,68.1a5.0,4.9 -18 1,0 9.4,-3.1a5.0,4.9 -18 1,0 -9.4,3.1zM144.5,67.0a5.8,4.6 6 1,0 11.5,1.1a5.8,4.6 6 1,0 -11.5,-1.1zM-14.5,72.7a5.1,4.6 27 1,0 9.1,4.6a5.1,4.6 27 1,0 -9.1,-4.6zM-5.3,76.0a5.4,4.6 -8 1,0 10.7,-1.4a5.4,4.6 -8 1,0 -10.7,1.4zM14.4,74.4a5.2,4.2 14 1,0 10.2,2.5a5.2,4.2 14 1,0 -10.2,-2.5zM23.3,77.3a5.0,4.8 -7 1,0 10.0,-1.3a5.0,4.8 -7 1,0 -10.0,1.3zM31.0,77.7a5.1,5.1 -5 1,0 10.1,-1.0a5.1,5.1 -5 1,0 -10.1,1.0zM42.5,79.7a5.3,4.3 -26 1,0 9.5,-4.7a5.3,4.3 -26 1,0 -9.5,4.7zM62.1,76.5a5.4,5.0 -23 1,0 10.0,-4.2a5.4,5.0 -23 1,0 -10.0,4.2zM71.3,72.8a5.3,4.6 21 1,0 9.9,3.8a5.3,4.6 21 1,0 -9.9,-3.8zM81.9,75.1a5.5,4.7 21 1,0 10.3,4.0a5.5,4.7 21 1,0 -10.3,-4.0zM90.4,78.7a5.6,5.1 -18 1,0 10.6,-3.4a5.6,5.1 -18 1,0 -10.6,3.4zM101.5,77.2a5.8,4.3 -23 1,0 10.7,-4.5a5.8,4.3 -23 1,0 -10.7,4.5zM111.8,72.7a5.7,4.8 24 1,0 10.5,4.7a5.7,4.8 24 1,0 -10.5,-4.7zM130.9,77.1a5.2,5.1 -27 1,0 9.2,-4.8a5.2,5.1 -27 1,0 -9.2,4.8zM140.6,76.5a5.9,4.8 -10 1,0 11.5,-2.1a5.9,4.8 -10 1,0 -11.5,2.1zM-0.9,83.6a5.5,5.1 16 1,0 10.5,3.1a5.5,5.1 16 1,0 -10.5,-3.1zM8.9,83.2a5.7,4.6 11 1,0 11.3,2.2a5.7,4.6 11 1,0 -11.3,-2.2zM31.4,85.2a5.2,4.7 -17 1,0 9.9,-3.1a5.2,4.7 -17 1,0 -9.9,3.1zM59.5,87.3a5.8,4.4 -18 1,0 11.0,-3.6a5.8,4.4 -18 1,0 -11.0,3.6zM78.8,86.1a5.7,4.7 -19 1,0 10.8,-3.8a5.7,4.7 -19 1,0 -10.8,3.8zM89.5,82.2a5.1,4.7 17 1,0 9.7,3.0a5.1,4.7 17 1,0 -9.7,-3.0zM109.6,81.6a5.7,5.0 16 1,0 10.9,3.2a5.7,5.0 16 1,0 -10.9,-3.2zM137.8,86.1a5.7,4.3 -17 1,0 10.8,-3.3a5.7,4.3 -17 1,0 -10.8,3.3zM14.8,92.1a5.5,4.6 -4 1,0 11.1,-0.7a5.5,4.6 -4 1,0 -11.1,0.7zM74.2,90.6a5.1,4.3 19 1,0 9.7,3.3a5.1,4.3 19 1,0 -9.7,-3.3zM104.0,93.5a5.8,4.7 -14 1,0 11.3,-2.8a5.8,4.7 -14 1,0 -11.3,2.8zM122.2,89.2a5.7,5.0 20 1,0 10.7,3.9a5.7,5.0 20 1,0 -10.7,-3.9zM-10.0,101.7a5.6,5.1 -16 1,0 10.8,-3.1a5.6,5.1 -16 1,0 -10.8,3.1zM0.7,101.5a5.2,4.8 -15 1,0 10.0,-2.7a5.2,4.8 -15 1,0 -10.0,2.7zM10.6,99.3a5.0,5.0 1 1,0 10.0,0.1a5.0,5.0 1 1,0 -10.0,-0.1zM19.0,99.4a5.5,4.3 12 1,0 10.7,2.3a5.5,4.3 12 1,0 -10.7,-2.3zM38.3,101.1a5.2,4.5 -24 1,0 9.5,-4.3a5.2,4.5 -24 1,0 -9.5,4.3zM47.0,100.7a5.0,4.8 2 1,0 10.1,0.3a5.0,4.8 2 1,0 -10.1,-0.3zM57.7,99.1a5.5,4.8 2 1,0 10.9,0.3a5.5,4.8 2 1,0 -10.9,-0.3zM87.3,102.6a5.5,4.4 -11 1,0 10.9,-2.0a5.5,4.4 -11 1,0 -10.9,2.0zM106.9,102.6a5.8,4.9 -12 1,0 11.4,-2.5a5.8,4.9 -12 1,0 -11.4,2.5zM125.7,99.8a5.3,5.0 1 1,0 10.7,0.1a5.3,5.0 1 1,0 -10.7,-0.1zM-13.8,107.8a5.4,5.0 22 1,0 10.0,4.0a5.4,5.0 22 1,0 -10.0,-4.0zM4.0,107.6a5.2,4.7 21 1,0 9.7,3.7a5.2,4.7 21 1,0 -9.7,-3.7zM22.4,107.4a5.7,4.5 -2 1,0 11.4,-0.3a5.7,4.5 -2 1,0 -11.4,0.3zM52.1,110.6a5.8,5.0 -10 1,0 11.4,-2.0a5.8,5.0 -10 1,0 -11.4,2.0zM61.8,107.1a5.8,5.1 11 1,0 11.4,2.2a5.8,5.1 11 1,0 -11.4,-2.2zM72.9,109.8a4.9,4.2 -22 1,0 9.2,-3.7a4.9,4.2 -22 1,0 -9.2,3.7zM100.7,110.3a5.7,4.4 -25 1,0 10.4,-4.7a5.7,4.4 -25 1,0 -10.4,4.7zM111.0,108.0a5.6,4.6 21 1,0 10.4,4.0a5.6,4.6 21 1,0 -10.4,-4.0zM120.5,110.1a5.7,4.5 -14 1,0 11.1,-2.8a5.7,4.5 -14 1,0 -11.1,2.8zM139.7,107.2a5.4,4.4 10 1,0 10.6,1.8a5.4,4.4 10 1,0 -10.6,-1.8z" fill="none" stroke="#e88cc0" stroke-width="1.02" stroke-opacity="0.8"/>
<path d="M34.1,58.5a5.6,4.3 11 1,0 11.0,2.1a5.6,4.3 11 1,0 -11.0,-2.1zM43.7,60.2a5.1,4.7 6 1,0 10.2,1.1a5.1,4.7 6 1,0 -10.2,-1.1zM103.3,63.4a5.6,4.6 -28 1,0 9.9,-5.2a5.6,4.6 -28 1,0 -9.9,5.2zM110.2,57.5a5.4,4.9 7 1,0 10.6,1.4a5.4,4.9 7 1,0 -10.6,-1.4zM137.8,57.6a5.8,4.4 8 1,0 11.4,1.7a5.8,4.4 8 1,0 -11.4,-1.7zM9.8,67.7a5.2,5.0 10 1,0 10.3,1.8a5.2,5.0 10 1,0 -10.3,-1.8zM28.5,67.5a5.4,5.1 -0 1,0 10.8,-0.0a5.4,5.1 -0 1,0 -10.8,0.0zM58.9,65.1a5.3,4.9 30 1,0 9.2,5.2a5.3,4.9 30 1,0 -9.2,-5.2zM68.5,67.1a5.3,4.2 22 1,0 9.8,3.9a5.3,4.2 22 1,0 -9.8,-3.9zM77.3,70.6a5.7,4.8 -22 1,0 10.6,-4.3a5.7,4.8 -22 1,0 -10.6,4.3zM107.0,65.6a5.2,4.6 22 1,0 9.6,3.9a5.2,4.6 22 1,0 -9.6,-3.9zM127.8,67.6a5.0,4.5 9 1,0 9.8,1.5a5.0,4.5 9 1,0 -9.8,-1.5zM4.2,75.8a5.5,4.6 14 1,0 10.7,2.6a5.5,4.6 14 1,0 -10.7,-2.6zM50.9,74.1a5.2,5.1 8 1,0 10.4,1.4a5.2,5.1 8 1,0 -10.4,-1.4zM120.9,74.6a5.0,4.3 -3 1,0 10.1,-0.5a5.0,4.3 -3 1,0 -10.1,0.5zM-9.4,83.3a5.0,4.5 24 1,0 9.1,4.1a5.0,4.5 24 1,0 -9.1,-4.1zM21.5,87.0a5.1,4.4 -19 1,0 9.6,-3.4a5.1,4.4 -19 1,0 -9.6,3.4zM39.8,83.0a5.5,5.0 2 1,0 11.0,0.4a5.5,5.0 2 1,0 -11.0,-0.4zM50.0,85.2a5.4,4.6 -18 1,0 10.2,-3.4a5.4,4.6 -18 1,0 -10.2,3.4zM70.0,86.1a5.4,4.3 -23 1,0 10.0,-4.2a5.4,4.3 -23 1,0 -10.0,4.2zM101.0,80.9a5.3,4.8 20 1,0 9.9,3.6a5.3,4.8 20 1,0 -9.9,-3.6zM116.7,84.2a5.7,5.0 -9 1,0 11.3,-1.7a5.7,5.0 -9 1,0 -11.3,1.7zM126.4,81.7a5.6,4.9 23 1,0 10.2,4.3a5.6,4.9 23 1,0 -10.2,-4.3zM145.8,85.8a5.5,4.5 -14 1,0 10.7,-2.7a5.5,4.5 -14 1,0 -10.7,2.7zM-15.2,92.0a5.0,4.5 -8 1,0 9.9,-1.4a5.0,4.5 -8 1,0 -9.9,1.4zM-4.9,92.4a5.7,4.3 13 1,0 11.0,2.5a5.7,4.3 13 1,0 -11.0,-2.5zM6.6,89.9a5.3,4.8 16 1,0 10.2,2.9a5.3,4.8 16 1,0 -10.2,-2.9zM24.8,93.1a5.1,4.5 -8 1,0 10.0,-1.4a5.1,4.5 -8 1,0 -10.0,1.4zM34.8,89.8a5.3,4.7 26 1,0 9.5,4.6a5.3,4.7 26 1,0 -9.5,-4.6zM43.6,89.4a5.4,4.3 23 1,0 9.8,4.3a5.4,4.3 23 1,0 -9.8,-4.3zM52.0,93.0a5.5,4.4 6 1,0 10.9,1.1a5.5,4.4 6 1,0 -10.9,-1.1zM62.5,90.9a5.6,5.1 7 1,0 11.1,1.3a5.6,5.1 7 1,0 -11.1,-1.3zM84.2,92.8a5.2,4.4 -1 1,0 10.4,-0.2a5.2,4.4 -1 1,0 -10.4,0.2zM92.2,92.7a5.1,4.7 -17 1,0 9.8,-3.0a5.1,4.7 -17 1,0 -9.8,3.0zM113.7,93.7a5.7,5.0 -11 1,0 11.1,-2.1a5.7,5.0 -11 1,0 -11.1,2.1zM133.2,88.7a5.2,4.4 24 1,0 9.4,4.2a5.2,4.4 24 1,0 -9.4,-4.2zM141.5,90.8a5.5,5.1 8 1,0 10.9,1.5a5.5,5.1 8 1,0 -10.9,-1.5zM29.4,99.3a5.0,4.3 9 1,0 9.9,1.6a5.0,4.3 9 1,0 -9.9,-1.6zM68.6,99.2a5.4,4.5 7 1,0 10.8,1.2a5.4,4.5 7 1,0 -10.8,-1.2zM78.5,97.9a5.2,4.2 22 1,0 9.6,3.9a5.2,4.2 22 1,0 -9.6,-3.9zM97.1,100.2a5.0,4.6 18 1,0 9.5,3.0a5.0,4.6 18 1,0 -9.5,-3.0zM115.5,96.8a5.9,4.8 27 1,0 10.4,5.4a5.9,4.8 27 1,0 -10.4,-5.4zM136.5,96.5a5.2,4.8 28 1,0 9.1,4.9a5.2,4.8 28 1,0 -9.1,-4.9zM146.0,100.1a5.9,4.2 -5 1,0 11.7,-1.1a5.9,4.2 -5 1,0 -11.7,1.1zM-4.7,109.3a5.1,5.0 -17 1,0 9.7,-2.9a5.1,5.0 -17 1,0 -9.7,2.9zM14.2,106.8a5.7,4.4 9 1,0 11.2,1.8a5.7,4.4 9 1,0 -11.2,-1.8zM33.4,107.8a4.9,5.1 -7 1,0 9.8,-1.2a4.9,5.1 -7 1,0 -9.8,1.2zM44.4,109.4a5.1,4.5 -6 1,0 10.2,-1.1a5.1,4.5 -6 1,0 -10.2,1.1zM82.1,105.9a5.8,4.6 27 1,0 10.4,5.4a5.8,4.6 27 1,0 -10.4,-5.4zM92.9,109.3a5.2,4.5 -9 1,0 10.2,-1.6a5.2,4.5 -9 1,0 -10.2,1.6zM130.6,110.2a5.5,4.4 -21 1,0 10.3,-3.9a5.5,4.4 -21 1,0 -10.3,3.9z" fill="none" stroke="#e88cc0" stroke-width="1.61" stroke-opacity="0.8"/>
<path d="M-7.3,62.1a2.6,0.9 0 1,0 5.1,0.0a2.6,0.9 0 1,0 -5.1,-0.0zM24.0,63.1a1.9,1.6 0 1,0 3.7,0.0a1.9,1.6 0 1,0 -3.7,-0.0zM128.5,61.9a2.4,0.7 0 1,0 4.8,0.0a2.4,0.7 0 1,0 -4.8,-0.0zM76.5,71.6a1.6,1.3 0 1,0 3.1,0.0a1.6,1.3 0 1,0 -3.1,-0.0zM144.7,69.5a1.6,1.3 0 1,0 3.2,0.0a1.6,1.3 0 1,0 -3.2,-0.0zM154.3,70.3a1.2,1.5 0 1,0 2.3,0.0a1.2,1.5 0 1,0 -2.3,-0.0zM99.2,80.1a1.5,1.2 0 1,0 3.1,0.0a1.5,1.2 0 1,0 -3.1,-0.0zM138.6,77.8a1.6,1.5 0 1,0 3.2,0.0a1.6,1.5 0 1,0 -3.2,-0.0zM18.4,87.1a1.3,1.6 0 1,0 2.5,0.0a1.3,1.6 0 1,0 -2.5,-0.0zM29.8,88.0a1.1,1.5 0 1,0 2.3,0.0a1.1,1.5 0 1,0 -2.3,-0.0zM58.1,86.3a1.9,1.6 0 1,0 3.8,0.0a1.9,1.6 0 1,0 -3.8,-0.0zM42.0,94.8a2.3,1.3 0 1,0 4.6,0.0a2.3,1.3 0 1,0 -4.6,-0.0zM104.1,104.4a2.3,1.0 0 1,0 4.6,0.0a2.3,1.0 0 1,0 -4.6,-0.0zM2.2,110.8a2.5,1.4 0 1,0 4.9,0.0a2.5,1.4 0 1,0 -4.9,-0.0zM129.6,111.4a1.5,0.9 0 1,0 3.1,0.0a1.5,0.9 0 1,0 -3.1,-0.0z" fill="#e88cc0" fill-opacity="0.8"/>
<path d="M0.0,79.0 C3.3,78.8 13.3,78.5 20.0,78.0 C26.7,77.5 33.0,76.7 40.0,76.0 C47.0,75.3 55.0,74.4 61.7,74.0 C68.4,73.6 73.6,73.8 80.0,73.5 C86.4,73.2 93.3,72.3 100.0,72.0 C106.7,71.7 112.9,72.0 120.0,71.5 C127.1,71.0 138.7,69.4 142.4,69.0" stroke="#ea92c2" stroke-width="5" stroke-opacity="0.55" fill="none"/>
</g>
<path d="M48,72 Q71.0,51.5 94,31" stroke="#a052aa" stroke-width="11" stroke-linecap="round" fill="none" stroke-opacity="0.8"/>
<path d="M52.5,66.5h.01M59.3,64.5h.01M68.5,49.7h.01M81.3,49.5h.01M71.1,50.8h.01M76.5,47.6h.01M94.2,31.2h.01M52.0,70.4h.01M74.9,46.9h.01M79.8,48.1h.01M67.5,51.2h.01M49.5,69.1h.01M73.4,42.4h.01M91.5,34.5h.01M60.8,60.6h.01M80.7,43.3h.01M67.1,60.1h.01M85.7,45.7h.01M66.7,56.5h.01M51.4,66.5h.01M88.5,42.1h.01M85.4,34.1h.01M63.2,60.9h.01M88.1,32.5h.01M54.0,63.7h.01M61.4,55.7h.01M50.6,66.0h.01M90.9,37.9h.01M85.7,39.4h.01M72.1,49.3h.01M60.7,56.1h.01M49.3,71.4h.01M65.1,54.9h.01M87.6,29.7h.01M55.4,69.5h.01M69.9,54.1h.01M79.0,48.6h.01M90.0,39.2h.01M79.5,45.1h.01M57.8,66.0h.01M75.1,51.7h.01M56.6,70.6h.01M86.7,32.0h.01M93.1,37.7h.01M48.5,68.6h.01M74.5,53.5h.01M83.7,35.0h.01M87.7,40.8h.01M53.9,72.7h.01M60.2,55.4h.01M82.5,44.1h.01M90.6,29.4h.01M55.2,62.1h.01M92.6,36.9h.01M94.8,35.0h.01M94.9,34.8h.01M73.6,52.8h.01M72.4,54.8h.01M47.8,68.4h.01M58.3,66.6h.01M48.9,71.8h.01M92.5,35.2h.01M79.4,39.3h.01M66.2,49.0h.01M66.4,48.9h.01M63.1,58.6h.01M80.0,40.1h.01M83.0,41.2h.01M80.3,46.4h.01M96.0,33.8h.01M94.3,35.1h.01M86.1,42.8h.01M55.9,63.3h.01M73.7,55.9h.01M90.5,38.5h.01M70.1,56.5h.01M80.2,44.4h.01M61.3,65.7h.01M50.7,69.4h.01M79.4,46.5h.01M64.5,53.9h.01M65.0,60.7h.01M94.3,36.9h.01M67.4,55.0h.01M53.1,63.5h.01M52.9,69.3h.01M61.1,55.4h.01M66.7,54.7h.01M55.1,72.7h.01M54.5,67.5h.01M90.8,27.9h.01M59.9,65.9h.01M88.5,38.3h.01M86.1,40.5h.01M83.1,37.0h.01M89.0,41.7h.01M61.4,63.3h.01M51.9,67.1h.01M94.8,32.2h.01M61.1,65.0h.01M81.0,46.7h.01M81.3,37.6h.01M58.5,62.3h.01M47.2,69.6h.01M78.6,42.1h.01M62.2,56.8h.01M84.7,35.2h.01M90.3,38.5h.01M56.6,64.5h.01M70.5,53.7h.01M79.8,46.5h.01M51.1,72.2h.01M59.1,62.6h.01M54.5,72.7h.01M46.7,67.2h.01M49.0,64.7h.01M52.0,75.1h.01M69.8,52.7h.01M88.0,29.0h.01M78.5,42.8h.01M80.8,43.3h.01M89.2,39.3h.01M91.2,30.2h.01M92.8,33.9h.01M54.6,73.5h.01M62.7,56.0h.01M68.9,56.9h.01M70.2,51.2h.01M89.0,33.9h.01M63.9,60.8h.01M85.1,35.4h.01M85.5,32.6h.01M87.2,38.9h.01M75.4,50.0h.01M70.8,47.5h.01M60.8,54.5h.01M68.0,59.7h.01M62.8,65.9h.01M77.1,45.5h.01M78.9,44.9h.01M90.1,30.4h.01M91.6,34.6h.01M79.7,48.9h.01M51.3,75.2h.01M50.9,67.1h.01M54.0,62.3h.01M57.3,69.3h.01M80.8,41.4h.01M89.7,33.1h.01" stroke="#5c3084" stroke-opacity="0.55" stroke-width="0.9" stroke-linecap="round" fill="none"/>
<path d="M47,72 Q51.5,68.5 56,65" stroke="#9c4ea8" stroke-width="14" stroke-linecap="round" fill="none" stroke-opacity="0.8"/>
<path d="M48.8,62.0h.01M49.4,69.7h.01M51.2,73.9h.01M54.1,73.9h.01M48.6,71.2h.01M52.9,66.2h.01M48.0,66.7h.01M46.2,66.8h.01M55.1,70.5h.01M50.9,76.3h.01M46.6,64.4h.01M45.6,65.2h.01M55.8,67.7h.01M45.0,66.7h.01M48.9,71.5h.01M55.7,72.8h.01M51.1,61.3h.01M52.4,68.9h.01M46.9,64.3h.01M47.4,66.2h.01M58.5,69.4h.01M48.9,66.9h.01M56.3,66.8h.01M55.1,65.6h.01M49.4,68.9h.01M45.3,69.6h.01M47.0,70.2h.01M54.5,68.1h.01M51.2,67.1h.01M55.9,66.0h.01M54.2,67.4h.01M54.5,64.2h.01M51.8,66.8h.01M54.1,67.5h.01M50.3,71.9h.01" stroke="#5c3084" stroke-opacity="0.55" stroke-width="0.9" stroke-linecap="round" fill="none"/>
<path d="M90,66 Q110.5,48.0 131,30" stroke="#a456ac" stroke-width="11" stroke-linecap="round" fill="none" stroke-opacity="0.8"/>
<path d="M117.8,39.4h.01M91.9,60.5h.01M120.4,32.3h.01M101.7,60.6h.01M94.0,61.1h.01M99.7,63.3h.01M99.6,54.5h.01M131.7,35.9h.01M119.9,36.7h.01M114.0,39.0h.01M115.2,48.0h.01M122.3,32.5h.01M94.5,61.3h.01M110.1,41.5h.01M100.7,55.5h.01M127.3,31.4h.01M93.9,60.6h.01M99.2,65.1h.01M93.8,63.6h.01M112.9,45.7h.01M96.9,63.4h.01M110.8,45.3h.01M114.6,47.2h.01M113.3,51.6h.01M91.9,62.6h.01M108.1,57.0h.01M106.4,58.3h.01M100.6,58.3h.01M96.8,58.8h.01M130.3,36.8h.01M115.7,43.2h.01M108.5,56.0h.01M119.2,42.9h.01M105.6,51.3h.01M116.7,36.5h.01M104.9,56.5h.01M95.5,60.5h.01M113.6,44.0h.01M128.6,29.0h.01M103.5,59.9h.01M123.9,35.6h.01M113.7,46.3h.01M124.4,34.8h.01M118.0,48.6h.01M113.6,48.2h.01M112.9,39.2h.01M91.1,64.1h.01M100.0,51.8h.01M101.4,59.0h.01M111.3,51.6h.01M119.4,44.9h.01M124.3,40.8h.01M117.5,37.7h.01M116.8,38.3h.01M120.6,40.5h.01M109.6,49.6h.01M101.8,62.6h.01M122.2,38.1h.01M127.1,29.8h.01M91.9,64.9h.01M91.7,61.1h.01M116.2,47.2h.01M98.7,65.3h.01M90.8,60.7h.01M127.5,32.3h.01M93.8,65.7h.01M108.8,46.9h.01M131.0,33.4h.01M112.3,50.8h.01M98.2,53.9h.01M113.1,45.8h.01M90.1,63.9h.01M121.3,39.0h.01M94.5,58.2h.01M121.8,34.3h.01M99.0,52.9h.01M103.8,56.3h.01M111.1,47.7h.01M122.5,33.0h.01M113.7,43.5h.01M125.0,35.9h.01M102.4,60.1h.01M117.3,47.9h.01M101.9,50.3h.01M108.1,56.9h.01M129.6,29.6h.01M127.1,36.1h.01M127.0,30.8h.01M92.8,62.2h.01M121.9,38.7h.01M107.3,50.6h.01M98.7,55.9h.01M105.4,57.9h.01M100.6,63.5h.01M116.4,48.9h.01M112.3,53.4h.01M103.8,47.3h.01M113.6,49.5h.01M129.5,35.7h.01M101.5,58.1h.01M104.7,57.1h.01M131.5,35.9h.01M122.6,40.8h.01M97.4,59.9h.01M125.3,39.7h.01M119.2,45.0h.01M103.4,60.7h.01M88.5,60.5h.01M122.6,31.9h.01M110.0,53.6h.01M128.8,33.7h.01M100.7,54.4h.01M92.5,68.2h.01M109.9,41.9h.01M88.4,63.3h.01M120.5,38.2h.01M94.8,63.4h.01M98.5,59.5h.01M94.0,68.2h.01M103.2,51.4h.01M101.7,56.1h.01M115.0,42.4h.01M101.2,62.5h.01M130.3,32.4h.01M95.7,58.9h.01M93.8,63.7h.01M128.1,29.9h.01M111.8,53.5h.01M100.4,62.5h.01M125.8,32.1h.01M121.9,31.7h.01M95.6,62.3h.01" stroke="#5c3084" stroke-opacity="0.55" stroke-width="0.9" stroke-linecap="round" fill="none"/>
<path d="M88,66 Q93.5,61.5 99,57" stroke="#9a4ca6" stroke-width="14.5" stroke-linecap="round" fill="none" stroke-opacity="0.8"/>
<path d="M84.7,61.0h.01M95.9,62.9h.01M96.6,59.3h.01M87.6,62.9h.01M86.7,64.5h.01M97.2,56.3h.01M95.3,64.1h.01M96.7,59.4h.01M90.4,55.1h.01M94.9,67.2h.01M93.6,53.7h.01M99.5,62.5h.01M91.7,59.6h.01M102.4,61.2h.01M88.4,65.7h.01M91.4,63.9h.01M93.8,55.0h.01M93.6,68.1h.01M91.0,64.4h.01M90.8,58.0h.01M92.0,57.5h.01M88.2,65.9h.01M92.8,66.6h.01M102.2,62.8h.01M94.8,65.3h.01M90.3,67.1h.01M91.8,66.9h.01M91.1,62.6h.01M95.5,60.7h.01M99.0,65.5h.01M85.1,61.9h.01M91.7,63.2h.01M93.8,55.7h.01M88.8,65.2h.01M89.0,60.1h.01M88.8,57.0h.01M96.0,59.1h.01M93.2,64.9h.01M88.8,59.3h.01M88.7,59.1h.01M94.7,66.9h.01M91.0,62.3h.01M86.5,59.0h.01M90.7,59.9h.01M90.8,61.3h.01" stroke="#5c3084" stroke-opacity="0.55" stroke-width="0.9" stroke-linecap="round" fill="none"/>
<path d="M118.7,40.5 Q125.8,34.6 133,28.8" stroke="#f8f2f7" stroke-width="2.6" stroke-linecap="round" fill="none" stroke-opacity="0.8"/>
<path d="M132.0,30.7h.01M125.0,34.5h.01M123.7,36.2h.01M119.3,40.2h.01M130.9,29.4h.01M122.7,36.8h.01M122.7,36.2h.01M125.0,35.4h.01M130.8,30.3h.01M122.9,36.4h.01" stroke="#5c3084" stroke-opacity="0.55" stroke-width="0.9" stroke-linecap="round" fill="none"/>
<path d="M8,62 Q11.0,56.0 14,50" stroke="#b060b0" stroke-width="5" stroke-linecap="round" fill="none" stroke-opacity="0.8"/>
<path d="M10.7,51.0h.01M7.2,59.5h.01M10.7,58.5h.01M9.6,53.5h.01M10.1,53.7h.01M9.1,58.0h.01M9.9,54.8h.01M13.0,53.2h.01M10.3,55.4h.01M13.7,53.4h.01M10.3,55.5h.01M8.5,58.9h.01M12.1,56.9h.01M14.5,54.3h.01" stroke="#5c3084" stroke-opacity="0.55" stroke-width="0.9" stroke-linecap="round" fill="none"/>
<path d="M26,72 Q30.0,69.0 34,66" stroke="#a858ae" stroke-width="6" stroke-linecap="round" fill="none" stroke-opacity="0.8"/>
<path d="M33.3,65.4h.01M32.4,66.4h.01M28.6,69.5h.01M27.7,69.1h.01M30.4,71.5h.01M27.1,72.9h.01M32.7,69.8h.01M30.2,69.2h.01M31.9,68.1h.01M30.7,71.0h.01M29.7,71.3h.01M28.2,67.4h.01M29.7,66.8h.01" stroke="#5c3084" stroke-opacity="0.55" stroke-width="0.9" stroke-linecap="round" fill="none"/>
<path d="M136,46 Q139.0,41.0 142,36" stroke="#a858ae" stroke-width="7" stroke-linecap="round" fill="none" stroke-opacity="0.8"/>
<path d="M142.7,41.0h.01M143.3,38.7h.01M139.1,34.5h.01M143.7,37.8h.01M134.0,43.3h.01M140.8,37.8h.01M137.2,43.9h.01M143.4,39.6h.01M140.2,43.4h.01M138.9,39.1h.01M143.1,38.0h.01M138.9,38.8h.01M138.6,36.7h.01M135.2,45.0h.01M140.8,40.7h.01M143.1,36.7h.01M136.1,40.4h.01" stroke="#5c3084" stroke-opacity="0.55" stroke-width="0.9" stroke-linecap="round" fill="none"/>
<path d="M70,102 L100,96.5 L143.4,89 L143.4,102 Z" fill="#f08cc0"/>
<path d="M100,6 q6,-5 14,-6 M70,17 q4,-3 8,-1 M122,14 q8,-6 20,-5" stroke="#b888cc" stroke-width="1.6" stroke-opacity="0.6" fill="none"/><path d="M0,40 q20,-4 40,-12 q12,-6 22,-6 q6,4 11,5 q8,-8 30,-9 l40,-1" stroke="#b48cd0" stroke-width="1.4" stroke-opacity="0.55" fill="none" transform="translate(0,-2.5)"/>
<path d="M0.0,42.7 C1.3,42.6 5.0,42.5 8.0,42.0 C11.0,41.5 14.3,40.3 18.0,39.4 C21.7,38.5 26.4,37.6 30.0,36.5 C33.6,35.4 36.6,34.0 39.9,32.8 C43.2,31.5 46.4,30.1 50.0,29.0 C53.6,27.9 58.7,26.3 61.7,26.3 C64.7,26.3 66.2,28.1 68.0,29.0 C69.8,29.9 70.7,31.7 72.7,31.5 C74.7,31.3 77.5,29.2 80.0,28.0 C82.5,26.8 85.3,24.9 88.0,24.0 C90.7,23.1 93.1,22.7 96.0,22.5 C98.9,22.3 102.2,23.0 105.5,23.0 C108.8,23.0 112.3,22.7 116.0,22.5 C119.7,22.3 124.2,22.1 127.4,21.9 C130.6,21.7 132.5,21.5 135.0,21.5 C137.5,21.5 141.2,21.8 142.4,21.9 L143.2,30.1 L141.2,28.7 L139.1,29.8 L137.1,28.7 L135.0,27.6 L133.0,29.2 L130.9,28.1 L128.9,27.7 L126.8,30.7 L124.8,27.3 L122.7,30.8 L120.7,31.6 L118.7,31.7 L116.6,27.6 L114.6,30.6 L112.5,30.9 L110.5,30.4 L108.4,30.4 L106.4,31.1 L104.3,29.2 L102.3,30.9 L100.2,31.3 L98.2,28.6 L96.1,29.0 L94.1,28.9 L92.1,31.8 L90.0,31.9 L88.0,29.8 L85.9,34.3 L83.9,34.7 L81.8,32.1 L79.8,33.9 L77.7,34.9 L75.7,38.5 L73.6,36.1 L71.6,35.9 L69.6,37.9 L67.5,35.5 L65.5,36.0 L63.4,36.3 L61.4,33.6 L59.3,35.0 L57.3,33.7 L55.2,34.4 L53.2,36.1 L51.1,34.0 L49.1,37.5 L47.1,37.3 L45.0,36.0 L43.0,37.4 L40.9,38.8 L38.9,38.8 L36.8,40.7 L34.8,40.9 L32.7,43.2 L30.7,45.2 L28.6,46.3 L26.6,46.5 L24.5,43.8 L22.5,47.8 L20.5,47.3 L18.4,46.8 L16.4,46.5 L14.3,46.0 L12.3,46.1 L10.2,49.7 L8.2,51.2 L6.1,49.3 L4.1,51.6 L2.0,49.1 L0.0,49.1 Z" fill="#a84ca6"/>
<path d="M0.0,43.1 C1.3,43.0 5.0,43.0 8.0,42.4 C11.0,41.8 14.3,40.7 18.0,39.8 C21.7,38.9 26.4,38.0 30.0,36.9 C33.6,35.8 36.6,34.4 39.9,33.2 C43.2,31.9 46.4,30.5 50.0,29.4 C53.6,28.3 58.7,26.7 61.7,26.7 C64.7,26.7 66.2,28.5 68.0,29.4 C69.8,30.3 70.7,32.1 72.7,31.9 C74.7,31.7 77.5,29.6 80.0,28.4 C82.5,27.1 85.3,25.3 88.0,24.4 C90.7,23.5 93.1,23.1 96.0,22.9 C98.9,22.7 102.2,23.4 105.5,23.4 C108.8,23.4 112.3,23.1 116.0,22.9 C119.7,22.7 124.2,22.5 127.4,22.3 C130.6,22.1 132.5,21.9 135.0,21.9 C137.5,21.9 141.2,22.2 142.4,22.3" stroke="#b04090" stroke-width="0.9" stroke-opacity="0.8" fill="none"/>
<path d="M103.3,72.5h.01M46.3,68.2h.01M46.2,69.9h.01M36.8,65.0h.01M20.0,71.8h.01M40.1,60.9h.01M0.2,58.0h.01M71.0,65.4h.01M130.7,68.3h.01M45.7,65.0h.01M54.6,63.7h.01M55.5,33.4h.01M8.8,51.8h.01M101.3,50.2h.01M120.6,55.6h.01M97.9,59.3h.01M16.7,78.1h.01M46.2,32.4h.01M31.2,51.0h.01M58.2,43.3h.01M114.2,37.9h.01M37.4,50.4h.01M126.6,69.9h.01M12.5,76.9h.01M60.3,46.3h.01M124.2,66.1h.01M113.7,35.4h.01M58.6,52.0h.01M106.3,25.1h.01M24.5,63.0h.01M81.7,55.3h.01M12.2,52.8h.01M29.4,66.0h.01M118.7,52.9h.01M34.4,66.8h.01M68.2,42.6h.01M56.0,49.0h.01M87.6,54.7h.01M0.1,55.1h.01M111.3,44.3h.01M54.1,37.6h.01M80.0,58.6h.01M116.0,28.9h.01M67.5,43.4h.01M8.7,68.6h.01M139.2,23.2h.01M12.8,42.3h.01M96.2,57.9h.01M118.6,33.9h.01M94.0,33.2h.01M105.2,73.7h.01M4.2,65.3h.01M118.3,55.0h.01M100.3,63.7h.01M139.9,38.3h.01M136.2,22.9h.01M73.2,58.0h.01M130.4,67.8h.01M29.4,62.6h.01M96.9,52.9h.01M5.4,78.7h.01M53.0,66.4h.01M118.0,31.8h.01M1.2,71.5h.01M105.0,40.9h.01M117.6,24.0h.01M76.3,70.7h.01M125.3,71.7h.01M137.5,40.5h.01M82.7,44.5h.01M15.5,66.1h.01M119.4,53.2h.01M12.5,70.9h.01M121.8,31.6h.01M69.3,38.1h.01M6.6,45.6h.01M117.4,25.3h.01M142.6,40.1h.01M76.8,38.9h.01M73.8,74.5h.01M34.3,69.6h.01M50.3,47.7h.01M79.8,60.7h.01M18.9,40.4h.01M29.9,74.7h.01M85.7,37.0h.01M79.0,39.2h.01M106.8,27.9h.01M43.3,52.6h.01M137.1,36.8h.01M40.4,45.0h.01M46.0,74.6h.01M40.9,51.1h.01M140.9,69.2h.01M1.1,59.1h.01M82.7,65.5h.01M18.3,54.3h.01M131.7,70.9h.01M4.5,78.7h.01M35.0,52.5h.01M12.9,56.8h.01M26.8,47.2h.01M43.2,36.3h.01M38.3,41.8h.01M41.8,73.0h.01M9.5,52.5h.01M11.0,64.4h.01M36.1,56.2h.01M89.3,58.5h.01M126.9,49.2h.01M142.5,23.9h.01M15.2,56.3h.01M12.8,49.6h.01M90.2,65.9h.01M57.8,38.0h.01M139.7,54.5h.01M52.2,49.3h.01M38.5,48.9h.01M78.7,70.4h.01M125.9,27.0h.01M8.7,78.8h.01M63.1,73.7h.01M32.7,65.5h.01M65.7,35.3h.01M21.5,43.1h.01M0.0,78.6h.01M48.5,77.0h.01M120.6,68.1h.01M18.5,61.0h.01M12.1,53.3h.01M79.7,66.0h.01M120.0,35.1h.01M86.3,51.0h.01M65.3,71.5h.01M129.6,46.9h.01" stroke="#5c3084" stroke-opacity="0.8" stroke-width="0.9" stroke-linecap="round" fill="none"/>
<path d="M30.1,69.0h.01M104.3,37.6h.01M79.1,55.1h.01M32.2,78.7h.01M105.3,43.6h.01M69.3,39.9h.01M83.4,64.6h.01M63.3,72.7h.01M25.4,48.2h.01M128.3,47.9h.01M6.8,51.3h.01M26.5,39.8h.01M86.5,46.5h.01M116.4,52.5h.01M84.8,36.2h.01M13.7,52.8h.01M136.2,44.1h.01M138.2,52.0h.01M64.6,58.7h.01M21.7,41.8h.01M99.8,68.4h.01M16.7,53.8h.01M112.8,30.6h.01M83.0,73.3h.01M98.3,33.9h.01M29.1,43.4h.01M11.0,63.0h.01M135.8,45.6h.01M94.7,24.1h.01M82.4,35.4h.01M100.3,31.3h.01M115.5,52.7h.01M57.1,48.9h.01M57.5,75.3h.01M118.6,52.2h.01M131.7,23.2h.01M115.7,68.4h.01M30.0,75.4h.01M32.7,70.5h.01M22.0,56.7h.01M114.5,42.6h.01M12.7,52.7h.01M76.4,42.9h.01M40.4,73.5h.01M100.1,69.7h.01M26.8,73.1h.01M108.0,61.2h.01M121.4,48.4h.01M44.3,75.9h.01M8.4,75.4h.01M13.2,70.8h.01M77.0,51.8h.01M95.9,68.6h.01M87.9,55.7h.01M37.7,62.3h.01M52.3,56.0h.01M12.6,76.1h.01M46.1,38.1h.01M101.5,49.1h.01M124.3,44.0h.01M70.9,37.1h.01M5.2,57.9h.01M51.3,75.3h.01M55.6,57.8h.01M125.2,41.8h.01M41.6,34.0h.01M22.1,61.6h.01M100.3,56.7h.01M123.8,28.3h.01M90.0,28.6h.01M112.0,30.1h.01M57.9,51.5h.01M108.2,48.0h.01M86.9,50.1h.01M11.2,73.8h.01M101.9,45.4h.01M90.3,33.4h.01M61.6,40.6h.01M93.3,35.7h.01M120.6,51.0h.01M113.3,49.7h.01M98.1,72.4h.01M112.0,30.6h.01M49.2,72.4h.01M25.2,75.7h.01M56.0,38.9h.01M61.6,37.2h.01M127.9,27.6h.01M138.1,69.6h.01M95.8,61.3h.01M9.8,62.0h.01M91.3,29.7h.01M104.9,35.3h.01M135.1,25.5h.01M115.2,55.5h.01M53.8,49.8h.01M108.1,42.2h.01M47.2,56.1h.01M63.5,68.3h.01M37.5,57.0h.01M108.6,23.9h.01M33.8,54.1h.01M10.8,62.2h.01M136.4,34.6h.01M4.6,79.7h.01M119.8,99.1h.01M71.5,76.7h.01M0.7,86.6h.01M82.1,76.5h.01M58.6,96.2h.01M69.6,91.7h.01M122.8,77.4h.01M18.6,99.7h.01M58.1,76.0h.01M55.0,88.9h.01M46.8,78.3h.01M33.4,95.9h.01M88.4,91.5h.01M113.9,84.2h.01M7.3,86.2h.01M124.3,95.7h.01M97.8,101.0h.01M19.8,80.5h.01M46.6,82.2h.01M124.5,92.5h.01M84.1,89.3h.01M120.4,88.4h.01M63.6,90.3h.01M77.1,88.0h.01M113.9,82.0h.01M76.7,90.9h.01M126.8,72.0h.01M103.4,93.4h.01M90.8,99.3h.01M68.2,90.7h.01" stroke="#5c3084" stroke-opacity="0.8" stroke-width="1.25" stroke-linecap="round" fill="none"/>
<path d="M0.0,42.7 C1.3,42.6 5.0,42.5 8.0,42.0 C11.0,41.5 14.3,40.3 18.0,39.4 C21.7,38.5 26.4,37.6 30.0,36.5 C33.6,35.4 36.6,34.0 39.9,32.8 C43.2,31.5 46.4,30.1 50.0,29.0 C53.6,27.9 58.7,26.3 61.7,26.3 C64.7,26.3 66.2,28.1 68.0,29.0 C69.8,29.9 70.7,31.7 72.7,31.5 C74.7,31.3 77.5,29.2 80.0,28.0 C82.5,26.8 85.3,24.9 88.0,24.0 C90.7,23.1 93.1,22.7 96.0,22.5 C98.9,22.3 102.2,23.0 105.5,23.0 C108.8,23.0 112.3,22.7 116.0,22.5 C119.7,22.3 124.2,22.1 127.4,21.9 C130.6,21.7 132.5,21.5 135.0,21.5 C137.5,21.5 141.2,21.8 142.4,21.9 L142.4,71.0 L120.0,73.5 L100.0,74.0 L80.0,75.5 L61.7,76.0 L40.0,78.0 L20.0,80.0 L0.0,81.0 Z" fill="#fff" filter="url(#grain)" opacity="0.6"/>
<path d="M0.0,79.0 C3.3,78.8 13.3,78.5 20.0,78.0 C26.7,77.5 33.0,76.7 40.0,76.0 C47.0,75.3 55.0,74.4 61.7,74.0 C68.4,73.6 73.6,73.8 80.0,73.5 C86.4,73.2 93.3,72.3 100.0,72.0 C106.7,71.7 112.9,72.0 120.0,71.5 C127.1,71.0 138.7,69.4 142.4,69.0 L143.2,101.6 L0,101.6 Z" fill="#fff" filter="url(#grain)" opacity="0.11"/>
<path d="M0.0,42.7 C1.3,42.6 5.0,42.5 8.0,42.0 C11.0,41.5 14.3,40.3 18.0,39.4 C21.7,38.5 26.4,37.6 30.0,36.5 C33.6,35.4 36.6,34.0 39.9,32.8 C43.2,31.5 46.4,30.1 50.0,29.0 C53.6,27.9 58.7,26.3 61.7,26.3 C64.7,26.3 66.2,28.1 68.0,29.0 C69.8,29.9 70.7,31.7 72.7,31.5 C74.7,31.3 77.5,29.2 80.0,28.0 C82.5,26.8 85.3,24.9 88.0,24.0 C90.7,23.1 93.1,22.7 96.0,22.5 C98.9,22.3 102.2,23.0 105.5,23.0 C108.8,23.0 112.3,22.7 116.0,22.5 C119.7,22.3 124.2,22.1 127.4,21.9 C130.6,21.7 132.5,21.5 135.0,21.5 C137.5,21.5 141.2,21.8 142.4,21.9 L143.2,101.6 L0,101.6 Z" fill="#fff" filter="url(#grainw)" opacity="0.3"/>
</g>
<rect x="125.1" y="92.8" width="11.2" height="1.2" fill="#222"/>
<text x="130.7" y="97.1" text-anchor="middle" font-family='"Liberation Sans", sans-serif' font-weight="bold" font-size="3.3" fill="#222">100 μm</text>
</g>
<text x="123.9" y="602.7" text-anchor="middle" font-family='"Liberation Serif", serif' font-size="12.7" fill="#000">DAG-1 50 mg/kg</text>
<clipPath id="hc4"><rect x="0" y="0" width="143.2" height="101.3"/></clipPath>
<g transform="translate(46.9,607.4)" clip-path="url(#hc4)">
<rect x="0" y="0" width="143.2" height="101.3" fill="#eeecef"/>
<g filter="url(#soft)">
<path d="M58.5,7.1q5.4,-1.3 6.1,-1.9M16.7,12.5q2.6,0.1 9.9,0.8M54.2,8.7q4.8,-0.7 5.4,1.4M88.4,10.1q2.3,-1.6 9.8,-1.6M89.5,5.8q2.1,-0.5 7.4,1.7M27.0,8.5q3.0,-1.8 8.4,1.3M62.5,6.6q4.9,0.9 8.3,-0.7M118.9,5.2q4.4,0.2 6.2,-0.2M113.7,5.0q3.4,1.3 9.2,-1.8M22.5,9.7q2.1,1.0 8.2,0.2M142.4,13.8q2.8,-1.6 6.7,1.4M86.9,10.9q3.7,-1.8 8.1,-1.5M25.7,7.1q5.3,0.5 6.5,0.6M39.0,6.1q3.1,0.8 8.1,-1.2M120.4,4.0q3.1,1.8 6.3,-1.7M73.4,1.5q4.4,0.2 7.4,-0.9" stroke="#a856ae" stroke-opacity="0.3" stroke-width="0.6" fill="none"/>
<path d="M0.0,16.4 C0.7,16.0 2.5,14.2 4.0,14.0 C5.5,13.8 7.5,15.6 9.0,15.5 C10.5,15.4 11.5,13.7 13.0,13.5 C14.5,13.3 16.3,14.4 18.0,14.2 C19.7,13.9 21.3,12.5 23.0,12.0 C24.7,11.5 26.5,11.7 28.0,11.0 C29.5,10.3 30.8,8.6 32.0,8.0 C33.2,7.4 33.7,7.5 35.0,7.5 C36.3,7.5 38.6,7.5 39.9,7.7 C41.2,7.9 42.0,7.8 43.0,8.5 C44.0,9.2 44.7,11.1 46.0,12.0 C47.3,12.9 49.5,14.2 50.8,14.2 C52.1,14.2 52.8,12.4 54.0,12.0 C55.2,11.6 56.8,12.1 58.0,11.5 C59.2,10.9 60.0,9.1 61.0,8.5 C62.0,7.9 63.0,8.4 64.0,8.0 C65.0,7.6 65.9,6.4 67.0,6.2 C68.1,6.0 69.3,6.5 70.5,6.6 C71.7,6.7 73.1,6.8 74.0,7.0 C74.9,7.2 75.2,6.5 76.0,8.0 C76.8,9.5 78.1,14.4 79.0,16.0 C79.9,17.6 80.7,17.8 81.5,17.5 C82.3,17.2 83.2,14.8 84.0,14.0 C84.8,13.2 85.0,13.4 86.0,13.0 C87.0,12.6 88.6,11.7 90.0,11.5 C91.4,11.3 92.9,12.2 94.6,12.0 C96.3,11.8 98.3,10.2 100.0,10.0 C101.7,9.8 103.3,10.7 105.0,10.5 C106.7,10.3 108.2,9.1 110.0,9.0 C111.8,8.9 114.0,10.0 116.0,10.0 C118.0,10.0 120.1,9.0 122.0,9.0 C123.9,9.0 125.4,9.2 127.4,9.9 C129.4,10.6 132.1,12.3 134.0,13.0 C135.9,13.7 137.5,13.2 139.0,14.0 C140.5,14.8 142.5,16.9 143.2,17.5 L143.2,101.3 L0,101.3 Z" fill="#eb9eca"/>
<path d="M0.0,24.8 C0.7,24.4 2.5,22.5 4.0,22.4 C5.5,22.2 7.5,24.0 9.0,23.9 C10.5,23.8 11.5,22.1 13.0,21.9 C14.5,21.7 16.3,22.9 18.0,22.6 C19.7,22.4 21.3,20.9 23.0,20.4 C24.7,19.9 26.5,20.1 28.0,19.4 C29.5,18.7 30.8,17.0 32.0,16.4 C33.2,15.8 33.7,15.9 35.0,15.9 C36.3,15.9 38.6,15.9 39.9,16.1 C41.2,16.3 42.0,16.2 43.0,16.9 C44.0,17.6 44.7,19.4 46.0,20.4 C47.3,21.3 49.5,22.6 50.8,22.6 C52.1,22.6 52.8,20.8 54.0,20.4 C55.2,19.9 56.8,20.5 58.0,19.9 C59.2,19.3 60.0,17.5 61.0,16.9 C62.0,16.3 63.0,16.8 64.0,16.4 C65.0,16.0 65.9,14.8 67.0,14.6 C68.1,14.4 69.3,14.9 70.5,15.0 C71.7,15.1 73.1,15.2 74.0,15.4 C74.9,15.6 75.2,14.9 76.0,16.4 C76.8,17.9 78.1,22.8 79.0,24.4 C79.9,26.0 80.7,26.2 81.5,25.9 C82.3,25.6 83.2,23.1 84.0,22.4 C84.8,21.6 85.0,21.8 86.0,21.4 C87.0,21.0 88.6,20.1 90.0,19.9 C91.4,19.7 92.9,20.6 94.6,20.4 C96.3,20.1 98.3,18.6 100.0,18.4 C101.7,18.1 103.3,19.1 105.0,18.9 C106.7,18.7 108.2,17.5 110.0,17.4 C111.8,17.3 114.0,18.4 116.0,18.4 C118.0,18.4 120.1,17.4 122.0,17.4 C123.9,17.4 125.4,17.6 127.4,18.3 C129.4,19.0 132.1,20.7 134.0,21.4 C135.9,22.1 137.5,21.6 139.0,22.4 C140.5,23.1 142.5,25.3 143.2,25.9" stroke="#e082b8" stroke-width="9" stroke-opacity="0.3" fill="none"/>
<path d="M36.6,35.5a7.3,3.1 -29 1,0 12.7,-7.0a7.3,3.1 -29 1,0 -12.7,7.0zM86.7,22.9a8.1,2.1 -24 1,0 14.9,-6.5a8.1,2.1 -24 1,0 -14.9,6.5zM28.3,52.0a7.4,2.0 -29 1,0 13.0,-7.2a7.4,2.0 -29 1,0 -13.0,7.2zM11.7,68.6a5.0,3.0 -28 1,0 8.9,-4.7a5.0,3.0 -28 1,0 -8.9,4.7zM45.6,43.4a13.7,2.7 -24 1,0 25.0,-11.1a13.7,2.7 -24 1,0 -25.0,11.1zM54.5,49.4a7.2,1.7 -17 1,0 13.9,-4.2a7.2,1.7 -17 1,0 -13.9,4.2zM15.2,32.0a6.5,3.1 -18 1,0 12.3,-3.9a6.5,3.1 -18 1,0 -12.3,3.9zM57.6,25.9a12.1,2.6 -22 1,0 22.4,-9.2a12.1,2.6 -22 1,0 -22.4,9.2zM120.2,46.8a6.0,2.6 -22 1,0 11.1,-4.6a6.0,2.6 -22 1,0 -11.1,4.6zM-6.7,35.9a14.0,2.3 -25 1,0 25.3,-11.9a14.0,2.3 -25 1,0 -25.3,11.9zM127.2,25.7a9.0,1.3 -28 1,0 15.8,-8.4a9.0,1.3 -28 1,0 -15.8,8.4zM101.3,51.1a9.9,2.1 -28 1,0 17.4,-9.3a9.9,2.1 -28 1,0 -17.4,9.3z" fill="#f8dcec" fill-opacity="0.55"/>
<path d="M30.4,45.1a9.8,2.9 -26 1,0 17.7,-8.5a9.8,2.9 -26 1,0 -17.7,8.5zM8.2,70.8a13.3,1.9 -28 1,0 23.6,-12.5a13.3,1.9 -28 1,0 -23.6,12.5zM92.7,41.7a6.3,3.2 -27 1,0 11.2,-5.8a6.3,3.2 -27 1,0 -11.2,5.8zM41.7,19.6a6.5,2.3 -20 1,0 12.2,-4.5a6.5,2.3 -20 1,0 -12.2,4.5zM73.6,32.3a10.8,1.5 -22 1,0 19.9,-8.2a10.8,1.5 -22 1,0 -19.9,8.2zM93.1,21.7a7.7,1.5 -17 1,0 14.7,-4.6a7.7,1.5 -17 1,0 -14.7,4.6zM81.2,51.2a10.7,3.1 -19 1,0 20.2,-7.2a10.7,3.1 -19 1,0 -20.2,7.2zM37.9,49.4a12.2,2.2 -27 1,0 21.6,-11.2a12.2,2.2 -27 1,0 -21.6,11.2z" fill="#f4c4e0" fill-opacity="0.55"/>
<path d="M3.7,25.9a7.8,1.5 -20 1,0 14.6,-5.3a7.8,1.5 -20 1,0 -14.6,5.3zM122.4,58.0a10.3,1.8 -25 1,0 18.8,-8.7a10.3,1.8 -25 1,0 -18.8,8.7zM87.5,59.9a6.9,1.6 -29 1,0 11.9,-6.7a6.9,1.6 -29 1,0 -11.9,6.7zM11.0,28.4a13.3,1.5 -16 1,0 25.6,-7.5a13.3,1.5 -16 1,0 -25.6,7.5zM53.7,51.3a10.9,2.7 -25 1,0 19.7,-9.3a10.9,2.7 -25 1,0 -19.7,9.3zM27.8,14.6a5.5,1.2 -15 1,0 10.6,-2.8a5.5,1.2 -15 1,0 -10.6,2.8z" fill="#e082b8" fill-opacity="0.55"/>
<path d="M123.3,56.9q4.4,-2.0 8.9,-5.4M114.6,69.6q4.1,-1.8 8.3,-2.9M57.5,40.1q4.3,-3.0 8.7,-4.9M100.7,50.1q7.0,-3.5 14.0,-6.8M33.4,50.1q6.5,-4.9 12.9,-7.9M-1.9,35.2q4.8,-2.2 9.6,-4.7M30.3,58.3q3.9,-1.6 7.7,-2.5M118.3,51.1q5.8,-1.9 11.7,-3.9M123.2,50.5q5.8,-2.3 11.7,-3.2M139.8,64.3q2.8,-1.8 5.7,-3.3M114.4,57.9q6.0,-2.4 12.0,-5.3M106.0,59.3q4.4,-1.3 8.7,-3.9M22.4,34.4q4.5,-1.3 9.0,-2.4M51.7,27.7q3.3,-1.7 6.5,-1.7M17.3,67.5q5.4,-2.5 10.7,-3.0M46.4,44.0q4.2,-0.6 8.4,-2.1M34.3,53.0q4.1,-2.8 8.3,-5.1M99.9,41.1q4.9,-3.9 9.8,-6.1M35.5,12.6q6.3,-1.1 12.6,-2.8M97.2,22.7q2.7,-0.7 5.3,-1.3M39.7,55.8q7.0,-4.6 14.0,-7.2M15.0,63.0q3.3,-2.3 6.7,-3.3" stroke="#f8dcec" stroke-width="0.6" stroke-opacity="0.75" fill="none"/>
<path d="M77.7,18.8q6.9,-2.4 13.9,-5.0M86.1,58.5q4.6,-3.1 9.2,-4.8M124.7,43.2q7.1,-3.1 14.1,-5.3M76.5,13.4q4.6,-2.8 9.2,-4.2M54.0,37.0q3.9,-1.9 7.9,-4.2M140.3,44.3q3.3,-0.7 6.5,-1.9M65.4,18.7q3.8,-1.7 7.7,-3.3M35.5,19.8q6.0,-2.2 11.9,-6.0M24.8,38.3q5.4,-2.3 10.9,-6.4M39.6,19.8q4.2,-1.5 8.4,-4.2M81.1,41.3q4.7,-2.3 9.5,-4.6M143.0,23.1q6.8,-4.0 13.6,-6.4M24.6,25.8q3.1,-0.6 6.1,-1.7M128.9,18.1q4.7,-1.3 9.4,-3.8M88.6,36.8q6.0,-1.8 12.0,-5.2M86.9,42.5q2.7,-0.7 5.4,-3.1" stroke="#f4c4e0" stroke-width="1.1" stroke-opacity="0.75" fill="none"/>
<path d="M3.0,42.7q6.6,-2.5 13.1,-5.2M-3.9,46.6q4.4,-1.4 8.8,-3.7M141.9,69.2q5.0,-0.9 10.0,-3.3M32.7,11.5q3.8,-1.3 7.5,-4.5M74.6,39.3q5.9,-2.8 11.9,-5.5M102.0,61.4q5.6,-1.1 11.2,-3.9M114.4,68.2q6.8,-1.9 13.5,-3.9M76.1,47.0q5.5,-3.2 11.0,-5.9M41.5,58.3q3.4,-1.6 6.7,-3.0M10.0,50.9q2.2,-1.5 4.4,-2.6M127.0,74.5q7.2,-3.3 14.4,-4.7M-0.4,23.7q5.0,-2.7 9.9,-5.3" stroke="#f4c4e0" stroke-width="0.6" stroke-opacity="0.75" fill="none"/>
<path d="M11.7,44.1q6.7,-4.0 13.4,-7.1M131.8,48.3q4.4,-2.6 8.7,-3.5M52.8,40.1q3.5,-1.0 6.9,-3.7M40.6,12.5q3.2,-1.5 6.4,-2.8M109.8,53.5q3.4,-0.4 6.8,-2.2M77.0,29.9q2.3,-1.3 4.6,-2.5M2.1,30.5q3.6,-1.2 7.2,-3.3M37.7,32.3q6.7,-2.8 13.5,-7.4M16.5,58.9q2.3,-2.4 4.6,-2.8M57.1,50.2q4.4,-1.7 8.9,-3.8M79.8,37.2q2.5,-0.8 4.9,-2.1M8.5,53.1q2.8,-0.6 5.6,-1.6M107.9,37.6q4.3,-0.6 8.6,-2.5M74.3,30.8q7.1,-2.5 14.1,-3.2M142.9,52.8q6.3,-1.3 12.6,-4.0M97.4,59.3q6.9,-3.1 13.8,-7.9M89.1,24.9q5.3,-2.6 10.5,-4.3M103.2,60.8q6.6,-3.6 13.2,-5.9M6.2,26.5q4.0,-1.3 8.1,-2.5M77.0,45.7q2.7,-1.5 5.5,-3.1M73.4,38.4q2.5,-1.8 5.0,-2.0" stroke="#f8dcec" stroke-width="1.1" stroke-opacity="0.75" fill="none"/>
<path d="M107.3,31.7q4.2,-1.5 8.4,-2.3M89.0,40.0q5.0,-2.2 10.0,-5.5M1.8,22.7q6.8,-3.1 13.5,-6.3M7.7,33.3q4.6,-1.6 9.1,-2.8M129.1,58.9q3.4,-1.7 6.8,-2.6M55.2,30.9q2.4,-0.6 4.7,-2.7M5.6,57.9q5.2,-2.3 10.5,-6.5M61.9,35.5q2.7,-1.0 5.4,-2.2M140.2,18.4q5.5,-1.8 10.9,-2.8M124.5,46.6q3.7,-1.4 7.3,-4.4" stroke="#e082b8" stroke-width="1.1" stroke-opacity="0.75" fill="none"/>
<path d="M138.9,25.5q2.8,-1.7 5.6,-1.8M94.3,26.7q6.5,-3.1 13.0,-4.9M107.0,60.4q7.0,-2.4 13.9,-5.6M90.2,18.1q4.2,-1.5 8.5,-1.9M45.3,14.2q5.6,-2.2 11.3,-4.3M78.2,47.9q4.8,-1.5 9.6,-3.3M81.8,39.6q6.0,-3.8 12.1,-6.2M47.4,29.5q2.6,0.0 5.2,-1.7M37.3,49.4q4.6,-1.8 9.2,-3.1" stroke="#e082b8" stroke-width="0.6" stroke-opacity="0.75" fill="none"/>
<clipPath id="fc4"><path d="M0.0,70.0 C2.5,69.7 10.0,68.7 15.0,68.0 C20.0,67.3 25.0,67.3 30.0,66.0 C35.0,64.7 40.8,62.3 45.0,60.0 C49.2,57.7 51.7,54.0 55.0,52.0 C58.3,50.0 61.7,48.3 65.0,48.0 C68.3,47.7 71.7,48.3 75.0,50.0 C78.3,51.7 81.7,55.2 85.0,58.0 C88.3,60.8 90.8,64.5 95.0,67.0 C99.2,69.5 105.0,71.5 110.0,73.0 C115.0,74.5 119.5,75.7 125.0,76.0 C130.5,76.3 140.2,75.2 143.2,75.0 L143.2,101.3 L0,101.3 Z"/></clipPath>
<g clip-path="url(#fc4)">
<rect x="0" y="0" width="143.2" height="101.3" fill="#f2eff3"/>
<path d="M-21.1,35.5a6.9,6.1 3 1,0 13.7,0.7a6.9,6.1 3 1,0 -13.7,-0.7zM5.6,34.0a7.2,6.5 5 1,0 14.3,1.2a7.2,6.5 5 1,0 -14.3,-1.2zM19.8,35.7a7.6,6.3 1 1,0 15.1,0.2a7.6,6.3 1 1,0 -15.1,-0.2zM32.7,33.9a7.7,6.4 16 1,0 14.9,4.3a7.7,6.4 16 1,0 -14.9,-4.3zM60.8,35.6a8.0,6.6 -14 1,0 15.6,-3.7a8.0,6.6 -14 1,0 -15.6,3.7zM87.5,36.8a8.0,6.0 -4 1,0 15.9,-1.1a8.0,6.0 -4 1,0 -15.9,1.1zM115.4,35.5a6.9,5.7 -13 1,0 13.4,-3.2a6.9,5.7 -13 1,0 -13.4,3.2zM-1.4,46.0a7.1,6.2 -5 1,0 14.2,-1.3a7.1,6.2 -5 1,0 -14.2,1.3zM12.2,43.6a7.4,5.9 20 1,0 13.9,5.1a7.4,5.9 20 1,0 -13.9,-5.1zM38.3,42.8a7.6,6.1 30 1,0 13.2,7.5a7.6,6.1 30 1,0 -13.2,-7.5zM52.0,45.4a7.0,6.8 2 1,0 14.0,0.4a7.0,6.8 2 1,0 -14.0,-0.4zM65.1,44.5a7.1,6.7 15 1,0 13.8,3.6a7.1,6.7 15 1,0 -13.8,-3.6zM91.7,49.4a7.8,6.4 -30 1,0 13.5,-7.7a7.8,6.4 -30 1,0 -13.5,7.7zM117.4,45.7a7.3,5.9 5 1,0 14.6,1.3a7.3,5.9 5 1,0 -14.6,-1.3zM-21.0,59.7a7.2,6.9 -12 1,0 14.1,-3.1a7.2,6.9 -12 1,0 -14.1,3.1zM46.7,55.7a6.9,6.5 9 1,0 13.6,2.1a6.9,6.5 9 1,0 -13.6,-2.1zM13.9,70.9a6.9,6.9 -13 1,0 13.5,-3.1a6.9,6.9 -13 1,0 -13.5,3.1zM42.5,73.5a7.9,5.8 -27 1,0 14.0,-7.2a7.9,5.8 -27 1,0 -14.0,7.2zM55.2,72.8a7.9,6.5 -26 1,0 14.2,-6.8a7.9,6.5 -26 1,0 -14.2,6.8zM70.0,69.9a7.8,6.7 -2 1,0 15.6,-0.6a7.8,6.7 -2 1,0 -15.6,0.6zM83.7,66.4a7.3,5.7 12 1,0 14.3,3.1a7.3,5.7 12 1,0 -14.3,-3.1zM97.7,64.8a7.4,5.9 29 1,0 12.9,7.1a7.4,5.9 29 1,0 -12.9,-7.1zM110.2,69.9a6.8,5.7 -6 1,0 13.6,-1.4a6.8,5.7 -6 1,0 -13.6,1.4zM122.3,70.9a7.0,5.9 -21 1,0 13.1,-5.0a7.0,5.9 -21 1,0 -13.1,5.0zM-18.8,81.4a6.8,6.5 -2 1,0 13.6,-0.4a6.8,6.5 -2 1,0 -13.6,0.4zM20.5,78.0a8.0,6.7 22 1,0 14.7,6.1a8.0,6.7 22 1,0 -14.7,-6.1zM33.4,76.5a7.6,6.7 23 1,0 14.0,6.1a7.6,6.7 23 1,0 -14.0,-6.1zM48.9,76.8a6.9,5.7 16 1,0 13.3,3.9a6.9,5.7 16 1,0 -13.3,-3.9zM74.3,78.0a7.5,6.6 24 1,0 13.7,6.1a7.5,6.6 24 1,0 -13.7,-6.1zM142.4,83.1a7.4,6.7 -28 1,0 13.0,-6.9a7.4,6.7 -28 1,0 -13.0,6.9zM-13.3,92.5a7.0,5.8 -15 1,0 13.5,-3.7a7.0,5.8 -15 1,0 -13.5,3.7zM15.3,92.3a7.7,6.5 -13 1,0 14.9,-3.6a7.7,6.5 -13 1,0 -14.9,3.6zM40.9,94.1a7.0,6.7 -16 1,0 13.6,-3.8a7.0,6.7 -16 1,0 -13.6,3.8zM81.6,93.5a7.5,7.0 -18 1,0 14.3,-4.6a7.5,7.0 -18 1,0 -14.3,4.6zM95.9,88.7a6.8,5.7 21 1,0 12.7,4.9a6.8,5.7 21 1,0 -12.7,-4.9zM110.4,87.4a6.9,6.8 27 1,0 12.4,6.2a6.9,6.8 27 1,0 -12.4,-6.2zM123.0,93.4a7.5,6.9 -23 1,0 13.7,-5.9a7.5,6.9 -23 1,0 -13.7,5.9zM136.0,94.6a7.6,6.6 -17 1,0 14.5,-4.5a7.6,6.6 -17 1,0 -14.5,4.5zM7.9,98.9a7.1,6.5 23 1,0 13.0,5.7a7.1,6.5 23 1,0 -13.0,-5.7zM20.3,97.4a8.1,6.6 28 1,0 14.2,7.6a8.1,6.6 28 1,0 -14.2,-7.6zM33.8,102.7a7.6,5.9 3 1,0 15.2,0.7a7.6,5.9 3 1,0 -15.2,-0.7zM45.2,104.2a8.0,5.8 -10 1,0 15.7,-2.8a8.0,5.8 -10 1,0 -15.7,2.8zM87.5,105.7a6.8,6.1 -29 1,0 11.8,-6.7a6.8,6.1 -29 1,0 -11.8,6.7zM111.8,100.1a7.4,6.9 12 1,0 14.5,3.0a7.4,6.9 12 1,0 -14.5,-3.0zM126.4,104.4a7.8,6.8 -20 1,0 14.7,-5.4a7.8,6.8 -20 1,0 -14.7,5.4zM139.1,103.7a7.7,5.9 -21 1,0 14.4,-5.6a7.7,5.9 -21 1,0 -14.4,5.6zM-13.0,114.7a7.5,5.8 -6 1,0 14.9,-1.4a7.5,5.8 -6 1,0 -14.9,1.4zM41.7,110.7a7.2,6.8 29 1,0 12.7,6.9a7.2,6.8 29 1,0 -12.7,-6.9zM66.9,113.7a7.7,6.1 0 1,0 15.4,0.1a7.7,6.1 0 1,0 -15.4,-0.1zM96.0,110.1a7.9,6.1 27 1,0 14.0,7.1a7.9,6.1 27 1,0 -14.0,-7.1zM109.5,116.5a7.1,6.2 -24 1,0 13.0,-5.8a7.1,6.2 -24 1,0 -13.0,5.8zM121.7,109.4a7.5,5.9 18 1,0 14.2,4.7a7.5,5.9 18 1,0 -14.2,-4.7zM136.4,110.9a7.3,6.6 24 1,0 13.3,5.9a7.3,6.6 24 1,0 -13.3,-5.9z" fill="none" stroke="#ea9ec8" stroke-width="0.60" stroke-opacity="0.8"/>
<path d="M-6.7,33.8a6.9,6.2 22 1,0 12.8,5.2a6.9,6.2 22 1,0 -12.8,-5.2zM46.1,37.0a7.0,5.9 -14 1,0 13.6,-3.3a7.0,5.9 -14 1,0 -13.6,3.3zM73.2,38.4a7.3,6.3 -20 1,0 13.7,-5.1a7.3,6.3 -20 1,0 -13.7,5.1zM100.7,37.6a7.7,7.0 -8 1,0 15.3,-2.2a7.7,7.0 -8 1,0 -15.3,2.2zM128.7,31.1a7.3,6.5 29 1,0 12.8,7.1a7.3,6.5 29 1,0 -12.8,-7.1zM141.2,36.7a7.2,6.0 -10 1,0 14.2,-2.6a7.2,6.0 -10 1,0 -14.2,2.6zM-15.0,47.7a7.5,6.7 -18 1,0 14.2,-4.5a7.5,6.7 -18 1,0 -14.2,4.5zM24.4,44.0a7.1,6.1 10 1,0 13.9,2.4a7.1,6.1 10 1,0 -13.9,-2.4zM78.1,45.6a8.0,6.3 -4 1,0 15.9,-1.1a8.0,6.3 -4 1,0 -15.9,1.1zM103.4,42.8a7.7,6.0 20 1,0 14.4,5.3a7.7,6.0 20 1,0 -14.4,-5.3zM131.7,43.2a7.2,6.3 22 1,0 13.3,5.4a7.2,6.3 22 1,0 -13.3,-5.4zM146.7,48.7a7.4,6.9 -20 1,0 14.0,-5.1a7.4,6.9 -20 1,0 -14.0,5.1zM-6.3,52.8a7.3,6.7 30 1,0 12.6,7.2a7.3,6.7 30 1,0 -12.6,-7.2zM8.7,60.8a7.2,7.0 -29 1,0 12.5,-7.0a7.2,7.0 -29 1,0 -12.5,7.0zM21.3,60.3a7.8,6.0 -23 1,0 14.4,-6.1a7.8,6.0 -23 1,0 -14.4,6.1zM34.9,58.9a7.1,6.9 -23 1,0 13.1,-5.5a7.1,6.9 -23 1,0 -13.1,5.5zM62.0,54.2a7.9,5.8 14 1,0 15.3,3.8a7.9,5.8 14 1,0 -15.3,-3.8zM75.8,60.6a7.1,6.4 -15 1,0 13.7,-3.8a7.1,6.4 -15 1,0 -13.7,3.8zM90.5,54.6a7.3,6.1 21 1,0 13.5,5.3a7.3,6.1 21 1,0 -13.5,-5.3zM102.0,56.9a7.9,6.2 8 1,0 15.6,2.2a7.9,6.2 8 1,0 -15.6,-2.2zM115.8,61.0a6.9,6.0 -19 1,0 13.0,-4.4a6.9,6.0 -19 1,0 -13.0,4.4zM129.5,59.9a7.7,6.6 -15 1,0 14.8,-4.1a7.7,6.6 -15 1,0 -14.8,4.1zM143.3,61.2a7.6,5.7 -28 1,0 13.5,-7.1a7.6,5.7 -28 1,0 -13.5,7.1zM-14.6,71.0a7.4,6.0 -18 1,0 14.0,-4.5a7.4,6.0 -18 1,0 -14.0,4.5zM0.5,70.2a7.8,6.6 -18 1,0 14.8,-4.7a7.8,6.6 -18 1,0 -14.8,4.7zM29.5,66.7a6.8,6.1 7 1,0 13.6,1.6a6.8,6.1 7 1,0 -13.6,-1.6zM135.0,67.5a7.8,6.0 -1 1,0 15.5,-0.2a7.8,6.0 -1 1,0 -15.5,0.2zM149.3,64.3a6.9,5.8 27 1,0 12.4,6.2a6.9,5.8 27 1,0 -12.4,-6.2zM-6.5,79.7a6.9,7.0 1 1,0 13.8,0.3a6.9,7.0 1 1,0 -13.8,-0.3zM6.8,79.1a7.1,6.1 1 1,0 14.1,0.4a7.1,6.1 1 1,0 -14.1,-0.4zM61.4,78.7a7.8,6.7 1 1,0 15.5,0.1a7.8,6.7 1 1,0 -15.5,-0.1zM87.1,75.2a7.3,6.2 25 1,0 13.3,6.1a7.3,6.2 25 1,0 -13.3,-6.1zM100.2,81.1a7.4,7.0 -2 1,0 14.9,-0.4a7.4,7.0 -2 1,0 -14.9,0.4zM113.8,83.4a7.5,6.3 -21 1,0 14.0,-5.2a7.5,6.3 -21 1,0 -14.0,5.2zM128.7,80.6a7.7,6.4 -15 1,0 14.9,-3.9a7.7,6.4 -15 1,0 -14.9,3.9zM0.4,91.5a7.8,6.1 -7 1,0 15.6,-1.8a7.8,6.1 -7 1,0 -15.6,1.8zM27.7,89.7a7.5,6.3 0 1,0 15.1,0.1a7.5,6.3 0 1,0 -15.1,-0.1zM55.4,92.9a7.2,6.8 -15 1,0 13.9,-3.8a7.2,6.8 -15 1,0 -13.9,3.8zM67.2,93.2a7.2,6.8 -9 1,0 14.3,-2.2a7.2,6.8 -9 1,0 -14.3,2.2zM147.6,93.0a7.2,5.8 -11 1,0 14.1,-2.7a7.2,5.8 -11 1,0 -14.1,2.7zM-21.8,100.2a7.5,6.8 3 1,0 15.0,0.8a7.5,6.8 3 1,0 -15.0,-0.8zM-5.9,104.1a7.1,6.7 -18 1,0 13.6,-4.3a7.1,6.7 -18 1,0 -13.6,4.3zM59.3,100.0a7.2,5.8 6 1,0 14.2,1.4a7.2,5.8 6 1,0 -14.2,-1.4zM74.2,100.9a7.0,6.9 -2 1,0 14.0,-0.5a7.0,6.9 -2 1,0 -14.0,0.5zM98.5,103.0a7.8,6.7 -1 1,0 15.6,-0.2a7.8,6.7 -1 1,0 -15.6,0.2zM-0.7,111.1a7.3,6.3 16 1,0 14.0,4.1a7.3,6.3 16 1,0 -14.0,-4.1zM14.3,113.9a7.6,5.8 0 1,0 15.1,0.1a7.6,5.8 0 1,0 -15.1,-0.1zM25.9,112.9a7.2,6.4 8 1,0 14.3,2.1a7.2,6.4 8 1,0 -14.3,-2.1zM54.2,115.0a7.9,6.2 -7 1,0 15.7,-1.8a7.9,6.2 -7 1,0 -15.7,1.8zM81.0,115.4a7.3,6.0 -17 1,0 13.9,-4.3a7.3,6.0 -17 1,0 -13.9,4.3z" fill="none" stroke="#ea9ec8" stroke-width="0.95" stroke-opacity="0.8"/>
<path d="M17.7,38.5a1.5,1.2 0 1,0 3.0,0.0a1.5,1.2 0 1,0 -3.0,-0.0zM101.2,39.9a1.4,1.2 0 1,0 2.7,0.0a1.4,1.2 0 1,0 -2.7,-0.0zM-3.5,49.5a2.3,1.5 0 1,0 4.6,0.0a2.3,1.5 0 1,0 -4.6,-0.0zM129.3,49.8a2.1,1.3 0 1,0 4.1,0.0a2.1,1.3 0 1,0 -4.1,-0.0zM18.9,61.5a2.5,1.5 0 1,0 5.0,0.0a2.5,1.5 0 1,0 -5.0,-0.0zM33.9,60.9a1.6,1.4 0 1,0 3.2,0.0a1.6,1.4 0 1,0 -3.2,-0.0zM102.8,60.9a1.0,1.1 0 1,0 2.1,0.0a1.0,1.1 0 1,0 -2.1,-0.0zM114.8,61.8a2.1,0.9 0 1,0 4.2,0.0a2.1,0.9 0 1,0 -4.2,-0.0zM142.4,61.9a1.5,1.6 0 1,0 2.9,0.0a1.5,1.6 0 1,0 -2.9,-0.0zM-2.3,72.4a1.3,1.0 0 1,0 2.6,0.0a1.3,1.0 0 1,0 -2.6,-0.0zM82.5,73.6a2.3,1.4 0 1,0 4.6,0.0a2.3,1.4 0 1,0 -4.6,-0.0zM132.6,71.9a2.6,1.4 0 1,0 5.2,0.0a2.6,1.4 0 1,0 -5.2,-0.0zM147.3,71.0a2.5,1.4 0 1,0 4.9,0.0a2.5,1.4 0 1,0 -4.9,-0.0zM-7.9,85.1a2.0,1.3 0 1,0 4.1,0.0a2.0,1.3 0 1,0 -4.1,-0.0zM45.6,83.6a1.6,0.9 0 1,0 3.3,0.0a1.6,0.9 0 1,0 -3.3,-0.0zM59.5,82.2a2.3,1.4 0 1,0 4.6,0.0a2.3,1.4 0 1,0 -4.6,-0.0zM125.8,84.5a1.7,1.1 0 1,0 3.4,0.0a1.7,1.1 0 1,0 -3.4,-0.0zM141.8,82.5a1.4,0.9 0 1,0 2.7,0.0a1.4,0.9 0 1,0 -2.7,-0.0zM154.3,83.7a1.3,1.0 0 1,0 2.5,0.0a1.3,1.0 0 1,0 -2.5,-0.0zM28.0,94.4a1.6,1.2 0 1,0 3.2,0.0a1.6,1.2 0 1,0 -3.2,-0.0zM40.6,93.6a1.4,1.4 0 1,0 2.8,0.0a1.4,1.4 0 1,0 -2.8,-0.0zM-9.0,104.7a1.4,1.2 0 1,0 2.9,0.0a1.4,1.2 0 1,0 -2.9,-0.0zM19.3,105.6a1.5,1.0 0 1,0 3.0,0.0a1.5,1.0 0 1,0 -3.0,-0.0zM70.4,104.2a2.4,1.5 0 1,0 4.9,0.0a2.4,1.5 0 1,0 -4.9,-0.0zM139.1,105.8a1.8,1.5 0 1,0 3.5,0.0a1.8,1.5 0 1,0 -3.5,-0.0zM151.1,104.4a2.1,1.4 0 1,0 4.1,0.0a2.1,1.4 0 1,0 -4.1,-0.0zM52.9,118.2a1.6,1.1 0 1,0 3.3,0.0a1.6,1.1 0 1,0 -3.3,-0.0zM66.7,117.8a2.4,1.6 0 1,0 4.9,0.0a2.4,1.6 0 1,0 -4.9,-0.0zM107.6,117.3a2.5,1.5 0 1,0 5.0,0.0a2.5,1.5 0 1,0 -5.0,-0.0zM133.9,115.3a1.5,1.4 0 1,0 3.1,0.0a1.5,1.4 0 1,0 -3.1,-0.0z" fill="#ea9ec8" fill-opacity="0.8"/>
<path d="M0.0,70.0 C2.5,69.7 10.0,68.7 15.0,68.0 C20.0,67.3 25.0,67.3 30.0,66.0 C35.0,64.7 40.8,62.3 45.0,60.0 C49.2,57.7 51.7,54.0 55.0,52.0 C58.3,50.0 61.7,48.3 65.0,48.0 C68.3,47.7 71.7,48.3 75.0,50.0 C78.3,51.7 81.7,55.2 85.0,58.0 C88.3,60.8 90.8,64.5 95.0,67.0 C99.2,69.5 105.0,71.5 110.0,73.0 C115.0,74.5 119.5,75.7 125.0,76.0 C130.5,76.3 140.2,75.2 143.2,75.0" stroke="#eb9eca" stroke-width="5" stroke-opacity="0.55" fill="none"/>
</g>
<g transform="rotate(-20 118.5 72.5)"><ellipse cx="118.5" cy="72.5" rx="5" ry="3.2" fill="#b03a94" fill-opacity="0.85"/>
<path d="M119.0,70.1h.01M119.1,70.8h.01M119.1,70.5h.01M121.0,74.5h.01M120.9,70.0h.01M115.2,70.6h.01M116.5,73.6h.01M118.1,72.0h.01" stroke="#603488" stroke-opacity="0.6" stroke-width="0.9" stroke-linecap="round" fill="none"/>
</g>
<g transform="rotate(20 139 32)"><ellipse cx="139" cy="32" rx="5" ry="8" fill="#a050a8" fill-opacity="0.85"/>
<path d="M138.8,33.8h.01M142.5,29.8h.01M141.4,26.7h.01M140.0,26.4h.01M142.3,28.3h.01M137.7,28.8h.01M136.8,34.8h.01M139.8,38.5h.01M137.6,24.4h.01M140.3,34.8h.01M135.5,35.3h.01M139.5,26.4h.01M137.0,30.5h.01M139.9,37.6h.01M140.5,37.2h.01M137.1,27.4h.01M141.5,26.7h.01M143.5,30.8h.01M143.6,31.6h.01M138.5,25.1h.01" stroke="#603488" stroke-opacity="0.6" stroke-width="0.9" stroke-linecap="round" fill="none"/>
</g>
<path d="M9.2,59.5 Q33.3,47.2 57.4,35" stroke="#a85cb0" stroke-width="8.5" stroke-linecap="round" fill="none" stroke-opacity="0.88"/>
<path d="M9.2,59.5 Q33.3,47.2 57.4,35" stroke="#f0b8d8" stroke-width="3.6" stroke-linecap="round" fill="none"/>
<path d="M37.1,48.0h.01M18.3,51.4h.01M22.5,56.6h.01M28.8,46.1h.01M14.6,61.1h.01M39.1,40.6h.01M23.4,55.3h.01M21.0,48.7h.01M13.3,60.7h.01M28.2,46.1h.01M16.8,53.6h.01M15.3,52.8h.01M11.8,61.8h.01M19.6,57.5h.01M34.5,43.0h.01M13.6,53.7h.01M22.5,56.7h.01M41.9,38.4h.01M31.4,50.6h.01M22.2,56.1h.01M26.1,47.1h.01M29.1,46.3h.01M35.2,48.8h.01M37.3,49.8h.01M10.9,61.2h.01M24.1,54.1h.01M47.4,36.9h.01M48.2,35.8h.01M57.4,39.4h.01M43.9,38.6h.01M46.4,44.0h.01M43.7,46.2h.01M27.4,47.4h.01M15.7,52.1h.01M36.7,48.1h.01M25.2,56.1h.01M49.7,43.2h.01M41.9,39.2h.01M28.4,45.1h.01M35.4,50.7h.01M22.3,57.5h.01M45.8,45.4h.01M22.7,49.4h.01M46.5,37.7h.01M43.0,44.5h.01M44.4,44.5h.01M22.9,50.0h.01M18.7,58.7h.01M29.0,45.1h.01M38.7,42.2h.01M12.1,54.5h.01M13.6,53.5h.01M40.3,39.9h.01M14.4,52.3h.01M55.5,31.6h.01M27.0,48.0h.01M13.5,53.4h.01M25.2,48.1h.01M45.7,36.7h.01M13.9,55.0h.01M9.6,55.5h.01" stroke="#603488" stroke-opacity="0.55" stroke-width="0.9" stroke-linecap="round" fill="none"/>
<path d="M8,61 Q11.0,59.5 14,58" stroke="#e45c9c" stroke-width="4" stroke-linecap="round" fill="none" stroke-opacity="0.88"/>
<path d="M12.7,56.9h.01M13.5,59.1h.01M12.5,57.8h.01M9.8,60.6h.01M13.0,58.9h.01" stroke="#603488" stroke-opacity="0.55" stroke-width="0.9" stroke-linecap="round" fill="none"/>
<path d="M83.6,61.3 Q113.3,44.9 143,28.5" stroke="#a054aa" stroke-width="6.5" stroke-linecap="round" fill="none" stroke-opacity="0.88"/>
<path d="M99.7,53.3h.01M93.9,59.3h.01M123.4,36.6h.01M128.4,33.1h.01M106.3,48.6h.01M97.6,57.0h.01M139.0,28.0h.01M122.4,39.1h.01M124.8,39.9h.01M138.9,29.4h.01M108.9,48.0h.01M121.0,38.3h.01M105.6,45.7h.01M111.4,46.1h.01M130.5,39.0h.01M125.5,34.9h.01M87.9,60.5h.01M117.0,44.9h.01M128.0,35.6h.01M120.5,37.2h.01M122.6,39.2h.01M97.9,53.6h.01M142.2,32.1h.01M130.4,35.3h.01M87.8,56.8h.01M96.0,54.6h.01M96.2,53.1h.01M120.3,41.7h.01M103.8,53.6h.01M120.2,39.3h.01M99.8,53.9h.01M114.1,44.3h.01M117.4,42.4h.01M133.9,31.1h.01M110.4,49.4h.01M97.0,53.2h.01M141.6,30.7h.01M104.0,53.1h.01M116.3,46.1h.01M124.1,37.3h.01M129.2,35.4h.01M136.3,35.1h.01M124.3,40.3h.01M103.7,47.3h.01M127.5,36.7h.01M137.5,29.6h.01M127.5,37.2h.01M86.7,56.4h.01M95.2,54.3h.01M108.9,44.6h.01M117.4,45.8h.01M139.1,32.0h.01M107.9,51.1h.01M88.1,62.2h.01M123.0,38.6h.01M119.4,40.8h.01M123.1,37.1h.01M99.0,50.5h.01M120.4,37.5h.01M105.8,49.5h.01M139.9,33.4h.01M85.1,60.7h.01M93.9,58.2h.01M141.1,29.4h.01M142.6,30.9h.01M86.0,62.1h.01M114.3,43.4h.01M136.7,35.1h.01M89.7,56.4h.01M133.9,33.1h.01M106.7,51.0h.01M129.1,39.5h.01M124.1,42.3h.01M135.1,35.7h.01M115.5,46.6h.01M98.2,56.8h.01M118.9,45.4h.01M126.4,36.5h.01M120.7,43.9h.01M104.1,46.4h.01M98.4,51.2h.01M116.0,44.7h.01M107.6,49.2h.01M103.6,50.3h.01M108.8,45.0h.01M127.9,39.2h.01M142.6,30.7h.01M86.3,56.8h.01M91.0,53.8h.01M116.5,44.0h.01M105.4,51.8h.01M118.7,44.7h.01M102.6,53.7h.01M116.7,45.9h.01M99.0,54.7h.01M88.3,58.2h.01M86.9,56.5h.01" stroke="#603488" stroke-opacity="0.55" stroke-width="0.9" stroke-linecap="round" fill="none"/>
<path d="M110,49.3 Q125.5,40.4 141,31.5" stroke="#f9f0f7" stroke-width="1.5" stroke-linecap="round" fill="none" stroke-opacity="0.88"/>
<path d="M136.4,34.6h.01M136.3,34.3h.01M115.4,45.7h.01M117.8,44.9h.01M119.6,44.4h.01M127.4,39.8h.01M124.9,40.8h.01M110.4,49.8h.01M137.1,34.0h.01M124.5,40.7h.01M139.9,32.1h.01" stroke="#603488" stroke-opacity="0.55" stroke-width="0.9" stroke-linecap="round" fill="none"/>
<path d="M95,50 Q99.5,48.0 104,46" stroke="#a864b4" stroke-width="9" stroke-linecap="round" fill="none" stroke-opacity="0.88"/>
<path d="M96.8,50.2h.01M97.1,51.7h.01M98.2,44.0h.01M97.6,53.3h.01M100.6,51.7h.01M97.7,50.6h.01M96.1,51.2h.01M99.9,46.0h.01M96.8,45.3h.01M103.4,50.1h.01M98.9,52.2h.01M95.8,50.1h.01M97.2,52.9h.01M103.1,50.5h.01M101.5,44.0h.01M99.1,45.6h.01M101.0,47.1h.01M102.8,47.8h.01M95.9,49.1h.01" stroke="#603488" stroke-opacity="0.55" stroke-width="0.9" stroke-linecap="round" fill="none"/>
<path d="M2.6,89.8 Q13.8,84.3 25,78.8" stroke="#a252aa" stroke-width="7.5" stroke-linecap="round" fill="none" stroke-opacity="0.88"/>
<path d="M2.6,89.8 Q13.8,84.3 25,78.8" stroke="#e8a8d0" stroke-width="2.6" stroke-linecap="round" fill="none"/>
<path d="M4.1,91.6h.01M16.2,80.2h.01M12.4,87.6h.01M8.9,85.0h.01M20.8,76.8h.01M3.7,87.7h.01M20.6,84.2h.01M2.8,87.4h.01M23.7,81.2h.01M16.8,78.7h.01M7.6,85.2h.01M1.6,87.1h.01M5.3,85.3h.01M15.1,80.6h.01M10.6,83.7h.01M4.9,85.0h.01M8.4,90.3h.01M15.1,86.2h.01M13.7,80.2h.01M17.2,85.2h.01M11.1,82.9h.01M4.5,92.3h.01M6.4,86.2h.01M6.8,90.6h.01M10.3,83.8h.01M14.7,80.2h.01" stroke="#603488" stroke-opacity="0.55" stroke-width="0.9" stroke-linecap="round" fill="none"/>
<path d="M92.4,99 Q103.3,95.5 114.3,92" stroke="#a2489e" stroke-width="7" stroke-linecap="round" fill="none" stroke-opacity="0.88"/>
<path d="M99.0,95.3h.01M100.1,95.8h.01M101.2,92.7h.01M107.1,90.9h.01M104.4,91.8h.01M105.1,97.8h.01M103.7,96.4h.01M94.1,97.9h.01M100.6,98.6h.01M104.0,93.7h.01M108.3,95.2h.01M110.1,95.8h.01M97.4,97.9h.01M113.6,90.4h.01M109.2,96.6h.01M97.8,100.1h.01M97.3,100.0h.01M93.2,95.2h.01M93.8,96.1h.01M107.9,93.0h.01M97.3,96.5h.01M92.7,99.4h.01M112.4,89.4h.01M94.4,101.2h.01M109.2,90.2h.01M93.6,98.8h.01M108.0,96.1h.01M114.6,95.4h.01M99.9,93.1h.01M98.6,99.2h.01M94.5,96.6h.01M100.3,94.0h.01M102.8,96.4h.01M110.7,95.7h.01M113.7,90.6h.01" stroke="#603488" stroke-opacity="0.55" stroke-width="0.9" stroke-linecap="round" fill="none"/>
<path d="M28,38 Q32.0,36.5 36,35" stroke="#dca4d0" stroke-width="7" stroke-linecap="round" fill="none" stroke-opacity="0.88"/>
<path d="M35.6,34.9h.01M33.2,34.3h.01M30.7,38.3h.01M32.9,37.2h.01M30.6,38.5h.01M33.3,36.9h.01M31.7,35.2h.01M33.3,37.6h.01M33.0,36.9h.01M32.7,34.4h.01M34.0,32.9h.01M28.5,34.8h.01M33.3,33.2h.01" stroke="#603488" stroke-opacity="0.55" stroke-width="0.9" stroke-linecap="round" fill="none"/>
<path d="M104,38 Q108.0,37.0 112,36" stroke="#e8b8da" stroke-width="6" stroke-linecap="round" fill="none" stroke-opacity="0.88"/>
<path d="M108.5,34.0h.01M107.9,38.4h.01M105.4,40.1h.01M103.6,35.2h.01M110.6,35.8h.01M108.5,34.5h.01M106.2,37.7h.01M104.5,38.6h.01M105.5,38.6h.01M107.7,34.7h.01" stroke="#603488" stroke-opacity="0.55" stroke-width="0.9" stroke-linecap="round" fill="none"/>

<path d="M0.0,16.4 C0.7,16.0 2.5,14.2 4.0,14.0 C5.5,13.8 7.5,15.6 9.0,15.5 C10.5,15.4 11.5,13.7 13.0,13.5 C14.5,13.3 16.3,14.4 18.0,14.2 C19.7,13.9 21.3,12.5 23.0,12.0 C24.7,11.5 26.5,11.7 28.0,11.0 C29.5,10.3 30.8,8.6 32.0,8.0 C33.2,7.4 33.7,7.5 35.0,7.5 C36.3,7.5 38.6,7.5 39.9,7.7 C41.2,7.9 42.0,7.8 43.0,8.5 C44.0,9.2 44.7,11.1 46.0,12.0 C47.3,12.9 49.5,14.2 50.8,14.2 C52.1,14.2 52.8,12.4 54.0,12.0 C55.2,11.6 56.8,12.1 58.0,11.5 C59.2,10.9 60.0,9.1 61.0,8.5 C62.0,7.9 63.0,8.4 64.0,8.0 C65.0,7.6 65.9,6.4 67.0,6.2 C68.1,6.0 69.3,6.5 70.5,6.6 C71.7,6.7 73.1,6.8 74.0,7.0 C74.9,7.2 75.2,6.5 76.0,8.0 C76.8,9.5 78.1,14.4 79.0,16.0 C79.9,17.6 80.7,17.8 81.5,17.5 C82.3,17.2 83.2,14.8 84.0,14.0 C84.8,13.2 85.0,13.4 86.0,13.0 C87.0,12.6 88.6,11.7 90.0,11.5 C91.4,11.3 92.9,12.2 94.6,12.0 C96.3,11.8 98.3,10.2 100.0,10.0 C101.7,9.8 103.3,10.7 105.0,10.5 C106.7,10.3 108.2,9.1 110.0,9.0 C111.8,8.9 114.0,10.0 116.0,10.0 C118.0,10.0 120.1,9.0 122.0,9.0 C123.9,9.0 125.4,9.2 127.4,9.9 C129.4,10.6 132.1,12.3 134.0,13.0 C135.9,13.7 137.5,13.2 139.0,14.0 C140.5,14.8 142.5,16.9 143.2,17.5 L143.2,21.4 L141.2,19.2 L139.1,19.4 L137.1,17.6 L135.0,16.4 L133.0,17.9 L130.9,16.5 L128.9,16.5 L126.8,15.0 L124.8,13.6 L122.7,13.8 L120.7,13.0 L118.7,13.3 L116.6,15.1 L114.6,15.1 L112.5,14.7 L110.5,14.2 L108.4,14.3 L106.4,13.7 L104.3,16.2 L102.3,15.8 L100.2,14.9 L98.2,15.1 L96.1,15.9 L94.1,16.1 L92.1,15.9 L90.0,15.9 L88.0,15.9 L85.9,17.8 L83.9,19.5 L81.8,21.6 L79.8,20.7 L77.7,18.2 L75.7,13.1 L73.6,11.6 L71.6,10.9 L69.6,11.8 L67.5,11.3 L65.5,11.8 L63.4,11.6 L61.4,11.8 L59.3,14.6 L57.3,16.8 L55.2,15.3 L53.2,16.0 L51.1,17.3 L49.1,17.9 L47.1,17.2 L45.0,15.0 L43.0,13.5 L40.9,12.7 L38.9,10.9 L36.8,10.9 L34.8,12.0 L32.7,11.0 L30.7,14.7 L28.6,14.2 L26.6,17.0 L24.5,16.1 L22.5,17.6 L20.5,16.2 L18.4,17.2 L16.4,17.6 L14.3,18.4 L12.3,17.3 L10.2,19.6 L8.2,21.1 L6.1,20.0 L4.1,17.2 L2.0,20.0 L0.0,19.5 Z" fill="#a856ae"/>
<path d="M0.0,16.8 C0.7,16.4 2.5,14.6 4.0,14.4 C5.5,14.2 7.5,16.0 9.0,15.9 C10.5,15.8 11.5,14.1 13.0,13.9 C14.5,13.7 16.3,14.8 18.0,14.6 C19.7,14.3 21.3,12.9 23.0,12.4 C24.7,11.9 26.5,12.1 28.0,11.4 C29.5,10.7 30.8,9.0 32.0,8.4 C33.2,7.8 33.7,8.0 35.0,7.9 C36.3,7.9 38.6,7.9 39.9,8.1 C41.2,8.3 42.0,8.2 43.0,8.9 C44.0,9.6 44.7,11.5 46.0,12.4 C47.3,13.3 49.5,14.6 50.8,14.6 C52.1,14.6 52.8,12.8 54.0,12.4 C55.2,12.0 56.8,12.5 58.0,11.9 C59.2,11.3 60.0,9.5 61.0,8.9 C62.0,8.3 63.0,8.8 64.0,8.4 C65.0,8.0 65.9,6.8 67.0,6.6 C68.1,6.4 69.3,6.9 70.5,7.0 C71.7,7.1 73.1,7.2 74.0,7.4 C74.9,7.6 75.2,6.9 76.0,8.4 C76.8,9.9 78.1,14.8 79.0,16.4 C79.9,18.0 80.7,18.2 81.5,17.9 C82.3,17.6 83.2,15.2 84.0,14.4 C84.8,13.7 85.0,13.8 86.0,13.4 C87.0,13.0 88.6,12.1 90.0,11.9 C91.4,11.7 92.9,12.7 94.6,12.4 C96.3,12.2 98.3,10.7 100.0,10.4 C101.7,10.2 103.3,11.1 105.0,10.9 C106.7,10.7 108.2,9.5 110.0,9.4 C111.8,9.3 114.0,10.4 116.0,10.4 C118.0,10.4 120.1,9.4 122.0,9.4 C123.9,9.4 125.4,9.6 127.4,10.3 C129.4,11.0 132.1,12.7 134.0,13.4 C135.9,14.1 137.5,13.7 139.0,14.4 C140.5,15.2 142.5,17.3 143.2,17.9" stroke="#8e409a" stroke-width="0.9" stroke-opacity="0.8" fill="none"/>
<path d="M37.5,38.9h.01M42.9,18.7h.01M68.1,28.7h.01M30.1,38.4h.01M128.3,22.3h.01M122.1,37.7h.01M120.6,50.2h.01M5.5,55.6h.01M120.5,42.3h.01M0.9,59.6h.01M101.5,13.0h.01M29.3,13.5h.01M71.4,36.0h.01M82.9,24.1h.01M77.3,15.3h.01M63.7,49.7h.01M25.6,43.5h.01M20.7,57.0h.01M115.2,52.5h.01M61.2,25.7h.01M99.0,22.3h.01M15.8,15.1h.01M107.0,60.5h.01M119.9,75.1h.01M82.5,42.1h.01M115.4,17.8h.01M130.6,69.3h.01M35.3,35.6h.01M110.0,16.0h.01M9.8,30.4h.01M24.5,59.6h.01M102.1,28.6h.01M96.9,56.3h.01M103.5,65.9h.01M12.3,34.0h.01M96.1,51.2h.01M0.2,27.1h.01M83.9,24.3h.01M17.0,30.4h.01M25.9,15.1h.01M15.1,26.5h.01M2.6,36.3h.01M97.0,33.3h.01M40.1,22.1h.01M131.2,27.6h.01M24.4,17.0h.01M74.3,12.5h.01M9.8,61.3h.01M132.8,36.7h.01M28.8,62.1h.01M84.5,48.4h.01M3.9,27.5h.01M28.1,52.7h.01M45.1,47.6h.01M111.1,69.4h.01M94.6,62.8h.01M28.9,34.8h.01M71.5,9.7h.01M39.1,52.3h.01M84.1,20.1h.01M26.0,59.3h.01M104.9,57.8h.01M8.9,68.7h.01M106.0,51.8h.01M15.1,30.7h.01M37.8,22.0h.01M35.6,30.9h.01M74.2,43.3h.01M95.6,14.0h.01M40.0,20.1h.01M57.9,30.0h.01M125.6,73.3h.01M122.1,13.8h.01M25.0,15.9h.01M54.6,38.4h.01M125.3,16.5h.01M127.4,34.2h.01M46.9,31.4h.01M20.1,25.7h.01M0.3,38.3h.01M99.1,18.2h.01M39.2,48.1h.01M109.2,37.2h.01M132.8,49.3h.01M106.3,27.3h.01M30.7,34.6h.01M19.1,54.6h.01M114.7,34.9h.01M93.7,61.6h.01M72.2,25.0h.01M0.9,23.8h.01M102.0,49.0h.01M33.1,29.4h.01M0.6,50.6h.01M106.6,11.7h.01M56.1,31.5h.01M113.5,53.7h.01M51.9,39.3h.01M57.0,28.6h.01M51.9,26.6h.01M77.9,35.9h.01M102.3,12.1h.01M36.7,31.5h.01M30.8,16.2h.01M135.0,73.7h.01M143.1,23.7h.01M130.2,46.5h.01M27.5,54.9h.01M69.6,10.1h.01M33.0,25.1h.01M98.0,15.5h.01M101.0,15.6h.01M72.6,32.1h.01M70.9,30.3h.01M100.0,58.3h.01M45.2,46.1h.01M27.8,64.1h.01M92.1,51.1h.01M120.1,74.6h.01M82.4,54.0h.01" stroke="#603488" stroke-opacity="0.8" stroke-width="0.9" stroke-linecap="round" fill="none"/>
<path d="M108.3,53.4h.01M52.7,46.2h.01M24.4,68.7h.01M37.9,10.2h.01M36.3,34.4h.01M31.8,41.3h.01M53.0,34.6h.01M132.7,73.5h.01M105.1,63.6h.01M100.3,54.4h.01M35.7,61.8h.01M3.2,70.4h.01M74.0,9.8h.01M60.9,31.4h.01M17.1,62.9h.01M32.0,39.2h.01M55.3,33.4h.01M6.4,57.4h.01M7.0,21.8h.01M75.8,50.4h.01M97.8,27.9h.01M86.5,33.2h.01M69.1,14.4h.01M78.1,18.6h.01M124.6,14.5h.01M136.9,71.9h.01M109.0,40.5h.01M60.7,32.0h.01M16.3,56.3h.01M97.6,66.9h.01M40.2,16.2h.01M76.0,52.0h.01M102.9,17.3h.01M123.5,45.5h.01M142.9,67.3h.01M142.0,37.0h.01M132.6,72.3h.01M15.0,35.5h.01M13.1,20.9h.01M81.3,20.9h.01M98.9,28.0h.01M137.1,21.5h.01M10.1,46.2h.01M72.5,17.4h.01M98.1,55.3h.01M29.0,31.8h.01M36.9,52.5h.01M101.5,29.7h.01M126.3,34.9h.01M132.8,64.4h.01M119.9,42.1h.01M116.5,27.8h.01M29.0,67.6h.01M59.2,48.7h.01M32.3,27.0h.01M136.3,51.4h.01M84.1,24.0h.01M33.0,59.1h.01M68.9,12.3h.01M26.2,18.8h.01M86.6,18.3h.01M62.9,34.1h.01M61.3,25.9h.01M87.8,39.6h.01M21.2,59.8h.01M5.4,30.2h.01M89.9,60.6h.01M87.2,27.0h.01M53.4,51.6h.01M17.2,68.3h.01M14.3,26.8h.01M141.3,30.9h.01M76.5,33.8h.01M34.2,28.5h.01M17.3,65.9h.01M93.4,44.5h.01M9.3,67.1h.01M41.1,25.7h.01M99.7,37.1h.01M13.1,18.1h.01M51.3,90.0h.01M56.6,61.0h.01M123.3,79.7h.01M12.4,88.3h.01M55.4,71.8h.01M44.3,87.9h.01M66.3,77.4h.01M95.2,84.5h.01M2.2,80.6h.01M115.9,77.8h.01M63.7,62.9h.01M62.7,51.5h.01M58.7,59.8h.01M50.0,92.2h.01M69.7,56.6h.01M99.2,97.9h.01M25.0,97.2h.01M131.0,93.8h.01M51.8,101.0h.01M123.5,96.1h.01M52.1,71.7h.01M54.2,90.7h.01M122.0,100.9h.01M110.7,83.9h.01M19.6,73.5h.01M66.4,71.6h.01M125.6,79.1h.01M0.8,86.2h.01M7.9,94.7h.01M48.3,64.7h.01M33.1,70.3h.01M76.2,62.8h.01M38.5,79.7h.01M136.3,76.0h.01M71.3,74.9h.01M93.0,74.0h.01M44.1,68.8h.01M91.6,79.0h.01M21.3,74.0h.01M133.2,93.5h.01" stroke="#603488" stroke-opacity="0.8" stroke-width="1.25" stroke-linecap="round" fill="none"/>
<path d="M0.0,16.4 C0.7,16.0 2.5,14.2 4.0,14.0 C5.5,13.8 7.5,15.6 9.0,15.5 C10.5,15.4 11.5,13.7 13.0,13.5 C14.5,13.3 16.3,14.4 18.0,14.2 C19.7,13.9 21.3,12.5 23.0,12.0 C24.7,11.5 26.5,11.7 28.0,11.0 C29.5,10.3 30.8,8.6 32.0,8.0 C33.2,7.4 33.7,7.5 35.0,7.5 C36.3,7.5 38.6,7.5 39.9,7.7 C41.2,7.9 42.0,7.8 43.0,8.5 C44.0,9.2 44.7,11.1 46.0,12.0 C47.3,12.9 49.5,14.2 50.8,14.2 C52.1,14.2 52.8,12.4 54.0,12.0 C55.2,11.6 56.8,12.1 58.0,11.5 C59.2,10.9 60.0,9.1 61.0,8.5 C62.0,7.9 63.0,8.4 64.0,8.0 C65.0,7.6 65.9,6.4 67.0,6.2 C68.1,6.0 69.3,6.5 70.5,6.6 C71.7,6.7 73.1,6.8 74.0,7.0 C74.9,7.2 75.2,6.5 76.0,8.0 C76.8,9.5 78.1,14.4 79.0,16.0 C79.9,17.6 80.7,17.8 81.5,17.5 C82.3,17.2 83.2,14.8 84.0,14.0 C84.8,13.2 85.0,13.4 86.0,13.0 C87.0,12.6 88.6,11.7 90.0,11.5 C91.4,11.3 92.9,12.2 94.6,12.0 C96.3,11.8 98.3,10.2 100.0,10.0 C101.7,9.8 103.3,10.7 105.0,10.5 C106.7,10.3 108.2,9.1 110.0,9.0 C111.8,8.9 114.0,10.0 116.0,10.0 C118.0,10.0 120.1,9.0 122.0,9.0 C123.9,9.0 125.4,9.2 127.4,9.9 C129.4,10.6 132.1,12.3 134.0,13.0 C135.9,13.7 137.5,13.2 139.0,14.0 C140.5,14.8 142.5,16.9 143.2,17.5 L143.2,77.0 L125.0,78.0 L110.0,75.0 L95.0,69.0 L85.0,60.0 L75.0,52.0 L65.0,50.0 L55.0,54.0 L45.0,62.0 L30.0,68.0 L15.0,70.0 L0.0,72.0 Z" fill="#fff" filter="url(#grain)" opacity="0.55"/>
<path d="M0.0,70.0 C2.5,69.7 10.0,68.7 15.0,68.0 C20.0,67.3 25.0,67.3 30.0,66.0 C35.0,64.7 40.8,62.3 45.0,60.0 C49.2,57.7 51.7,54.0 55.0,52.0 C58.3,50.0 61.7,48.3 65.0,48.0 C68.3,47.7 71.7,48.3 75.0,50.0 C78.3,51.7 81.7,55.2 85.0,58.0 C88.3,60.8 90.8,64.5 95.0,67.0 C99.2,69.5 105.0,71.5 110.0,73.0 C115.0,74.5 119.5,75.7 125.0,76.0 C130.5,76.3 140.2,75.2 143.2,75.0 L143.2,101.3 L0,101.3 Z" fill="#fff" filter="url(#grain)" opacity="0.10"/>
<path d="M0.0,16.4 C0.7,16.0 2.5,14.2 4.0,14.0 C5.5,13.8 7.5,15.6 9.0,15.5 C10.5,15.4 11.5,13.7 13.0,13.5 C14.5,13.3 16.3,14.4 18.0,14.2 C19.7,13.9 21.3,12.5 23.0,12.0 C24.7,11.5 26.5,11.7 28.0,11.0 C29.5,10.3 30.8,8.6 32.0,8.0 C33.2,7.4 33.7,7.5 35.0,7.5 C36.3,7.5 38.6,7.5 39.9,7.7 C41.2,7.9 42.0,7.8 43.0,8.5 C44.0,9.2 44.7,11.1 46.0,12.0 C47.3,12.9 49.5,14.2 50.8,14.2 C52.1,14.2 52.8,12.4 54.0,12.0 C55.2,11.6 56.8,12.1 58.0,11.5 C59.2,10.9 60.0,9.1 61.0,8.5 C62.0,7.9 63.0,8.4 64.0,8.0 C65.0,7.6 65.9,6.4 67.0,6.2 C68.1,6.0 69.3,6.5 70.5,6.6 C71.7,6.7 73.1,6.8 74.0,7.0 C74.9,7.2 75.2,6.5 76.0,8.0 C76.8,9.5 78.1,14.4 79.0,16.0 C79.9,17.6 80.7,17.8 81.5,17.5 C82.3,17.2 83.2,14.8 84.0,14.0 C84.8,13.2 85.0,13.4 86.0,13.0 C87.0,12.6 88.6,11.7 90.0,11.5 C91.4,11.3 92.9,12.2 94.6,12.0 C96.3,11.8 98.3,10.2 100.0,10.0 C101.7,9.8 103.3,10.7 105.0,10.5 C106.7,10.3 108.2,9.1 110.0,9.0 C111.8,8.9 114.0,10.0 116.0,10.0 C118.0,10.0 120.1,9.0 122.0,9.0 C123.9,9.0 125.4,9.2 127.4,9.9 C129.4,10.6 132.1,12.3 134.0,13.0 C135.9,13.7 137.5,13.2 139.0,14.0 C140.5,14.8 142.5,16.9 143.2,17.5 L143.2,101.3 L0,101.3 Z" fill="#fff" filter="url(#grainw)" opacity="0.35"/>
</g>
<rect x="125.1" y="92.5" width="11.2" height="1.2" fill="#222"/>
<text x="130.7" y="96.8" text-anchor="middle" font-family='"Liberation Sans", sans-serif' font-weight="bold" font-size="3.3" fill="#222">100 μm</text>
</g>
<text x="271.0" y="602.7" text-anchor="middle" font-family='"Liberation Serif", serif' font-size="12.7" fill="#000">DAG-1 500 mg/kg</text>
<clipPath id="hc5"><rect x="0" y="0" width="143.2" height="101.8"/></clipPath>
<g transform="translate(200.9,607.8)" clip-path="url(#hc5)">
<rect x="0" y="0" width="143.2" height="101.8" fill="#eeecf0"/>
<g filter="url(#soft)">
<path d="M12.9,13.1q2.6,1.0 9.2,1.0M43.2,11.9q4.9,1.9 8.3,0.2M55.5,11.0q4.9,-0.3 7.7,0.5M90.6,7.0q2.9,0.8 7.9,1.4M7.5,21.6q4.0,1.0 6.0,1.1M58.8,11.8q5.3,-1.6 9.7,-0.8M51.9,13.0q3.9,1.4 6.1,0.2M63.0,12.9q2.5,0.8 7.1,-0.1M86.3,5.6q5.3,1.6 6.3,1.3M100.1,4.2q3.1,-1.7 7.1,-0.2M69.7,13.1q4.2,-1.5 6.1,0.2M67.6,14.2q3.1,1.9 9.0,0.9M50.9,12.5q4.8,0.2 8.2,-1.9M102.0,5.1q3.3,0.1 9.7,-0.4M92.5,7.0q5.8,-1.0 7.7,0.7M100.1,3.5q4.6,-2.0 9.9,0.2" stroke="#9e48a6" stroke-opacity="0.3" stroke-width="0.6" fill="none"/>
<path d="M0.0,17.0 C0.3,18.2 1.2,22.2 2.0,24.0 C2.8,25.8 3.6,28.3 4.8,28.0 C6.0,27.7 7.5,23.7 9.0,22.0 C10.5,20.3 12.5,19.0 14.0,18.0 C15.5,17.0 16.5,16.4 18.0,16.0 C19.5,15.6 21.3,15.8 23.0,15.5 C24.7,15.2 26.2,14.4 28.0,14.5 C29.8,14.6 32.0,15.9 34.0,16.0 C36.0,16.1 38.2,15.1 39.9,14.9 C41.6,14.7 42.6,14.7 44.0,15.0 C45.4,15.3 46.5,17.0 48.0,17.0 C49.5,17.0 51.4,15.5 53.0,15.0 C54.6,14.5 56.1,13.6 57.4,13.8 C58.7,14.0 59.7,15.7 61.0,16.0 C62.3,16.3 63.7,15.3 65.0,15.5 C66.3,15.7 67.7,16.9 69.0,17.0 C70.3,17.1 71.4,16.7 72.7,16.0 C74.0,15.3 75.8,13.8 77.0,13.0 C78.2,12.2 78.8,11.8 80.0,11.0 C81.2,10.2 82.7,8.6 84.0,8.0 C85.3,7.4 86.7,7.0 88.0,7.2 C89.3,7.5 90.7,9.2 92.0,9.5 C93.3,9.8 94.7,9.4 96.0,9.0 C97.3,8.6 98.4,7.1 100.0,7.0 C101.6,6.9 103.8,8.5 105.5,8.3 C107.2,8.1 108.2,6.4 110.0,6.0 C111.8,5.6 114.2,6.3 116.0,6.0 C117.8,5.7 119.1,4.2 121.0,4.0 C122.9,3.8 125.7,5.0 127.4,5.0 C129.1,5.0 129.7,3.9 131.0,4.0 C132.3,4.1 133.7,5.5 135.0,5.5 C136.3,5.5 137.6,4.1 139.0,4.0 C140.4,3.9 142.5,4.8 143.2,5.0 L143.2,101.8 L0,101.8 Z" fill="#e886bc"/>
<path d="M0.0,25.6 C0.3,26.8 1.2,30.8 2.0,32.6 C2.8,34.4 3.6,36.9 4.8,36.6 C6.0,36.3 7.5,32.3 9.0,30.6 C10.5,28.9 12.5,27.6 14.0,26.6 C15.5,25.6 16.5,25.0 18.0,24.6 C19.5,24.2 21.3,24.4 23.0,24.1 C24.7,23.9 26.2,23.0 28.0,23.1 C29.8,23.2 32.0,24.5 34.0,24.6 C36.0,24.7 38.2,23.7 39.9,23.5 C41.6,23.3 42.6,23.2 44.0,23.6 C45.4,24.0 46.5,25.6 48.0,25.6 C49.5,25.6 51.4,24.1 53.0,23.6 C54.6,23.1 56.1,22.2 57.4,22.4 C58.7,22.6 59.7,24.3 61.0,24.6 C62.3,24.9 63.7,23.9 65.0,24.1 C66.3,24.3 67.7,25.5 69.0,25.6 C70.3,25.7 71.4,25.3 72.7,24.6 C74.0,23.9 75.8,22.4 77.0,21.6 C78.2,20.8 78.8,20.4 80.0,19.6 C81.2,18.8 82.7,17.2 84.0,16.6 C85.3,16.0 86.7,15.6 88.0,15.8 C89.3,16.1 90.7,17.8 92.0,18.1 C93.3,18.4 94.7,18.0 96.0,17.6 C97.3,17.2 98.4,15.7 100.0,15.6 C101.6,15.5 103.8,17.1 105.5,16.9 C107.2,16.7 108.2,15.0 110.0,14.6 C111.8,14.2 114.2,14.9 116.0,14.6 C117.8,14.3 119.1,12.8 121.0,12.6 C122.9,12.4 125.7,13.6 127.4,13.6 C129.1,13.6 129.7,12.5 131.0,12.6 C132.3,12.7 133.7,14.1 135.0,14.1 C136.3,14.1 137.6,12.7 139.0,12.6 C140.4,12.5 142.5,13.4 143.2,13.6" stroke="#de6cac" stroke-width="9" stroke-opacity="0.3" fill="none"/>
<path d="M75.2,26.5a11.0,3.1 -25 1,0 20.0,-9.2a11.0,3.1 -25 1,0 -20.0,9.2zM1.2,40.7a12.4,1.4 -12 1,0 24.3,-5.2a12.4,1.4 -12 1,0 -24.3,5.2zM106.1,18.5a8.0,2.0 -22 1,0 14.9,-5.9a8.0,2.0 -22 1,0 -14.9,5.9zM18.4,62.7a12.7,1.5 -16 1,0 24.4,-7.2a12.7,1.5 -16 1,0 -24.4,7.2zM42.7,52.0a6.2,1.7 -28 1,0 11.0,-5.7a6.2,1.7 -28 1,0 -11.0,5.7zM103.9,47.1a10.3,1.7 -23 1,0 18.9,-8.1a10.3,1.7 -23 1,0 -18.9,8.1zM4.5,40.3a10.0,1.5 -22 1,0 18.6,-7.5a10.0,1.5 -22 1,0 -18.6,7.5z" fill="#f6cce4" fill-opacity="0.55"/>
<path d="M55.5,31.6a5.3,2.5 -15 1,0 10.1,-2.8a5.3,2.5 -15 1,0 -10.1,2.8zM62.2,41.6a5.2,2.1 -15 1,0 10.1,-2.8a5.2,2.1 -15 1,0 -10.1,2.8zM109.6,19.2a11.8,2.7 -28 1,0 20.9,-10.9a11.8,2.7 -28 1,0 -20.9,10.9zM82.9,47.4a11.3,1.3 -16 1,0 21.8,-6.3a11.3,1.3 -16 1,0 -21.8,6.3zM60.8,27.3a12.4,2.8 -21 1,0 23.1,-8.9a12.4,2.8 -21 1,0 -23.1,8.9zM66.3,49.6a6.2,2.3 -24 1,0 11.4,-5.0a6.2,2.3 -24 1,0 -11.4,5.0zM82.8,24.6a5.6,2.1 -19 1,0 10.5,-3.7a5.6,2.1 -19 1,0 -10.5,3.7zM86.6,17.3a13.9,1.4 -14 1,0 27.0,-6.8a13.9,1.4 -14 1,0 -27.0,6.8zM118.8,44.3a13.9,2.0 -28 1,0 24.7,-12.9a13.9,2.0 -28 1,0 -24.7,12.9zM61.9,40.3a5.9,1.3 -13 1,0 11.5,-2.7a5.9,1.3 -13 1,0 -11.5,2.7zM61.6,26.0a7.1,2.6 -14 1,0 13.7,-3.5a7.1,2.6 -14 1,0 -13.7,3.5zM45.3,50.9a13.4,2.8 -15 1,0 25.9,-6.8a13.4,2.8 -15 1,0 -25.9,6.8zM61.4,34.7a6.8,2.1 -24 1,0 12.4,-5.6a6.8,2.1 -24 1,0 -12.4,5.6z" fill="#f0a8d0" fill-opacity="0.55"/>
<path d="M81.6,41.7a11.6,2.6 -21 1,0 21.6,-8.4a11.6,2.6 -21 1,0 -21.6,8.4zM-1.9,68.5a5.4,2.8 -17 1,0 10.3,-3.2a5.4,2.8 -17 1,0 -10.3,3.2zM3.4,28.5a13.8,2.7 -20 1,0 25.9,-9.7a13.8,2.7 -20 1,0 -25.9,9.7zM69.3,43.8a5.0,2.4 -18 1,0 9.6,-3.0a5.0,2.4 -18 1,0 -9.6,3.0zM134.6,23.4a8.2,3.1 -19 1,0 15.5,-5.4a8.2,3.1 -19 1,0 -15.5,5.4zM65.4,42.7a7.8,3.2 -12 1,0 15.3,-3.4a7.8,3.2 -12 1,0 -15.3,3.4z" fill="#de6cac" fill-opacity="0.55"/>
<path d="M133.2,23.1q2.9,-0.2 5.7,-1.8M13.2,30.5q2.9,-0.5 5.8,-1.8M112.2,38.9q7.4,-2.3 14.9,-5.3M87.7,33.0q3.4,-1.5 6.9,-2.1M11.1,37.7q4.3,-1.1 8.6,-2.1M33.2,18.8q5.2,-2.3 10.5,-5.1M140.2,8.5q6.4,-1.5 12.7,-4.3M68.2,52.9q4.3,-3.1 8.7,-4.6M128.7,40.8q4.2,-2.1 8.4,-2.9M56.1,53.1q6.9,-2.5 13.7,-4.0M28.1,26.0q4.5,-1.3 9.0,-2.2M28.6,36.4q3.4,-1.3 6.7,-2.3M132.2,34.0q2.8,-0.9 5.7,-1.1M66.3,44.5q2.5,-1.5 4.9,-1.3M54.9,21.8q4.7,-1.7 9.3,-4.8M60.5,47.7q3.9,-0.7 7.8,-3.1" stroke="#f0a8d0" stroke-width="1.1" stroke-opacity="0.75" fill="none"/>
<path d="M46.1,32.0q2.5,-1.7 5.1,-2.9M114.8,43.1q3.7,-1.9 7.4,-2.8M58.0,41.3q4.4,-0.8 8.8,-2.3M27.1,37.8q4.6,-1.8 9.1,-4.1M78.5,27.1q3.7,-1.5 7.4,-1.9M126.9,18.7q7.1,-1.5 14.2,-3.8M12.1,39.9q3.5,-0.3 7.1,-2.0M119.0,43.9q4.7,-2.2 9.4,-2.8M74.3,43.7q5.2,-0.8 10.4,-2.5M134.2,23.2q2.6,-1.2 5.2,-2.5M124.0,31.5q7.2,-2.4 14.3,-5.7M45.0,41.0q5.0,-1.2 10.0,-3.8M116.2,33.1q5.7,-0.8 11.3,-2.3M57.1,17.2q4.3,-2.3 8.6,-2.7M114.5,28.0q7.5,-3.2 14.9,-5.7M127.3,38.8q6.0,-2.0 12.0,-3.3M120.0,14.9q4.2,-2.0 8.4,-3.9M124.7,16.1q7.0,-2.9 13.9,-6.7M93.3,16.7q3.0,-1.4 6.0,-2.7M107.2,47.2q4.8,-1.4 9.6,-4.0M137.1,19.5q4.5,-2.0 8.9,-3.0M3.9,38.0q3.6,-2.1 7.2,-3.5M140.0,33.5q6.6,-3.9 13.2,-6.6M128.0,43.5q3.5,-1.0 6.9,-2.3" stroke="#f6cce4" stroke-width="0.6" stroke-opacity="0.75" fill="none"/>
<path d="M117.2,13.8q4.1,-1.8 8.1,-3.6M102.1,45.0q3.4,-0.1 6.7,-1.2M32.2,55.0q5.2,-2.7 10.4,-4.7M52.8,39.5q2.7,-0.5 5.5,-2.3M88.0,42.3q2.5,-0.6 5.0,-2.3M90.6,19.3q4.7,-2.5 9.5,-3.8M125.6,35.2q5.7,-3.5 11.3,-5.5M47.9,46.6q5.5,-3.4 11.0,-5.5M85.0,16.2q6.6,-3.4 13.1,-6.5M17.5,26.6q5.6,-1.6 11.2,-3.8M98.4,20.7q5.6,-1.6 11.1,-4.1M96.8,21.1q5.6,-2.0 11.2,-4.6M62.4,28.8q5.1,-1.5 10.2,-2.2" stroke="#f6cce4" stroke-width="1.1" stroke-opacity="0.75" fill="none"/>
<path d="M12.2,45.0q5.5,-2.5 11.0,-5.1M8.3,57.8q3.5,-1.7 7.1,-2.7M130.8,17.8q3.6,-1.7 7.2,-1.8M85.8,47.1q3.9,-2.1 7.9,-3.0M112.1,47.1q2.9,-1.0 5.8,-2.9M115.8,43.6q6.3,-2.0 12.6,-2.5M63.7,20.7q5.2,-2.2 10.4,-4.5M120.4,17.7q3.3,-2.7 6.7,-3.8M64.7,26.1q4.1,-1.9 8.1,-3.2M44.8,58.4q3.2,-1.3 6.5,-3.0M129.4,17.7q7.3,-2.1 14.5,-3.1M43.3,50.5q6.3,-2.1 12.5,-3.0M26.6,53.5q6.3,-2.5 12.6,-6.5M79.9,44.9q6.2,-0.4 12.4,-2.4M50.9,50.9q7.6,-1.3 15.2,-3.2M69.6,21.0q7.7,-2.6 15.4,-3.3M121.6,43.4q3.5,-1.7 7.0,-1.8M131.2,31.8q5.3,-1.1 10.6,-3.6" stroke="#de6cac" stroke-width="1.1" stroke-opacity="0.75" fill="none"/>
<path d="M29.8,52.2q4.2,-1.7 8.4,-3.0M19.8,63.0q6.7,-1.1 13.4,-2.5M110.9,41.2q5.3,-2.5 10.7,-3.7M74.2,27.8q5.0,-3.4 9.9,-5.0M133.6,39.7q5.9,-1.0 11.7,-2.2M66.7,25.5q4.9,-2.2 9.9,-3.8M114.1,17.6q2.7,-1.4 5.4,-2.7M-4.7,42.7q2.7,-0.6 5.4,-3.0M79.1,36.1q4.8,-1.4 9.6,-3.2M118.9,44.7q5.4,-2.5 10.9,-4.6" stroke="#de6cac" stroke-width="0.6" stroke-opacity="0.75" fill="none"/>
<path d="M25.7,36.4q3.8,-2.1 7.7,-3.5M58.3,30.4q4.1,-2.3 8.2,-2.7M79.6,44.8q4.6,-2.5 9.1,-4.1M43.2,41.7q6.9,-2.8 13.8,-4.4M5.9,51.8q6.0,-3.3 12.0,-4.9M5.1,46.9q3.5,-0.3 6.9,-1.8M135.1,24.8q4.7,-1.9 9.4,-5.2M3.5,34.6q7.5,-2.1 14.9,-3.2M24.7,39.2q5.4,-2.5 10.8,-3.5" stroke="#f0a8d0" stroke-width="0.6" stroke-opacity="0.75" fill="none"/>
<clipPath id="fc5"><path d="M0.0,69.0 C2.5,68.5 8.4,67.3 15.0,66.0 C21.6,64.7 32.4,62.5 39.9,61.0 C47.4,59.5 52.7,58.5 60.0,57.0 C67.3,55.5 76.1,53.2 83.6,52.0 C91.1,50.8 98.1,50.8 105.0,50.0 C111.9,49.2 118.6,47.8 125.0,47.0 C131.4,46.2 140.2,45.3 143.2,45.0 L143.2,101.8 L0,101.8 Z"/></clipPath>
<g clip-path="url(#fc5)">
<rect x="0" y="0" width="143.2" height="101.8" fill="#f2eff3"/>
<path d="M-5.2,37.1a5.5,4.7 -19 1,0 10.4,-3.5a5.5,4.7 -19 1,0 -10.4,3.5zM3.3,37.6a5.4,4.7 -13 1,0 10.5,-2.5a5.4,4.7 -13 1,0 -10.5,2.5zM13.6,37.7a4.7,4.8 -30 1,0 8.2,-4.7a4.7,4.8 -30 1,0 -8.2,4.7zM21.2,36.0a5.3,4.4 9 1,0 10.5,1.7a5.3,4.4 9 1,0 -10.5,-1.7zM40.7,33.7a5.2,4.7 15 1,0 10.1,2.7a5.2,4.7 15 1,0 -10.1,-2.7zM68.6,32.9a4.8,4.5 21 1,0 9.0,3.5a4.8,4.5 21 1,0 -9.0,-3.5zM75.3,34.7a4.8,4.4 19 1,0 9.0,3.0a4.8,4.4 19 1,0 -9.0,-3.0zM85.6,35.0a5.3,4.1 -3 1,0 10.6,-0.5a5.3,4.1 -3 1,0 -10.6,0.5zM94.4,34.7a4.9,4.7 4 1,0 9.7,0.6a4.9,4.7 4 1,0 -9.7,-0.6zM104.7,33.8a5.5,4.6 17 1,0 10.4,3.2a5.5,4.6 17 1,0 -10.4,-3.2zM143.5,36.5a5.0,4.5 -22 1,0 9.2,-3.7a5.0,4.5 -22 1,0 -9.2,3.7zM0.1,43.2a4.8,4.4 17 1,0 9.1,2.7a4.8,4.4 17 1,0 -9.1,-2.7zM9.2,43.1a5.1,4.3 0 1,0 10.1,0.1a5.1,4.3 0 1,0 -10.1,-0.1zM18.8,46.3a4.8,4.6 -17 1,0 9.2,-2.8a4.8,4.6 -17 1,0 -9.2,2.8zM55.5,44.5a4.9,4.3 -18 1,0 9.3,-2.9a4.9,4.3 -18 1,0 -9.3,2.9zM64.7,42.0a4.9,4.9 29 1,0 8.5,4.7a4.9,4.9 29 1,0 -8.5,-4.7zM91.9,46.8a4.9,4.6 -30 1,0 8.5,-4.9a4.9,4.6 -30 1,0 -8.5,4.9zM109.3,41.6a4.9,4.2 20 1,0 9.2,3.4a4.9,4.2 20 1,0 -9.2,-3.4zM126.1,41.9a5.1,4.2 29 1,0 8.9,4.9a5.1,4.2 29 1,0 -8.9,-4.9zM137.4,45.7a5.1,4.1 -24 1,0 9.3,-4.2a5.1,4.1 -24 1,0 -9.3,4.2zM145.7,43.0a5.3,4.8 4 1,0 10.6,0.8a5.3,4.8 4 1,0 -10.6,-0.8zM-4.4,49.1a5.1,4.5 29 1,0 8.8,4.9a5.1,4.5 29 1,0 -8.8,-4.9zM40.0,51.5a5.2,4.8 11 1,0 10.2,2.1a5.2,4.8 11 1,0 -10.2,-2.1zM76.2,50.8a5.4,4.0 15 1,0 10.5,2.9a5.4,4.0 15 1,0 -10.5,-2.9zM104.9,49.4a5.4,4.6 12 1,0 10.6,2.2a5.4,4.6 12 1,0 -10.6,-2.2zM132.2,53.3a5.3,4.4 -19 1,0 10.1,-3.5a5.3,4.4 -19 1,0 -10.1,3.5zM8.6,60.7a5.0,4.8 -12 1,0 9.8,-2.2a5.0,4.8 -12 1,0 -9.8,2.2zM28.1,56.4a5.6,4.2 23 1,0 10.2,4.4a5.6,4.2 23 1,0 -10.2,-4.4zM65.6,56.5a5.4,4.8 16 1,0 10.4,3.0a5.4,4.8 16 1,0 -10.4,-3.0zM72.7,55.8a5.2,4.2 25 1,0 9.4,4.4a5.2,4.2 25 1,0 -9.4,-4.4zM94.3,60.2a4.8,4.4 -26 1,0 8.7,-4.2a4.8,4.4 -26 1,0 -8.7,4.2zM102.0,58.9a5.1,4.2 -0 1,0 10.3,-0.0a5.1,4.2 -0 1,0 -10.3,0.0zM-13.6,66.4a5.0,4.2 21 1,0 9.4,3.6a5.0,4.2 21 1,0 -9.4,-3.6zM-5.8,68.3a4.7,4.3 -10 1,0 9.3,-1.7a4.7,4.3 -10 1,0 -9.3,1.7zM3.5,65.4a5.5,4.4 21 1,0 10.2,3.9a5.5,4.4 21 1,0 -10.2,-3.9zM14.2,69.4a5.2,4.6 -25 1,0 9.4,-4.4a5.2,4.6 -25 1,0 -9.4,4.4zM23.8,66.3a5.4,4.4 2 1,0 10.7,0.4a5.4,4.4 2 1,0 -10.7,-0.4zM42.4,65.4a5.6,4.4 12 1,0 10.9,2.3a5.6,4.4 12 1,0 -10.9,-2.3zM48.9,66.9a5.3,4.5 7 1,0 10.5,1.2a5.3,4.5 7 1,0 -10.5,-1.2zM77.3,67.8a5.4,4.8 -19 1,0 10.1,-3.6a5.4,4.8 -19 1,0 -10.1,3.6zM105.7,68.1a4.9,4.3 -22 1,0 9.2,-3.6a4.9,4.3 -22 1,0 -9.2,3.6zM114.5,66.2a5.4,4.2 -3 1,0 10.7,-0.7a5.4,4.2 -3 1,0 -10.7,0.7zM-9.2,77.0a5.5,4.4 -24 1,0 10.1,-4.4a5.5,4.4 -24 1,0 -10.1,4.4zM0.7,77.2a4.8,4.4 -20 1,0 9.1,-3.3a4.8,4.4 -20 1,0 -9.1,3.3zM10.3,72.8a4.9,4.2 24 1,0 9.0,4.1a4.9,4.2 24 1,0 -9.0,-4.1zM74.1,78.0a5.4,4.3 -24 1,0 9.9,-4.5a5.4,4.3 -24 1,0 -9.9,4.5zM111.7,73.7a5.0,4.4 14 1,0 9.8,2.4a5.0,4.4 14 1,0 -9.8,-2.4zM139.1,74.8a5.2,4.7 9 1,0 10.3,1.7a5.2,4.7 9 1,0 -10.3,-1.7zM-12.6,83.4a4.8,4.4 -5 1,0 9.6,-0.8a4.8,4.4 -5 1,0 -9.6,0.8zM-3.2,82.3a4.8,4.5 17 1,0 9.2,2.9a4.8,4.5 17 1,0 -9.2,-2.9zM22.3,83.7a4.8,4.2 -24 1,0 8.8,-3.9a4.8,4.2 -24 1,0 -8.8,3.9zM38.7,85.3a5.3,4.4 -19 1,0 10.0,-3.4a5.3,4.4 -19 1,0 -10.0,3.4zM47.6,80.8a4.9,4.7 3 1,0 9.8,0.5a4.9,4.7 3 1,0 -9.8,-0.5zM58.5,81.1a4.7,4.2 23 1,0 8.8,3.7a4.7,4.2 23 1,0 -8.8,-3.7zM76.0,81.7a5.2,4.6 7 1,0 10.3,1.3a5.2,4.6 7 1,0 -10.3,-1.3zM95.2,83.9a5.5,4.3 -3 1,0 11.0,-0.6a5.5,4.3 -3 1,0 -11.0,0.6zM114.1,79.8a5.3,4.1 20 1,0 10.1,3.6a5.3,4.1 20 1,0 -10.1,-3.6zM122.7,82.8a5.0,4.8 -13 1,0 9.8,-2.2a5.0,4.8 -13 1,0 -9.8,2.2zM141.3,82.0a5.5,4.2 5 1,0 10.9,0.9a5.5,4.2 5 1,0 -10.9,-0.9zM-0.8,91.0a5.4,4.7 -3 1,0 10.7,-0.6a5.4,4.7 -3 1,0 -10.7,0.6zM10.0,91.1a5.0,4.8 4 1,0 10.0,0.6a5.0,4.8 4 1,0 -10.0,-0.6zM57.1,90.8a5.4,4.3 -10 1,0 10.6,-1.9a5.4,4.3 -10 1,0 -10.6,1.9zM130.5,91.0a5.5,4.1 -0 1,0 10.9,-0.1a5.5,4.1 -0 1,0 -10.9,0.1zM-4.5,99.4a4.7,4.6 1 1,0 9.5,0.1a4.7,4.6 1 1,0 -9.5,-0.1zM13.2,97.3a4.8,4.2 23 1,0 8.9,3.8a4.8,4.2 23 1,0 -8.9,-3.8zM22.2,97.7a4.8,4.1 -15 1,0 9.3,-2.5a4.8,4.1 -15 1,0 -9.3,2.5zM32.5,99.0a5.0,4.5 1 1,0 10.0,0.1a5.0,4.5 1 1,0 -10.0,-0.1zM66.4,98.4a5.6,4.3 1 1,0 11.2,0.2a5.6,4.3 1 1,0 -11.2,-0.2zM85.7,101.2a5.1,4.3 -30 1,0 8.8,-5.0a5.1,4.3 -30 1,0 -8.8,5.0zM133.1,98.1a5.2,4.2 8 1,0 10.3,1.4a5.2,4.2 8 1,0 -10.3,-1.4zM140.9,98.4a4.8,4.8 4 1,0 9.6,0.7a4.8,4.8 4 1,0 -9.6,-0.7zM-2.2,105.5a5.5,4.1 -3 1,0 11.0,-0.6a5.5,4.1 -3 1,0 -11.0,0.6zM65.6,106.6a5.0,4.4 4 1,0 9.9,0.7a5.0,4.4 4 1,0 -9.9,-0.7zM72.5,108.5a5.3,4.3 -14 1,0 10.4,-2.7a5.3,4.3 -14 1,0 -10.4,2.7zM83.8,106.7a5.2,4.4 -17 1,0 10.0,-3.0a5.2,4.4 -17 1,0 -10.0,3.0zM101.2,106.9a5.0,4.4 -5 1,0 10.0,-0.9a5.0,4.4 -5 1,0 -10.0,0.9zM128.6,104.0a5.4,4.4 15 1,0 10.4,2.8a5.4,4.4 15 1,0 -10.4,-2.8zM140.5,104.8a5.1,4.3 18 1,0 9.7,3.2a5.1,4.3 18 1,0 -9.7,-3.2z" fill="none" stroke="#e88ec2" stroke-width="0.84" stroke-opacity="0.8"/>
<path d="M-14.7,35.2a4.9,4.8 21 1,0 9.1,3.5a4.9,4.8 21 1,0 -9.1,-3.5zM31.1,38.8a5.0,4.3 -21 1,0 9.4,-3.6a5.0,4.3 -21 1,0 -9.4,3.6zM49.8,34.4a5.4,4.8 25 1,0 9.8,4.5a5.4,4.8 25 1,0 -9.8,-4.5zM57.9,36.1a5.3,4.0 -6 1,0 10.6,-1.1a5.3,4.0 -6 1,0 -10.6,1.1zM115.2,34.2a5.1,4.3 14 1,0 10.0,2.5a5.1,4.3 14 1,0 -10.0,-2.5zM123.3,34.7a5.2,4.2 21 1,0 9.8,3.8a5.2,4.2 21 1,0 -9.8,-3.8zM133.1,38.6a5.3,4.6 -16 1,0 10.1,-2.9a5.3,4.6 -16 1,0 -10.1,2.9zM-8.8,41.4a5.6,4.2 21 1,0 10.4,4.0a5.6,4.2 21 1,0 -10.4,-4.0zM26.5,45.2a5.3,4.8 -10 1,0 10.5,-1.8a5.3,4.8 -10 1,0 -10.5,1.8zM33.3,44.3a5.5,4.1 5 1,0 11.0,1.1a5.5,4.1 5 1,0 -11.0,-1.1zM46.0,44.3a5.4,4.1 9 1,0 10.6,1.7a5.4,4.1 9 1,0 -10.6,-1.7zM71.0,42.8a5.6,4.6 10 1,0 10.9,2.0a5.6,4.6 10 1,0 -10.9,-2.0zM80.3,43.2a5.0,4.1 15 1,0 9.6,2.5a5.0,4.1 15 1,0 -9.6,-2.5zM99.2,42.3a5.3,4.1 2 1,0 10.6,0.3a5.3,4.1 2 1,0 -10.6,-0.3zM117.4,44.2a5.3,4.8 -20 1,0 9.9,-3.6a5.3,4.8 -20 1,0 -9.9,3.6zM-14.9,53.6a5.0,4.0 -25 1,0 9.0,-4.3a5.0,4.0 -25 1,0 -9.0,4.3zM5.9,53.2a4.8,4.5 -10 1,0 9.5,-1.7a4.8,4.5 -10 1,0 -9.5,1.7zM13.8,50.8a4.8,4.5 26 1,0 8.6,4.3a4.8,4.5 26 1,0 -8.6,-4.3zM21.3,50.9a5.5,4.9 5 1,0 11.0,0.9a5.5,4.9 5 1,0 -11.0,-0.9zM31.9,52.6a5.2,4.2 -22 1,0 9.6,-3.9a5.2,4.2 -22 1,0 -9.6,3.9zM49.4,50.7a5.3,4.8 6 1,0 10.6,1.0a5.3,4.8 6 1,0 -10.6,-1.0zM56.9,51.3a5.6,4.8 12 1,0 10.9,2.3a5.6,4.8 12 1,0 -10.9,-2.3zM68.7,51.4a4.9,4.5 4 1,0 9.7,0.6a4.9,4.5 4 1,0 -9.7,-0.6zM85.8,51.9a5.4,4.4 -4 1,0 10.8,-0.7a5.4,4.4 -4 1,0 -10.8,0.7zM94.8,51.2a5.2,4.8 -6 1,0 10.3,-1.1a5.2,4.8 -6 1,0 -10.3,1.1zM115.1,50.8a5.4,4.7 -3 1,0 10.8,-0.5a5.4,4.7 -3 1,0 -10.8,0.5zM124.6,49.4a4.9,4.0 16 1,0 9.5,2.7a4.9,4.0 16 1,0 -9.5,-2.7zM142.5,51.4a4.8,4.3 7 1,0 9.5,1.1a4.8,4.3 7 1,0 -9.5,-1.1zM-10.5,56.8a5.5,4.5 17 1,0 10.6,3.2a5.5,4.5 17 1,0 -10.6,-3.2zM0.7,59.0a5.0,4.0 7 1,0 9.8,1.3a5.0,4.0 7 1,0 -9.8,-1.3zM17.2,59.8a5.5,4.3 -18 1,0 10.5,-3.4a5.5,4.3 -18 1,0 -10.5,3.4zM37.0,61.9a5.2,4.7 -21 1,0 9.8,-3.8a5.2,4.7 -21 1,0 -9.8,3.8zM44.9,59.7a5.5,4.3 -6 1,0 11.0,-1.1a5.5,4.3 -6 1,0 -11.0,1.1zM54.8,60.2a5.2,4.1 -27 1,0 9.3,-4.7a5.2,4.1 -27 1,0 -9.3,4.7zM81.7,59.1a5.3,4.3 -6 1,0 10.6,-1.2a5.3,4.3 -6 1,0 -10.6,1.2zM112.6,59.3a4.8,4.3 -7 1,0 9.6,-1.2a4.8,4.3 -7 1,0 -9.6,1.2zM121.2,56.5a5.5,4.7 28 1,0 9.7,5.2a5.5,4.7 28 1,0 -9.7,-5.2zM130.4,56.7a5.0,4.7 24 1,0 9.1,4.1a5.0,4.7 24 1,0 -9.1,-4.1zM139.8,61.6a5.0,4.0 -19 1,0 9.5,-3.3a5.0,4.0 -19 1,0 -9.5,3.3zM32.6,64.5a5.0,4.5 14 1,0 9.6,2.5a5.0,4.5 14 1,0 -9.6,-2.5zM59.9,68.6a5.1,4.1 -19 1,0 9.6,-3.2a5.1,4.1 -19 1,0 -9.6,3.2zM70.5,65.2a4.7,4.3 10 1,0 9.2,1.7a4.7,4.3 10 1,0 -9.2,-1.7zM86.0,66.7a4.8,4.2 -4 1,0 9.7,-0.7a4.8,4.2 -4 1,0 -9.7,0.7zM97.2,66.5a5.0,4.4 -11 1,0 9.8,-2.0a5.0,4.4 -11 1,0 -9.8,2.0zM123.6,66.9a5.4,4.3 1 1,0 10.8,0.2a5.4,4.3 1 1,0 -10.8,-0.2zM133.5,67.0a4.9,4.4 -1 1,0 9.8,-0.2a4.9,4.4 -1 1,0 -9.8,0.2zM140.9,65.4a4.8,4.0 22 1,0 8.9,3.6a4.8,4.0 22 1,0 -8.9,-3.6zM19.4,74.1a4.8,4.3 10 1,0 9.5,1.7a4.8,4.3 10 1,0 -9.5,-1.7zM27.4,74.9a5.4,4.5 -17 1,0 10.3,-3.2a5.4,4.5 -17 1,0 -10.3,3.2zM38.8,73.0a5.2,4.9 27 1,0 9.3,4.7a5.2,4.9 27 1,0 -9.3,-4.7zM46.7,75.8a5.3,4.3 -18 1,0 10.1,-3.3a5.3,4.3 -18 1,0 -10.1,3.3zM54.3,75.5a5.1,4.8 -5 1,0 10.1,-0.9a5.1,4.8 -5 1,0 -10.1,0.9zM66.0,71.1a5.0,4.4 28 1,0 8.8,4.7a5.0,4.4 28 1,0 -8.8,-4.7zM81.5,75.6a5.5,4.2 -14 1,0 10.7,-2.7a5.5,4.2 -14 1,0 -10.7,2.7zM91.8,77.0a4.7,4.5 -24 1,0 8.6,-3.7a4.7,4.5 -24 1,0 -8.6,3.7zM101.5,72.9a4.8,4.5 16 1,0 9.2,2.7a4.8,4.5 16 1,0 -9.2,-2.7zM117.9,71.4a5.5,4.5 23 1,0 10.1,4.2a5.5,4.5 23 1,0 -10.1,-4.2zM129.8,71.7a5.3,4.3 29 1,0 9.3,5.1a5.3,4.3 29 1,0 -9.3,-5.1zM5.5,80.1a5.0,4.5 14 1,0 9.6,2.3a5.0,4.5 14 1,0 -9.6,-2.3zM11.8,83.1a5.0,4.5 5 1,0 10.0,0.8a5.0,4.5 5 1,0 -10.0,-0.8zM29.8,82.3a5.3,4.2 -9 1,0 10.6,-1.7a5.3,4.2 -9 1,0 -10.6,1.7zM67.6,82.7a5.3,4.6 -4 1,0 10.5,-0.8a5.3,4.6 -4 1,0 -10.5,0.8zM87.0,83.7a5.2,4.4 -21 1,0 9.7,-3.7a5.2,4.4 -21 1,0 -9.7,3.7zM104.5,82.0a5.1,4.7 0 1,0 10.2,0.1a5.1,4.7 0 1,0 -10.2,-0.1zM134.5,81.7a4.7,4.3 -8 1,0 9.4,-1.4a4.7,4.3 -8 1,0 -9.4,1.4zM-9.2,89.9a5.4,4.1 18 1,0 10.2,3.2a5.4,4.1 18 1,0 -10.2,-3.2zM18.1,89.6a5.0,4.3 17 1,0 9.6,2.9a5.0,4.3 17 1,0 -9.6,-2.9zM27.6,91.1a4.9,4.0 -1 1,0 9.8,-0.2a4.9,4.0 -1 1,0 -9.8,0.2zM36.0,89.6a5.1,4.8 2 1,0 10.3,0.4a5.1,4.8 2 1,0 -10.3,-0.4zM47.8,87.7a4.8,4.1 20 1,0 9.1,3.4a4.8,4.1 20 1,0 -9.1,-3.4zM66.5,91.1a5.1,4.3 -13 1,0 10.0,-2.2a5.1,4.3 -13 1,0 -10.0,2.2zM75.5,92.3a5.3,4.4 -15 1,0 10.3,-2.8a5.3,4.4 -15 1,0 -10.3,2.8zM85.6,89.0a4.8,4.1 7 1,0 9.5,1.2a4.8,4.1 7 1,0 -9.5,-1.2zM92.7,90.7a5.4,4.4 -15 1,0 10.5,-2.8a5.4,4.4 -15 1,0 -10.5,2.8zM102.7,88.8a5.0,4.1 27 1,0 8.9,4.5a5.0,4.1 27 1,0 -8.9,-4.5zM111.2,89.6a4.8,4.1 6 1,0 9.6,1.1a4.8,4.1 6 1,0 -9.6,-1.1zM122.5,92.1a5.4,4.1 -24 1,0 9.9,-4.3a5.4,4.1 -24 1,0 -9.9,4.3zM138.2,89.8a5.4,4.8 4 1,0 10.8,0.7a5.4,4.8 4 1,0 -10.8,-0.7zM-12.9,95.6a5.2,4.4 23 1,0 9.5,4.0a5.2,4.4 23 1,0 -9.5,-4.0zM4.8,100.1a4.8,4.8 -13 1,0 9.4,-2.1a4.8,4.8 -13 1,0 -9.4,2.1zM40.3,97.0a5.5,4.4 26 1,0 9.8,4.8a5.5,4.4 26 1,0 -9.8,-4.8zM50.3,100.5a5.3,4.1 -18 1,0 10.2,-3.2a5.3,4.1 -18 1,0 -10.2,3.2zM57.6,96.6a4.8,4.2 23 1,0 8.9,3.8a4.8,4.2 23 1,0 -8.9,-3.8zM77.9,100.4a5.2,4.8 -12 1,0 10.1,-2.1a5.2,4.8 -12 1,0 -10.1,2.1zM94.1,98.2a5.2,4.0 -7 1,0 10.4,-1.2a5.2,4.0 -7 1,0 -10.4,1.2zM105.3,98.3a5.0,4.6 11 1,0 9.7,1.9a5.0,4.6 11 1,0 -9.7,-1.9zM114.4,97.4a5.2,4.1 2 1,0 10.4,0.4a5.2,4.1 2 1,0 -10.4,-0.4zM122.0,97.8a4.8,4.3 -14 1,0 9.3,-2.4a4.8,4.3 -14 1,0 -9.3,2.4zM-11.1,107.3a5.5,4.3 -7 1,0 10.9,-1.4a5.5,4.3 -7 1,0 -10.9,1.4zM9.9,108.2a4.9,4.0 -20 1,0 9.2,-3.4a4.9,4.0 -20 1,0 -9.2,3.4zM18.1,103.7a5.6,4.3 20 1,0 10.5,3.7a5.6,4.3 20 1,0 -10.5,-3.7zM25.0,107.0a5.5,4.7 -16 1,0 10.6,-3.0a5.5,4.7 -16 1,0 -10.6,3.0zM37.9,107.8a4.9,4.0 -30 1,0 8.5,-4.8a4.9,4.0 -30 1,0 -8.5,4.8zM46.9,106.6a4.9,4.2 -4 1,0 9.9,-0.6a4.9,4.2 -4 1,0 -9.9,0.6zM54.2,107.2a5.3,4.4 -15 1,0 10.2,-2.7a5.3,4.4 -15 1,0 -10.2,2.7zM92.9,106.2a5.2,4.3 8 1,0 10.2,1.5a5.2,4.3 8 1,0 -10.2,-1.5zM110.7,104.6a4.9,4.5 -2 1,0 9.8,-0.3a4.9,4.5 -2 1,0 -9.8,0.3zM121.5,108.0a5.5,4.7 -15 1,0 10.7,-2.9a5.5,4.7 -15 1,0 -10.7,2.9z" fill="none" stroke="#e88ec2" stroke-width="1.33" stroke-opacity="0.8"/>
<path d="M76.0,37.4a1.4,1.2 0 1,0 2.8,0.0a1.4,1.2 0 1,0 -2.8,-0.0zM141.3,39.8a1.6,0.9 0 1,0 3.2,0.0a1.6,0.9 0 1,0 -3.2,-0.0zM76.3,54.3a1.6,1.6 0 1,0 3.2,0.0a1.6,1.6 0 1,0 -3.2,-0.0zM141.1,54.2a1.0,1.4 0 1,0 2.0,0.0a1.0,1.4 0 1,0 -2.0,-0.0zM62.8,60.3a1.4,1.1 0 1,0 2.8,0.0a1.4,1.1 0 1,0 -2.8,-0.0zM90.2,61.1a1.6,1.2 0 1,0 3.2,0.0a1.6,1.2 0 1,0 -3.2,-0.0zM129.8,61.9a1.2,1.6 0 1,0 2.3,0.0a1.2,1.6 0 1,0 -2.3,-0.0zM51.3,69.1a1.6,1.3 0 1,0 3.1,0.0a1.6,1.3 0 1,0 -3.1,-0.0zM132.6,69.5a1.3,1.4 0 1,0 2.6,0.0a1.3,1.4 0 1,0 -2.6,-0.0zM140.4,69.5a2.4,1.1 0 1,0 4.8,0.0a2.4,1.1 0 1,0 -4.8,-0.0zM146.9,78.5a2.0,1.2 0 1,0 4.0,0.0a2.0,1.2 0 1,0 -4.0,-0.0zM-5.0,85.6a1.5,1.1 0 1,0 3.0,0.0a1.5,1.1 0 1,0 -3.0,-0.0zM28.7,84.3a2.3,1.1 0 1,0 4.6,0.0a2.3,1.1 0 1,0 -4.6,-0.0zM75.6,85.1a2.0,1.3 0 1,0 4.1,0.0a2.0,1.3 0 1,0 -4.1,-0.0zM94.3,84.4a2.2,1.2 0 1,0 4.4,0.0a2.2,1.2 0 1,0 -4.4,-0.0zM103.9,86.2a1.8,1.5 0 1,0 3.5,0.0a1.8,1.5 0 1,0 -3.5,-0.0zM112.4,84.8a1.7,0.7 0 1,0 3.5,0.0a1.7,0.7 0 1,0 -3.5,-0.0zM101.2,91.9a1.6,1.1 0 1,0 3.2,0.0a1.6,1.1 0 1,0 -3.2,-0.0zM118.9,92.6a1.3,1.0 0 1,0 2.7,0.0a1.3,1.0 0 1,0 -2.7,-0.0zM139.3,93.4a1.5,0.8 0 1,0 3.0,0.0a1.5,0.8 0 1,0 -3.0,-0.0zM48.8,102.0a1.3,0.9 0 1,0 2.6,0.0a1.3,0.9 0 1,0 -2.6,-0.0zM58.5,101.4a1.8,1.2 0 1,0 3.5,0.0a1.8,1.2 0 1,0 -3.5,-0.0zM93.4,101.2a1.3,1.0 0 1,0 2.6,0.0a1.3,1.0 0 1,0 -2.6,-0.0zM136.3,108.0a2.4,1.3 0 1,0 4.8,0.0a2.4,1.3 0 1,0 -4.8,-0.0z" fill="#e88ec2" fill-opacity="0.8"/>
<path d="M0.0,69.0 C2.5,68.5 8.4,67.3 15.0,66.0 C21.6,64.7 32.4,62.5 39.9,61.0 C47.4,59.5 52.7,58.5 60.0,57.0 C67.3,55.5 76.1,53.2 83.6,52.0 C91.1,50.8 98.1,50.8 105.0,50.0 C111.9,49.2 118.6,47.8 125.0,47.0 C131.4,46.2 140.2,45.3 143.2,45.0" stroke="#e886bc" stroke-width="5" stroke-opacity="0.55" fill="none"/>
</g>
<g transform="rotate(0 134 35)"><ellipse cx="134" cy="35" rx="6.5" ry="6" fill="#dca8d2" fill-opacity="0.85"/>
<path d="M134.3,29.5h.01M134.2,35.9h.01M136.1,36.5h.01M131.1,39.7h.01M130.3,32.5h.01M138.3,37.2h.01M131.9,38.9h.01M135.8,37.2h.01M132.2,35.0h.01M133.3,30.4h.01M136.5,32.4h.01M131.7,29.5h.01M132.5,37.5h.01M131.2,39.9h.01M136.4,39.2h.01M135.3,34.1h.01M138.7,37.9h.01M133.1,38.9h.01M132.9,32.0h.01" stroke="#5c3084" stroke-opacity="0.6" stroke-width="0.9" stroke-linecap="round" fill="none"/>
</g>
<path d="M20,61 Q39.8,41.2 59.6,21.5" stroke="#a656ae" stroke-width="8" stroke-linecap="round" fill="none" stroke-opacity="0.88"/>
<path d="M20,61 Q39.8,41.2 59.6,21.5" stroke="#f0c4de" stroke-width="3" stroke-linecap="round" fill="none"/>
<path d="M47.3,37.9h.01M31.2,53.0h.01M32.1,54.3h.01M17.5,58.3h.01M55.1,29.2h.01M27.4,58.1h.01M40.8,43.1h.01M40.5,45.3h.01M50.1,28.7h.01M27.6,48.5h.01M28.5,48.0h.01M27.8,48.5h.01M60.8,24.2h.01M51.6,33.9h.01M59.6,26.4h.01M56.7,18.9h.01M24.4,52.1h.01M22.5,61.6h.01M47.3,36.2h.01M24.6,61.1h.01M51.0,35.7h.01M57.6,28.5h.01M26.3,56.9h.01M19.4,57.2h.01M21.0,55.3h.01M25.1,58.7h.01M50.3,35.3h.01M43.0,33.1h.01M54.2,23.2h.01M23.9,54.8h.01M21.9,55.8h.01M27.4,49.1h.01M56.7,21.5h.01M24.0,62.4h.01M20.7,57.7h.01M43.5,42.8h.01M39.4,44.8h.01M28.0,56.9h.01M24.3,59.2h.01M27.4,50.7h.01M48.8,28.2h.01M31.7,54.5h.01M39.0,47.5h.01M61.8,24.0h.01M60.4,23.1h.01M40.1,38.0h.01M24.0,54.3h.01M26.9,58.0h.01M21.1,54.3h.01M39.0,47.2h.01M54.6,29.6h.01M42.6,41.3h.01M24.6,51.0h.01M30.5,55.1h.01M58.1,20.5h.01M52.4,23.9h.01M39.4,38.7h.01M43.8,33.0h.01M50.8,25.6h.01" stroke="#5c3084" stroke-opacity="0.55" stroke-width="0.9" stroke-linecap="round" fill="none"/>
<path d="M61.7,50 Q77.1,39.0 92.4,28" stroke="#a050aa" stroke-width="10" stroke-linecap="round" fill="none" stroke-opacity="0.88"/>
<path d="M61.7,50 Q77.1,39.0 92.4,28" stroke="#f2bcd8" stroke-width="3.6" stroke-linecap="round" fill="none"/>
<path d="M62.4,46.8h.01M92.5,31.6h.01M63.8,46.1h.01M66.2,51.4h.01M73.7,38.4h.01M85.5,38.8h.01M65.1,43.1h.01M77.6,34.8h.01M89.9,35.1h.01M93.2,33.1h.01M83.6,36.7h.01M67.4,41.0h.01M80.2,31.2h.01M85.9,30.4h.01M65.3,52.5h.01M79.5,34.9h.01M67.5,50.9h.01M82.6,31.8h.01M70.2,40.7h.01M76.4,42.9h.01M66.1,42.6h.01M83.3,38.9h.01M71.3,40.7h.01M85.1,38.8h.01M78.9,32.6h.01M89.7,25.2h.01M89.2,24.8h.01M79.2,33.7h.01M72.8,45.7h.01M85.2,37.3h.01M73.3,37.4h.01M71.3,37.0h.01M76.1,45.3h.01M75.2,44.5h.01M91.0,33.5h.01M71.5,37.0h.01M78.5,32.3h.01M60.7,46.3h.01M82.1,38.2h.01M94.1,30.7h.01M66.0,44.5h.01M73.2,44.0h.01M65.7,52.9h.01M65.7,42.2h.01M72.8,44.7h.01M64.5,45.3h.01M81.4,40.4h.01M80.6,31.7h.01M84.9,37.1h.01M75.2,46.2h.01M85.6,37.6h.01M81.7,31.5h.01M80.8,39.6h.01M86.6,28.5h.01M65.9,49.5h.01M79.4,42.7h.01" stroke="#5c3084" stroke-opacity="0.55" stroke-width="0.9" stroke-linecap="round" fill="none"/>
<path d="M99,58.7 Q111.0,46.7 123,34.6" stroke="#a252aa" stroke-width="8" stroke-linecap="round" fill="none" stroke-opacity="0.88"/>
<path d="M99,58.7 Q111.0,46.7 123,34.6" stroke="#e06cac" stroke-width="1.5" stroke-linecap="round" fill="none"/>
<path d="M122.0,40.1h.01M106.2,47.2h.01M110.4,42.7h.01M115.4,47.4h.01M121.5,40.5h.01M97.7,54.9h.01M115.7,36.7h.01M103.3,57.1h.01M108.0,44.8h.01M111.3,50.1h.01M114.8,47.5h.01M114.3,40.5h.01M107.4,44.7h.01M107.1,45.3h.01M118.5,40.7h.01M118.4,37.2h.01M116.4,46.0h.01M108.6,53.0h.01M101.0,54.9h.01M98.2,56.1h.01M101.3,53.3h.01M119.7,41.2h.01M98.0,55.0h.01M124.4,36.9h.01M121.0,33.6h.01M105.8,47.5h.01M113.9,40.7h.01M114.4,46.3h.01M100.0,54.6h.01M112.5,39.7h.01M116.7,44.5h.01M119.4,32.7h.01M109.5,43.0h.01M111.5,47.9h.01M119.5,36.7h.01M121.4,40.6h.01M110.0,52.8h.01M108.0,44.4h.01M113.1,39.4h.01M118.5,33.7h.01M101.2,58.9h.01M110.4,51.0h.01M100.1,59.5h.01M112.4,46.4h.01M105.4,53.8h.01M101.5,58.2h.01M113.1,48.2h.01M114.9,38.7h.01M110.0,52.6h.01M116.2,40.1h.01" stroke="#5c3084" stroke-opacity="0.55" stroke-width="0.9" stroke-linecap="round" fill="none"/>
<path d="M0,54 Q4.5,48.5 9,43" stroke="#a858b0" stroke-width="5" stroke-linecap="round" fill="none" stroke-opacity="0.88"/>
<path d="M6.7,44.3h.01M5.6,47.6h.01M3.3,46.3h.01M3.9,46.0h.01M2.9,50.5h.01M-1.6,52.4h.01M3.0,50.4h.01M2.5,47.2h.01M9.1,43.4h.01M3.2,50.6h.01M4.3,46.4h.01M3.8,51.3h.01M5.7,44.3h.01M0.9,53.5h.01M7.5,44.0h.01" stroke="#5c3084" stroke-opacity="0.55" stroke-width="0.9" stroke-linecap="round" fill="none"/>
<path d="M18,87 Q28.9,79.4 39.9,71.8" stroke="#9a44a4" stroke-width="8" stroke-linecap="round" fill="none" stroke-opacity="0.88"/>
<path d="M39.7,74.3h.01M31.3,77.3h.01M18.1,85.8h.01M22.1,80.1h.01M22.9,83.4h.01M35.2,73.6h.01M19.3,84.5h.01M27.0,80.3h.01M19.9,88.9h.01M34.7,76.1h.01M34.3,78.3h.01M16.5,83.2h.01M18.4,84.5h.01M29.8,74.7h.01M29.6,76.5h.01M26.0,82.2h.01M39.0,72.7h.01M26.3,77.1h.01M38.7,70.5h.01M20.1,81.6h.01M33.1,80.4h.01M19.0,82.6h.01M38.1,74.0h.01M30.2,75.5h.01M19.9,86.1h.01M24.7,83.7h.01M28.6,83.6h.01M23.0,87.0h.01M32.4,78.6h.01M37.3,74.2h.01M27.9,82.5h.01M37.7,71.2h.01M22.8,81.3h.01M35.2,79.3h.01M34.5,80.2h.01M27.9,81.0h.01M34.8,77.8h.01M37.8,77.5h.01M29.7,82.5h.01M20.6,84.3h.01M22.8,79.3h.01M26.1,82.2h.01M21.1,87.7h.01M39.9,73.6h.01M23.7,82.4h.01M34.8,80.0h.01" stroke="#5c3084" stroke-opacity="0.55" stroke-width="0.9" stroke-linecap="round" fill="none"/>
<path d="M39.9,91.5 Q49.8,87.2 59.6,82.8" stroke="#8e3a9c" stroke-width="11" stroke-linecap="round" fill="none" stroke-opacity="0.88"/>
<path d="M50.7,89.2h.01M51.4,81.6h.01M52.7,91.1h.01M51.5,88.0h.01M51.7,90.8h.01M57.4,82.8h.01M44.3,89.5h.01M50.0,82.4h.01M52.2,87.2h.01M58.6,85.0h.01M50.2,81.1h.01M58.1,82.9h.01M54.6,89.1h.01M49.4,81.3h.01M42.0,86.7h.01M55.1,85.6h.01M51.7,91.4h.01M54.0,90.5h.01M46.9,91.2h.01M57.8,85.4h.01M59.2,82.9h.01M56.8,79.6h.01M55.5,83.1h.01M57.3,85.7h.01M54.7,90.2h.01M40.5,87.2h.01M44.3,94.3h.01M55.5,90.5h.01M50.5,83.7h.01M49.6,84.5h.01M42.8,96.0h.01M54.3,88.4h.01M40.6,86.9h.01M43.8,86.8h.01M53.5,89.3h.01M51.3,87.4h.01M52.4,87.7h.01M45.5,92.4h.01M48.9,90.8h.01M45.9,92.4h.01M55.8,82.5h.01M48.4,93.8h.01M45.3,91.8h.01M48.6,83.8h.01M41.8,93.8h.01M57.8,79.3h.01M57.5,86.1h.01M46.6,88.5h.01M48.7,84.1h.01M54.2,83.2h.01M55.2,88.7h.01M48.4,86.2h.01" stroke="#5c3084" stroke-opacity="0.55" stroke-width="0.9" stroke-linecap="round" fill="none"/>
<path d="M77,70.7 Q84.7,65.8 92.4,60.9" stroke="#9640a0" stroke-width="8" stroke-linecap="round" fill="none" stroke-opacity="0.88"/>
<path d="M81.4,72.5h.01M85.2,64.0h.01M90.6,63.2h.01M84.4,61.4h.01M84.5,63.7h.01M88.1,62.5h.01M79.0,65.4h.01M85.5,68.3h.01M81.2,72.5h.01M79.7,66.5h.01M89.6,64.6h.01M81.7,70.8h.01M87.6,60.2h.01M79.9,65.7h.01M90.1,64.7h.01M92.8,61.8h.01M87.9,61.5h.01M86.1,66.8h.01M85.7,63.4h.01M83.2,64.0h.01M83.6,62.0h.01M84.6,67.9h.01M80.1,71.5h.01M89.3,67.1h.01M80.1,71.5h.01M84.3,61.7h.01M88.0,62.6h.01M82.2,69.3h.01M91.2,65.6h.01M78.7,65.3h.01M82.9,68.9h.01M80.8,71.5h.01" stroke="#5c3084" stroke-opacity="0.55" stroke-width="0.9" stroke-linecap="round" fill="none"/>
<path d="M92.4,82.8 Q105.6,75.1 118.7,67.4" stroke="#8c389a" stroke-width="13" stroke-linecap="round" fill="none" stroke-opacity="0.88"/>
<path d="M96.0,78.1h.01M110.0,69.6h.01M103.7,78.7h.01M105.6,71.9h.01M100.1,76.2h.01M101.8,82.6h.01M93.8,84.5h.01M104.5,81.0h.01M111.7,73.6h.01M112.1,76.3h.01M97.4,83.6h.01M91.7,80.0h.01M120.9,73.0h.01M115.4,73.9h.01M105.5,74.4h.01M100.1,81.1h.01M112.0,76.9h.01M108.7,78.0h.01M100.5,78.4h.01M114.6,74.0h.01M100.3,82.8h.01M107.6,77.0h.01M99.0,73.4h.01M109.6,79.3h.01M90.6,77.4h.01M100.2,81.7h.01M98.1,85.9h.01M99.7,73.8h.01M105.3,70.5h.01M105.9,70.0h.01M108.3,68.9h.01M118.0,73.8h.01M95.5,82.6h.01M98.8,79.6h.01M92.7,79.3h.01M116.4,68.2h.01M93.1,80.1h.01M97.7,75.6h.01M102.5,78.0h.01M93.8,79.0h.01M107.1,72.4h.01M120.3,72.4h.01M114.6,69.6h.01M110.9,70.1h.01M109.5,65.4h.01M108.8,66.0h.01M104.5,76.7h.01M98.0,81.1h.01M105.0,76.3h.01M114.1,62.8h.01M104.1,70.8h.01M101.3,84.9h.01M95.7,78.7h.01M103.8,80.7h.01M112.4,76.1h.01M110.4,67.6h.01M92.0,80.2h.01M99.4,78.9h.01M100.4,76.5h.01M116.3,68.3h.01M106.8,67.5h.01M102.8,83.0h.01M101.5,72.0h.01M105.8,81.8h.01M112.1,65.1h.01M102.4,75.1h.01M105.7,75.1h.01M113.3,64.2h.01M105.8,75.9h.01M112.8,65.2h.01M100.2,83.0h.01M118.4,71.8h.01M116.5,72.1h.01M116.3,66.3h.01M120.7,71.8h.01M114.2,66.1h.01M99.0,82.6h.01M117.0,65.0h.01M108.4,73.4h.01M113.7,63.2h.01M106.7,75.7h.01M106.6,71.1h.01M95.8,85.2h.01M107.5,76.7h.01M119.3,68.5h.01M98.6,79.0h.01M101.1,72.6h.01" stroke="#5c3084" stroke-opacity="0.55" stroke-width="0.9" stroke-linecap="round" fill="none"/>
<path d="M112,88.2 Q119.7,84.4 127.4,80.6" stroke="#903c9e" stroke-width="10" stroke-linecap="round" fill="none" stroke-opacity="0.88"/>
<path d="M124.6,86.6h.01M120.5,80.7h.01M112.8,85.0h.01M124.4,77.8h.01M125.0,78.7h.01M119.1,84.0h.01M115.1,85.4h.01M116.7,89.1h.01M118.0,86.6h.01M112.4,83.7h.01M111.4,83.5h.01M117.0,88.9h.01M124.2,85.6h.01M111.3,83.7h.01M111.4,83.1h.01M122.4,80.9h.01M117.4,90.3h.01M118.1,79.8h.01M115.2,90.5h.01M122.4,79.7h.01M119.7,87.3h.01M115.1,90.8h.01M116.3,88.9h.01M121.0,79.1h.01M120.5,78.7h.01M111.2,85.5h.01M117.8,84.9h.01M126.1,80.4h.01M117.6,87.1h.01M119.0,89.4h.01M116.9,85.8h.01M122.3,81.7h.01M119.0,83.2h.01M114.3,85.2h.01M127.8,84.1h.01M127.3,85.9h.01M121.5,88.5h.01" stroke="#5c3084" stroke-opacity="0.55" stroke-width="0.9" stroke-linecap="round" fill="none"/>
<path d="M0,0 L22,0 L8,18 L0,22 Z" fill="#f8f6f9"/>
<path d="M0.0,17.0 C0.3,18.2 1.2,22.2 2.0,24.0 C2.8,25.8 3.6,28.3 4.8,28.0 C6.0,27.7 7.5,23.7 9.0,22.0 C10.5,20.3 12.5,19.0 14.0,18.0 C15.5,17.0 16.5,16.4 18.0,16.0 C19.5,15.6 21.3,15.8 23.0,15.5 C24.7,15.2 26.2,14.4 28.0,14.5 C29.8,14.6 32.0,15.9 34.0,16.0 C36.0,16.1 38.2,15.1 39.9,14.9 C41.6,14.7 42.6,14.7 44.0,15.0 C45.4,15.3 46.5,17.0 48.0,17.0 C49.5,17.0 51.4,15.5 53.0,15.0 C54.6,14.5 56.1,13.6 57.4,13.8 C58.7,14.0 59.7,15.7 61.0,16.0 C62.3,16.3 63.7,15.3 65.0,15.5 C66.3,15.7 67.7,16.9 69.0,17.0 C70.3,17.1 71.4,16.7 72.7,16.0 C74.0,15.3 75.8,13.8 77.0,13.0 C78.2,12.2 78.8,11.8 80.0,11.0 C81.2,10.2 82.7,8.6 84.0,8.0 C85.3,7.4 86.7,7.0 88.0,7.2 C89.3,7.5 90.7,9.2 92.0,9.5 C93.3,9.8 94.7,9.4 96.0,9.0 C97.3,8.6 98.4,7.1 100.0,7.0 C101.6,6.9 103.8,8.5 105.5,8.3 C107.2,8.1 108.2,6.4 110.0,6.0 C111.8,5.6 114.2,6.3 116.0,6.0 C117.8,5.7 119.1,4.2 121.0,4.0 C122.9,3.8 125.7,5.0 127.4,5.0 C129.1,5.0 129.7,3.9 131.0,4.0 C132.3,4.1 133.7,5.5 135.0,5.5 C136.3,5.5 137.6,4.1 139.0,4.0 C140.4,3.9 142.5,4.8 143.2,5.0 L143.2,8.2 L141.2,9.9 L139.1,7.9 L137.1,8.1 L135.0,11.7 L133.0,10.5 L130.9,7.8 L128.9,10.3 L126.8,8.2 L124.8,7.8 L122.7,8.3 L120.7,8.5 L118.7,9.3 L116.6,9.9 L114.6,11.1 L112.5,11.7 L110.5,9.6 L108.4,10.3 L106.4,12.7 L104.3,13.5 L102.3,11.0 L100.2,12.7 L98.2,11.8 L96.1,12.2 L94.1,15.1 L92.1,13.2 L90.0,12.9 L88.0,10.8 L85.9,11.6 L83.9,13.5 L81.8,14.7 L79.8,17.3 L77.7,18.4 L75.7,18.2 L73.6,18.8 L71.6,21.8 L69.6,20.9 L67.5,21.2 L65.5,21.8 L63.4,19.1 L61.4,21.8 L59.3,20.0 L57.3,19.2 L55.2,19.9 L53.2,18.5 L51.1,19.2 L49.1,20.0 L47.1,21.0 L45.0,21.1 L43.0,19.9 L40.9,18.8 L38.9,21.2 L36.8,20.0 L34.8,19.7 L32.7,20.8 L30.7,19.9 L28.6,19.8 L26.6,18.6 L24.5,19.7 L22.5,19.1 L20.5,19.2 L18.4,21.8 L16.4,20.8 L14.3,22.5 L12.3,25.5 L10.2,26.2 L8.2,28.7 L6.1,30.8 L4.1,32.8 L2.0,28.8 L0.0,21.1 Z" fill="#9e48a6"/>
<path d="M0.0,17.4 C0.3,18.6 1.2,22.6 2.0,24.4 C2.8,26.2 3.6,28.7 4.8,28.4 C6.0,28.1 7.5,24.1 9.0,22.4 C10.5,20.7 12.5,19.4 14.0,18.4 C15.5,17.4 16.5,16.8 18.0,16.4 C19.5,16.0 21.3,16.1 23.0,15.9 C24.7,15.7 26.2,14.8 28.0,14.9 C29.8,15.0 32.0,16.3 34.0,16.4 C36.0,16.5 38.2,15.5 39.9,15.3 C41.6,15.1 42.6,15.1 44.0,15.4 C45.4,15.8 46.5,17.4 48.0,17.4 C49.5,17.4 51.4,15.9 53.0,15.4 C54.6,14.9 56.1,14.0 57.4,14.2 C58.7,14.4 59.7,16.1 61.0,16.4 C62.3,16.7 63.7,15.7 65.0,15.9 C66.3,16.1 67.7,17.3 69.0,17.4 C70.3,17.5 71.4,17.1 72.7,16.4 C74.0,15.7 75.8,14.2 77.0,13.4 C78.2,12.6 78.8,12.2 80.0,11.4 C81.2,10.6 82.7,9.0 84.0,8.4 C85.3,7.8 86.7,7.4 88.0,7.6 C89.3,7.9 90.7,9.6 92.0,9.9 C93.3,10.2 94.7,9.8 96.0,9.4 C97.3,9.0 98.4,7.5 100.0,7.4 C101.6,7.3 103.8,8.9 105.5,8.7 C107.2,8.5 108.2,6.8 110.0,6.4 C111.8,6.0 114.2,6.7 116.0,6.4 C117.8,6.1 119.1,4.6 121.0,4.4 C122.9,4.2 125.7,5.4 127.4,5.4 C129.1,5.4 129.7,4.3 131.0,4.4 C132.3,4.5 133.7,5.9 135.0,5.9 C136.3,5.9 137.6,4.5 139.0,4.4 C140.4,4.3 142.5,5.2 143.2,5.4" stroke="#883894" stroke-width="0.9" stroke-opacity="0.8" fill="none"/>
<path d="M132.9,8.5h.01M110.3,48.8h.01M87.3,20.7h.01M66.4,27.1h.01M39.4,33.4h.01M112.2,47.8h.01M2.1,25.9h.01M50.0,59.4h.01M45.4,49.3h.01M62.1,34.6h.01M90.7,28.4h.01M85.7,37.5h.01M143.1,31.2h.01M56.9,35.1h.01M10.8,60.9h.01M27.3,24.4h.01M117.9,14.4h.01M142.9,17.4h.01M93.9,34.0h.01M130.1,18.0h.01M47.0,44.6h.01M86.0,18.0h.01M86.2,39.4h.01M81.5,52.7h.01M51.2,41.5h.01M76.4,34.1h.01M23.7,56.7h.01M69.9,46.8h.01M123.0,30.7h.01M131.6,27.8h.01M23.8,22.1h.01M4.6,58.5h.01M27.1,35.2h.01M132.6,21.8h.01M52.0,36.4h.01M9.8,46.5h.01M112.6,25.9h.01M12.7,57.5h.01M121.2,15.8h.01M74.3,33.3h.01M15.1,45.1h.01M92.7,12.3h.01M63.8,49.1h.01M37.0,41.5h.01M51.5,22.3h.01M0.0,61.4h.01M92.9,45.3h.01M96.8,52.7h.01M130.5,19.2h.01M28.6,48.2h.01M52.3,36.9h.01M120.5,10.2h.01M19.8,24.8h.01M118.7,41.3h.01M42.7,46.1h.01M13.1,46.3h.01M94.8,41.1h.01M115.8,41.5h.01M45.9,35.1h.01M2.0,49.1h.01M27.9,50.3h.01M99.7,30.7h.01M25.2,65.0h.01M83.0,18.5h.01M101.0,33.9h.01M49.2,23.6h.01M54.9,22.9h.01M54.4,22.1h.01M95.4,48.7h.01M120.5,10.7h.01M15.5,44.4h.01M0.7,31.8h.01M79.3,25.6h.01M40.1,55.3h.01M84.5,47.2h.01M93.1,15.3h.01M88.5,25.9h.01M51.9,38.1h.01M20.7,40.7h.01M76.3,51.1h.01M80.3,51.5h.01M6.0,32.1h.01M45.7,29.7h.01M106.4,22.3h.01M10.2,31.9h.01M85.1,48.8h.01M97.9,21.4h.01M18.1,18.0h.01M50.9,17.1h.01M91.3,41.5h.01M5.5,48.7h.01M33.7,60.3h.01M132.0,37.0h.01M35.9,20.1h.01M68.6,40.8h.01M85.0,40.5h.01M67.4,35.0h.01M93.6,14.9h.01M52.9,26.6h.01M140.9,26.6h.01M116.0,33.6h.01M67.3,35.8h.01M105.0,20.5h.01M72.0,20.5h.01M100.8,23.7h.01M41.3,31.0h.01M141.3,30.4h.01M127.6,10.4h.01M109.6,34.4h.01M47.2,17.6h.01M13.6,56.0h.01M30.9,16.7h.01M44.2,40.6h.01M16.7,37.6h.01M0.8,34.7h.01M32.8,17.8h.01M56.2,16.6h.01M22.1,61.3h.01M102.6,27.8h.01M51.3,43.0h.01M135.2,8.9h.01M115.6,40.2h.01M29.4,58.8h.01M69.9,40.7h.01M94.6,38.1h.01M25.0,65.0h.01M126.0,20.8h.01M130.4,10.3h.01M126.8,26.4h.01M6.6,67.0h.01M77.4,31.0h.01M26.5,47.6h.01M135.2,17.3h.01M71.0,27.8h.01M126.8,18.8h.01M56.1,20.7h.01M35.6,25.2h.01M132.5,24.4h.01M101.1,14.9h.01M65.2,25.5h.01" stroke="#5c3084" stroke-opacity="0.8" stroke-width="0.9" stroke-linecap="round" fill="none"/>
<path d="M43.7,48.6h.01M4.8,37.0h.01M45.1,49.5h.01M12.2,48.2h.01M121.5,36.7h.01M19.4,43.1h.01M3.4,47.7h.01M16.9,62.6h.01M4.5,59.2h.01M18.8,28.7h.01M47.1,30.4h.01M109.9,15.5h.01M56.3,56.1h.01M139.8,30.4h.01M40.4,54.8h.01M34.3,21.1h.01M40.8,53.0h.01M59.3,53.7h.01M71.7,52.0h.01M102.9,24.3h.01M112.5,37.8h.01M70.9,20.2h.01M39.3,34.9h.01M92.4,52.5h.01M108.4,24.2h.01M13.9,57.3h.01M35.5,62.8h.01M132.0,38.0h.01M122.5,7.1h.01M109.9,12.7h.01M36.2,49.5h.01M8.0,46.2h.01M106.1,14.9h.01M39.8,33.9h.01M132.3,31.1h.01M137.0,17.3h.01M115.4,19.2h.01M67.4,45.0h.01M40.8,17.9h.01M111.4,37.5h.01M47.1,31.3h.01M41.4,16.9h.01M25.1,24.5h.01M89.5,26.5h.01M72.9,51.3h.01M63.5,46.0h.01M93.5,37.0h.01M26.8,35.2h.01M130.3,27.8h.01M107.4,27.6h.01M20.6,51.0h.01M37.4,26.0h.01M56.9,36.2h.01M61.7,25.2h.01M6.4,61.2h.01M127.4,23.2h.01M38.8,34.9h.01M31.4,26.6h.01M136.0,28.1h.01M39.1,45.5h.01M128.2,22.0h.01M20.8,49.7h.01M15.5,48.9h.01M67.3,54.7h.01M32.1,44.5h.01M53.1,43.9h.01M14.1,26.9h.01M92.4,14.7h.01M69.9,41.1h.01M47.4,23.0h.01M44.1,25.3h.01M141.0,45.4h.01M116.1,8.7h.01M38.5,45.0h.01M53.4,20.2h.01M14.1,24.7h.01M103.8,9.3h.01M64.3,49.7h.01M66.0,23.5h.01M110.3,32.7h.01M27.9,27.0h.01M104.7,32.0h.01M106.7,28.0h.01M122.5,31.0h.01M103.4,37.6h.01M5.8,34.0h.01M29.7,51.2h.01M2.4,60.8h.01M120.2,39.0h.01M17.4,41.0h.01M117.6,36.9h.01M78.9,54.4h.01M36.4,53.9h.01M131.6,11.9h.01M38.9,34.7h.01M62.5,25.8h.01M118.9,13.0h.01M45.5,46.1h.01M17.9,51.8h.01M55.5,37.2h.01M104.6,69.5h.01M61.7,62.7h.01M102.4,72.9h.01M125.3,56.6h.01M19.8,85.1h.01M42.9,94.6h.01M87.2,85.6h.01M123.6,79.1h.01M30.1,68.9h.01M92.9,53.2h.01M41.4,71.9h.01M108.8,75.6h.01M90.6,98.9h.01M6.5,68.2h.01M74.0,68.6h.01M49.6,60.6h.01M43.3,76.1h.01M27.0,83.3h.01M41.4,84.2h.01M93.8,96.3h.01M34.1,72.3h.01M88.1,99.8h.01M41.2,79.0h.01M79.8,86.6h.01M120.7,74.2h.01M76.3,89.8h.01M12.6,77.4h.01M5.4,69.0h.01M8.3,81.3h.01M83.3,96.1h.01M133.1,100.9h.01M24.9,86.2h.01M7.8,73.1h.01M32.5,101.2h.01M86.4,59.7h.01M65.4,96.6h.01M48.6,91.9h.01M91.5,52.2h.01M71.6,55.0h.01M137.9,69.9h.01" stroke="#5c3084" stroke-opacity="0.8" stroke-width="1.25" stroke-linecap="round" fill="none"/>
<path d="M0.0,17.0 C0.3,18.2 1.2,22.2 2.0,24.0 C2.8,25.8 3.6,28.3 4.8,28.0 C6.0,27.7 7.5,23.7 9.0,22.0 C10.5,20.3 12.5,19.0 14.0,18.0 C15.5,17.0 16.5,16.4 18.0,16.0 C19.5,15.6 21.3,15.8 23.0,15.5 C24.7,15.2 26.2,14.4 28.0,14.5 C29.8,14.6 32.0,15.9 34.0,16.0 C36.0,16.1 38.2,15.1 39.9,14.9 C41.6,14.7 42.6,14.7 44.0,15.0 C45.4,15.3 46.5,17.0 48.0,17.0 C49.5,17.0 51.4,15.5 53.0,15.0 C54.6,14.5 56.1,13.6 57.4,13.8 C58.7,14.0 59.7,15.7 61.0,16.0 C62.3,16.3 63.7,15.3 65.0,15.5 C66.3,15.7 67.7,16.9 69.0,17.0 C70.3,17.1 71.4,16.7 72.7,16.0 C74.0,15.3 75.8,13.8 77.0,13.0 C78.2,12.2 78.8,11.8 80.0,11.0 C81.2,10.2 82.7,8.6 84.0,8.0 C85.3,7.4 86.7,7.0 88.0,7.2 C89.3,7.5 90.7,9.2 92.0,9.5 C93.3,9.8 94.7,9.4 96.0,9.0 C97.3,8.6 98.4,7.1 100.0,7.0 C101.6,6.9 103.8,8.5 105.5,8.3 C107.2,8.1 108.2,6.4 110.0,6.0 C111.8,5.6 114.2,6.3 116.0,6.0 C117.8,5.7 119.1,4.2 121.0,4.0 C122.9,3.8 125.7,5.0 127.4,5.0 C129.1,5.0 129.7,3.9 131.0,4.0 C132.3,4.1 133.7,5.5 135.0,5.5 C136.3,5.5 137.6,4.1 139.0,4.0 C140.4,3.9 142.5,4.8 143.2,5.0 L143.2,47.0 L125.0,49.0 L105.0,52.0 L83.6,54.0 L60.0,59.0 L39.9,63.0 L15.0,68.0 L0.0,71.0 Z" fill="#fff" filter="url(#grain)" opacity="0.6"/>
<path d="M0.0,69.0 C2.5,68.5 8.4,67.3 15.0,66.0 C21.6,64.7 32.4,62.5 39.9,61.0 C47.4,59.5 52.7,58.5 60.0,57.0 C67.3,55.5 76.1,53.2 83.6,52.0 C91.1,50.8 98.1,50.8 105.0,50.0 C111.9,49.2 118.6,47.8 125.0,47.0 C131.4,46.2 140.2,45.3 143.2,45.0 L143.2,101.8 L0,101.8 Z" fill="#fff" filter="url(#grain)" opacity="0.11"/>
<path d="M0.0,17.0 C0.3,18.2 1.2,22.2 2.0,24.0 C2.8,25.8 3.6,28.3 4.8,28.0 C6.0,27.7 7.5,23.7 9.0,22.0 C10.5,20.3 12.5,19.0 14.0,18.0 C15.5,17.0 16.5,16.4 18.0,16.0 C19.5,15.6 21.3,15.8 23.0,15.5 C24.7,15.2 26.2,14.4 28.0,14.5 C29.8,14.6 32.0,15.9 34.0,16.0 C36.0,16.1 38.2,15.1 39.9,14.9 C41.6,14.7 42.6,14.7 44.0,15.0 C45.4,15.3 46.5,17.0 48.0,17.0 C49.5,17.0 51.4,15.5 53.0,15.0 C54.6,14.5 56.1,13.6 57.4,13.8 C58.7,14.0 59.7,15.7 61.0,16.0 C62.3,16.3 63.7,15.3 65.0,15.5 C66.3,15.7 67.7,16.9 69.0,17.0 C70.3,17.1 71.4,16.7 72.7,16.0 C74.0,15.3 75.8,13.8 77.0,13.0 C78.2,12.2 78.8,11.8 80.0,11.0 C81.2,10.2 82.7,8.6 84.0,8.0 C85.3,7.4 86.7,7.0 88.0,7.2 C89.3,7.5 90.7,9.2 92.0,9.5 C93.3,9.8 94.7,9.4 96.0,9.0 C97.3,8.6 98.4,7.1 100.0,7.0 C101.6,6.9 103.8,8.5 105.5,8.3 C107.2,8.1 108.2,6.4 110.0,6.0 C111.8,5.6 114.2,6.3 116.0,6.0 C117.8,5.7 119.1,4.2 121.0,4.0 C122.9,3.8 125.7,5.0 127.4,5.0 C129.1,5.0 129.7,3.9 131.0,4.0 C132.3,4.1 133.7,5.5 135.0,5.5 C136.3,5.5 137.6,4.1 139.0,4.0 C140.4,3.9 142.5,4.8 143.2,5.0 L143.2,101.8 L0,101.8 Z" fill="#fff" filter="url(#grainw)" opacity="0.3"/>
</g>
<rect x="125.1" y="93.0" width="11.2" height="1.2" fill="#222"/>
<text x="130.7" y="97.3" text-anchor="middle" font-family='"Liberation Sans", sans-serif' font-weight="bold" font-size="3.3" fill="#222">100 μm</text>
</g>
<text x="449.6" y="468.6" font-family='"Liberation Serif", serif' font-size="28" fill="#000">(h)</text>
<line x1="476.3" y1="518.4499999999999" x2="476.3" y2="608.4" stroke="#000" stroke-width="1.9"/>
<line x1="476.3" y1="615.4" x2="476.3" y2="674.5500000000001" stroke="#000" stroke-width="1.9"/>
<line x1="472.7" y1="605.3000000000001" x2="479.3" y2="611.1" stroke="#000" stroke-width="1.35"/>
<line x1="472.7" y1="612.8000000000001" x2="479.3" y2="618.6" stroke="#000" stroke-width="1.35"/>
<line x1="475.35" y1="673.6" x2="682.5" y2="673.6" stroke="#000" stroke-width="1.9"/>
<line x1="470.2" y1="519.4" x2="476.3" y2="519.4" stroke="#000" stroke-width="1.6"/>
<text x="468.1" y="522.65" text-anchor="end" font-family='"Liberation Sans", sans-serif' font-weight="bold" font-size="9.3" fill="#000">500</text>
<line x1="470.2" y1="545.3" x2="476.3" y2="545.3" stroke="#000" stroke-width="1.6"/>
<text x="468.1" y="548.55" text-anchor="end" font-family='"Liberation Sans", sans-serif' font-weight="bold" font-size="9.3" fill="#000">400</text>
<line x1="470.2" y1="571.2" x2="476.3" y2="571.2" stroke="#000" stroke-width="1.6"/>
<text x="468.1" y="574.45" text-anchor="end" font-family='"Liberation Sans", sans-serif' font-weight="bold" font-size="9.3" fill="#000">300</text>
<line x1="470.2" y1="596.9" x2="476.3" y2="596.9" stroke="#000" stroke-width="1.6"/>
<text x="468.1" y="600.15" text-anchor="end" font-family='"Liberation Sans", sans-serif' font-weight="bold" font-size="9.3" fill="#000">200</text>
<text x="468.1" y="620.15" text-anchor="end" font-family='"Liberation Sans", sans-serif' font-weight="bold" font-size="9.3" fill="#000">80</text>
<line x1="470.2" y1="630.8" x2="476.3" y2="630.8" stroke="#000" stroke-width="1.6"/>
<text x="468.1" y="634.05" text-anchor="end" font-family='"Liberation Sans", sans-serif' font-weight="bold" font-size="9.3" fill="#000">60</text>
<line x1="470.2" y1="645.3" x2="476.3" y2="645.3" stroke="#000" stroke-width="1.6"/>
<text x="468.1" y="648.55" text-anchor="end" font-family='"Liberation Sans", sans-serif' font-weight="bold" font-size="9.3" fill="#000">40</text>
<line x1="470.2" y1="659.6" x2="476.3" y2="659.6" stroke="#000" stroke-width="1.6"/>
<text x="468.1" y="662.85" text-anchor="end" font-family='"Liberation Sans", sans-serif' font-weight="bold" font-size="9.3" fill="#000">20</text>
<line x1="470.2" y1="673.6" x2="476.3" y2="673.6" stroke="#000" stroke-width="1.6"/>
<text x="468.1" y="676.85" text-anchor="end" font-family='"Liberation Sans", sans-serif' font-weight="bold" font-size="9.3" fill="#000">0</text>
<line x1="525.8" y1="673.6" x2="525.8" y2="679.6" stroke="#000" stroke-width="1.7"/>
<text x="525.8" y="689.8" text-anchor="middle" font-family='"Liberation Serif", serif' font-weight="bold" font-size="10" fill="#000">Epidermis</text>
<line x1="631.9" y1="673.6" x2="631.9" y2="679.6" stroke="#000" stroke-width="1.7"/>
<text x="631.9" y="689.8" text-anchor="middle" font-family='"Liberation Serif", serif' font-weight="bold" font-size="10" fill="#000">Dermis</text>
<text x="579" y="707.2" text-anchor="middle" font-family='"Liberation Serif", serif' font-weight="bold" font-size="10.2" fill="#000">SKIN</text>
<text transform="translate(445.5,596.4) rotate(-90)" text-anchor="middle" font-family='"Liberation Serif", serif' font-weight="bold" font-size="10.9" fill="#000">thickness (μm)</text>
<rect x="487.2" y="522.8000000000001" width="12" height="4.6" fill="none" stroke="#f9c48e" stroke-width="1.5"/>
<text x="508.4" y="528.8000000000001" font-family='"Liberation Serif", serif' font-size="10.8" fill="#000">Control</text>
<rect x="487.2" y="538.35" width="12" height="4.6" fill="none" stroke="#f5262a" stroke-width="1.5"/>
<text x="508.4" y="544.35" font-family='"Liberation Serif", serif' font-size="10.8" fill="#000">D-gal</text>
<rect x="487.2" y="553.9000000000001" width="12" height="4.6" fill="none" stroke="#2424e6" stroke-width="1.5"/>
<text x="508.4" y="559.9000000000001" font-family='"Liberation Serif", serif' font-size="10.8" fill="#000">Retinol 200</text>
<rect x="487.2" y="569.45" width="12" height="4.6" fill="none" stroke="#2ef0f6" stroke-width="1.5"/>
<text x="508.4" y="575.45" font-family='"Liberation Serif", serif' font-size="10.8" fill="#000">DAG-1 50</text>
<rect x="487.2" y="585.0000000000001" width="12" height="4.6" fill="none" stroke="#2ee62e" stroke-width="1.5"/>
<text x="508.4" y="591.0000000000001" font-family='"Liberation Serif", serif' font-size="10.8" fill="#000">DAG-1 500</text>
<path d="M488.4,631.3 C488.5,632.0 488.4,634.4 488.6,635.5 C488.7,636.6 488.8,637.2 489.2,638.0 C489.6,638.8 490.1,639.7 490.7,640.5 C491.3,641.3 492.4,642.1 492.9,643.0 C493.5,643.9 494.0,644.8 494.0,645.6 C494.0,646.4 493.3,647.1 492.9,648.0 C492.5,648.9 491.8,649.8 491.4,651.0 C491.0,652.2 490.8,653.7 490.5,655.0 C490.2,656.3 490.1,657.9 489.8,659.0 C489.6,660.1 489.2,660.8 489.0,661.5 C488.8,662.2 488.6,662.3 488.6,663.0 C488.5,663.7 488.5,665.2 488.4,665.6 L488.2,665.6 C488.1,665.2 488.1,663.7 488.1,663.0 C488.0,662.3 487.8,662.2 487.6,661.5 C487.4,660.8 487.1,660.1 486.8,659.0 C486.6,657.9 486.4,656.3 486.1,655.0 C485.8,653.7 485.6,652.2 485.2,651.0 C484.8,649.8 484.1,648.9 483.7,648.0 C483.3,647.1 482.6,646.4 482.6,645.6 C482.6,644.8 483.1,643.9 483.7,643.0 C484.2,642.1 485.3,641.3 485.9,640.5 C486.5,639.7 487.0,638.8 487.4,638.0 C487.8,637.2 487.9,636.6 488.1,635.5 C488.2,634.4 488.1,632.0 488.2,631.3 Z" fill="none" stroke="#f9c48e" stroke-width="1.7" stroke-linejoin="round"/>
<line x1="484.5923076923077" y1="644.2" x2="492.0076923076923" y2="644.2" stroke="#222" stroke-width="0.7" stroke-dasharray="0.8,0.9"/>
<line x1="487.05" y1="653.0" x2="489.55" y2="653.0" stroke="#222" stroke-width="0.7" stroke-dasharray="0.8,0.9"/>
<path d="M483.8,646.1 H487.5 M489.1,646.1 H492.8" stroke="#000" stroke-width="1.1" fill="none"/>
<path d="M507.0,649.3 C507.1,649.6 507.0,650.6 507.2,651.2 C507.4,651.8 507.9,652.2 508.5,652.8 C509.1,653.4 510.1,654.0 510.7,654.6 C511.3,655.2 512.1,655.9 512.3,656.4 C512.5,656.9 512.5,657.1 512.1,657.6 C511.7,658.1 510.6,658.9 510.1,659.5 C509.6,660.1 509.5,660.8 509.3,661.5 C509.1,662.2 509.1,662.9 508.9,663.5 C508.7,664.1 508.4,664.6 508.1,665.0 C507.8,665.4 507.4,665.5 507.2,666.0 C507.0,666.5 507.1,667.7 507.0,668.0 L506.8,668.0 C506.7,667.7 506.8,666.5 506.6,666.0 C506.4,665.5 506.0,665.4 505.7,665.0 C505.4,664.6 505.1,664.1 504.9,663.5 C504.7,662.9 504.7,662.2 504.5,661.5 C504.3,660.8 504.2,660.1 503.7,659.5 C503.2,658.9 502.1,658.1 501.7,657.6 C501.3,657.1 501.3,656.9 501.5,656.4 C501.7,655.9 502.5,655.2 503.1,654.6 C503.7,654.0 504.7,653.4 505.3,652.8 C505.9,652.2 506.4,651.8 506.6,651.2 C506.8,650.6 506.7,649.6 506.8,649.3 Z" fill="none" stroke="#f5262a" stroke-width="1.7" stroke-linejoin="round"/>
<line x1="504.14444444444445" y1="655.0" x2="509.6555555555555" y2="655.0" stroke="#222" stroke-width="0.7" stroke-dasharray="0.8,0.9"/>
<line x1="505.21999999999997" y1="659.8" x2="508.58" y2="659.8" stroke="#222" stroke-width="0.7" stroke-dasharray="0.8,0.9"/>
<path d="M502.5,656.6 H506.09999999999997 M507.7,656.6 H511.3" stroke="#000" stroke-width="1.1" fill="none"/>
<path d="M525.9,620.5 C526.0,621.2 525.9,623.4 526.1,624.5 C526.3,625.6 526.5,626.1 527.0,627.0 C527.5,627.9 528.4,629.0 529.0,630.0 C529.6,631.0 530.3,632.0 530.8,633.0 C531.2,634.0 531.6,634.9 531.7,636.0 C531.8,637.1 531.5,638.3 531.3,639.5 C531.0,640.7 530.4,642.0 530.2,643.0 C529.9,644.0 529.8,644.9 529.8,645.8 C529.8,646.7 530.0,647.5 530.3,648.5 C530.6,649.5 531.3,650.8 531.4,652.0 C531.5,653.2 531.5,654.3 531.1,655.5 C530.7,656.7 529.8,657.9 529.2,659.0 C528.5,660.1 527.7,661.2 527.2,662.0 C526.7,662.8 526.3,662.9 526.1,664.0 C525.9,665.1 526.0,667.9 525.9,668.7 L525.6,668.7 C525.6,667.9 525.7,665.1 525.5,664.0 C525.3,662.9 524.9,662.8 524.4,662.0 C523.9,661.2 523.0,660.1 522.4,659.0 C521.8,657.9 520.9,656.7 520.5,655.5 C520.1,654.3 520.1,653.2 520.2,652.0 C520.3,650.8 521.0,649.5 521.3,648.5 C521.6,647.5 521.8,646.7 521.8,645.8 C521.8,644.9 521.6,644.0 521.4,643.0 C521.1,642.0 520.5,640.7 520.3,639.5 C520.0,638.3 519.8,637.1 519.9,636.0 C520.0,634.9 520.3,634.0 520.8,633.0 C521.2,632.0 522.0,631.0 522.6,630.0 C523.2,629.0 524.1,627.9 524.6,627.0 C525.1,626.1 525.3,625.6 525.5,624.5 C525.7,623.4 525.6,621.2 525.6,620.5 Z" fill="none" stroke="#2424e6" stroke-width="1.7" stroke-linejoin="round"/>
<line x1="521.3" y1="636.0" x2="530.3" y2="636.0" stroke="#222" stroke-width="0.7" stroke-dasharray="0.8,0.9"/>
<line x1="521.6257142857143" y1="652.3" x2="529.9742857142857" y2="652.3" stroke="#222" stroke-width="0.7" stroke-dasharray="0.8,0.9"/>
<path d="M522.7,645.3 H525.0 M526.5999999999999,645.3 H528.9" stroke="#000" stroke-width="1.1" fill="none"/>
<path d="M544.5,627.5 C544.6,628.2 544.6,630.4 544.7,631.5 C544.8,632.6 545.1,633.1 545.4,634.0 C545.7,634.9 546.0,636.0 546.3,637.0 C546.6,638.0 546.9,639.0 547.1,640.0 C547.3,641.0 547.3,642.1 547.5,643.0 C547.7,643.9 547.8,644.7 548.1,645.5 C548.4,646.3 549.0,647.2 549.4,648.0 C549.8,648.8 550.1,649.5 550.2,650.3 C550.3,651.1 550.2,651.8 549.8,652.6 C549.4,653.4 548.5,654.3 547.8,655.0 C547.1,655.7 546.2,656.5 545.7,657.0 C545.2,657.5 544.9,657.5 544.7,658.2 C544.5,658.9 544.6,660.5 544.5,661.0 L544.2,661.0 C544.2,660.5 544.3,658.9 544.1,658.2 C543.9,657.5 543.6,657.5 543.1,657.0 C542.6,656.5 541.7,655.7 541.0,655.0 C540.3,654.3 539.4,653.4 539.0,652.6 C538.6,651.8 538.5,651.1 538.6,650.3 C538.7,649.5 539.0,648.8 539.4,648.0 C539.8,647.2 540.4,646.3 540.7,645.5 C541.0,644.7 541.1,643.9 541.3,643.0 C541.5,642.1 541.5,641.0 541.7,640.0 C541.9,639.0 542.2,638.0 542.5,637.0 C542.8,636.0 543.1,634.9 543.4,634.0 C543.7,633.1 544.0,632.6 544.1,631.5 C544.2,630.4 544.2,628.2 544.2,627.5 Z" fill="none" stroke="#2ef0f6" stroke-width="1.7" stroke-linejoin="round"/>
<line x1="542.9133333333333" y1="641.4" x2="545.8866666666667" y2="641.4" stroke="#222" stroke-width="0.7" stroke-dasharray="0.8,0.9"/>
<line x1="540.1217391304348" y1="651.0" x2="548.6782608695652" y2="651.0" stroke="#222" stroke-width="0.7" stroke-dasharray="0.8,0.9"/>
<path d="M540.3,648.4 H543.6 M545.1999999999999,648.4 H548.5" stroke="#000" stroke-width="1.1" fill="none"/>
<path d="M563.4,624.7 C563.4,625.3 563.3,627.5 563.5,628.5 C563.7,629.5 564.0,630.1 564.3,631.0 C564.6,631.9 565.0,633.0 565.4,634.0 C565.8,635.0 566.1,636.0 566.5,637.0 C566.9,638.0 567.4,639.0 567.8,640.0 C568.2,641.0 568.5,641.9 568.7,642.8 C568.9,643.7 569.0,644.5 568.9,645.3 C568.9,646.0 568.4,646.6 568.4,647.3 C568.4,648.0 569.0,648.6 568.9,649.3 C568.8,649.9 568.5,650.6 568.0,651.2 C567.5,651.9 566.3,652.6 565.6,653.2 C564.9,653.8 564.2,654.3 563.8,654.8 C563.4,655.3 563.5,655.3 563.5,656.0 C563.4,656.7 563.4,658.3 563.4,658.8 L563.1,658.8 C563.0,658.3 563.0,656.7 563.0,656.0 C562.9,655.3 563.0,655.3 562.6,654.8 C562.2,654.3 561.5,653.8 560.8,653.2 C560.1,652.6 559.0,651.9 558.4,651.2 C557.9,650.6 557.6,649.9 557.5,649.3 C557.4,648.6 558.0,648.0 558.0,647.3 C558.0,646.6 557.5,646.0 557.5,645.3 C557.5,644.5 557.5,643.7 557.7,642.8 C557.9,641.9 558.2,641.0 558.6,640.0 C559.0,639.0 559.5,638.0 559.9,637.0 C560.3,636.0 560.6,635.0 561.0,634.0 C561.4,633.0 561.8,631.9 562.1,631.0 C562.4,630.1 562.7,629.5 562.9,628.5 C563.1,627.5 563.0,625.3 563.1,624.7 Z" fill="none" stroke="#2ee62e" stroke-width="1.7" stroke-linejoin="round"/>
<line x1="560.6500000000001" y1="638.5" x2="565.75" y2="638.5" stroke="#222" stroke-width="0.7" stroke-dasharray="0.8,0.9"/>
<line x1="559.2750000000001" y1="647.8" x2="567.125" y2="647.8" stroke="#222" stroke-width="0.7" stroke-dasharray="0.8,0.9"/>
<path d="M558.9,642.1 H562.4000000000001 M564.0,642.1 H567.5" stroke="#000" stroke-width="1.1" fill="none"/>
<path d="M594.4,542.2 C594.5,543.2 594.4,547.0 594.5,548.5 C594.7,550.0 594.9,550.1 595.5,551.0 C596.1,551.9 597.2,552.9 597.9,553.8 C598.6,554.7 599.5,555.6 599.8,556.5 C600.1,557.4 600.1,558.1 599.9,559.0 C599.7,559.9 599.0,560.9 598.5,562.0 C598.0,563.1 597.2,564.5 596.8,565.5 C596.4,566.5 596.1,567.4 596.1,568.3 C596.1,569.2 596.3,570.0 596.7,571.0 C597.1,572.0 598.0,573.0 598.5,574.0 C599.0,575.0 599.5,576.2 599.5,577.2 C599.5,578.2 599.1,579.1 598.7,580.0 C598.3,580.9 597.5,581.7 596.9,582.5 C596.3,583.3 595.4,584.0 595.0,584.6 C594.6,585.2 594.6,584.9 594.5,586.0 C594.5,587.1 594.5,590.2 594.4,591.1 L594.1,591.1 C594.1,590.2 594.1,587.1 594.0,586.0 C594.0,584.9 594.0,585.2 593.6,584.6 C593.2,584.0 592.3,583.3 591.7,582.5 C591.1,581.7 590.3,580.9 589.9,580.0 C589.5,579.1 589.1,578.2 589.1,577.2 C589.1,576.2 589.6,575.0 590.1,574.0 C590.6,573.0 591.5,572.0 591.9,571.0 C592.3,570.0 592.5,569.2 592.5,568.3 C592.5,567.4 592.2,566.5 591.8,565.5 C591.4,564.5 590.6,563.1 590.1,562.0 C589.6,560.9 588.9,559.9 588.7,559.0 C588.5,558.1 588.5,557.4 588.8,556.5 C589.1,555.6 590.0,554.7 590.7,553.8 C591.4,552.9 592.5,551.9 593.1,551.0 C593.7,550.1 593.9,550.0 594.0,548.5 C594.2,547.0 594.1,543.2 594.1,542.2 Z" fill="none" stroke="#f9c48e" stroke-width="1.7" stroke-linejoin="round"/>
<line x1="590.1719999999999" y1="557.2" x2="598.428" y2="557.2" stroke="#222" stroke-width="0.7" stroke-dasharray="0.8,0.9"/>
<line x1="590.5571428571428" y1="577.4" x2="598.0428571428571" y2="577.4" stroke="#222" stroke-width="0.7" stroke-dasharray="0.8,0.9"/>
<path d="M591.3,562.4 H593.5 M595.0999999999999,562.4 H597.3" stroke="#000" stroke-width="1.1" fill="none"/>
<path d="M613.1,556.0 C613.2,556.8 613.1,559.4 613.3,560.5 C613.5,561.6 614.0,561.8 614.6,562.5 C615.2,563.2 616.3,564.1 617.0,565.0 C617.7,565.9 618.4,567.1 618.6,568.0 C618.9,568.9 618.7,569.5 618.5,570.5 C618.3,571.5 617.7,572.9 617.6,574.0 C617.5,575.1 617.8,576.0 618.0,577.0 C618.2,578.0 618.8,579.1 618.8,580.2 C618.8,581.3 618.4,582.5 618.2,583.5 C618.0,584.5 617.7,585.3 617.7,586.2 C617.7,587.1 618.1,588.0 618.3,589.0 C618.5,590.0 618.9,591.0 618.7,592.0 C618.6,593.0 618.0,594.1 617.4,595.0 C616.8,595.9 616.0,596.7 615.4,597.5 C614.8,598.3 614.1,599.0 613.7,599.6 C613.4,600.2 613.4,599.8 613.3,601.0 C613.2,602.2 613.2,605.8 613.1,606.7 L612.9,606.7 C612.8,605.8 612.8,602.2 612.7,601.0 C612.6,599.8 612.6,600.2 612.3,599.6 C611.9,599.0 611.2,598.3 610.6,597.5 C610.0,596.7 609.2,595.9 608.6,595.0 C608.0,594.1 607.4,593.0 607.3,592.0 C607.1,591.0 607.5,590.0 607.7,589.0 C607.9,588.0 608.3,587.1 608.3,586.2 C608.3,585.3 608.0,584.5 607.8,583.5 C607.6,582.5 607.2,581.3 607.2,580.2 C607.2,579.1 607.8,578.0 608.0,577.0 C608.2,576.0 608.5,575.1 608.4,574.0 C608.3,572.9 607.7,571.5 607.5,570.5 C607.3,569.5 607.1,568.9 607.4,568.0 C607.6,567.1 608.3,565.9 609.0,565.0 C609.7,564.1 610.8,563.2 611.4,562.5 C612.0,561.8 612.5,561.6 612.7,560.5 C612.9,559.4 612.8,556.8 612.9,556.0 Z" fill="none" stroke="#f5262a" stroke-width="1.7" stroke-linejoin="round"/>
<line x1="609.1057142857143" y1="571.3" x2="616.8942857142857" y2="571.3" stroke="#222" stroke-width="0.7" stroke-dasharray="0.8,0.9"/>
<line x1="608.7933333333333" y1="591.3" x2="617.2066666666667" y2="591.3" stroke="#222" stroke-width="0.7" stroke-dasharray="0.8,0.9"/>
<path d="M608.5,579.2 H612.2 M613.8,579.2 H617.5" stroke="#000" stroke-width="1.1" fill="none"/>
<path d="M632.0,535.5 C632.1,536.2 632.0,538.5 632.2,539.5 C632.4,540.5 632.9,540.9 633.1,541.5 C633.3,542.1 633.6,542.6 633.6,543.2 C633.6,543.8 633.2,544.3 633.0,545.0 C632.8,545.7 632.4,546.6 632.3,547.2 C632.2,547.8 632.2,548.0 632.4,548.6 C632.6,549.2 633.0,550.1 633.5,551.0 C634.0,551.9 634.6,553.0 635.1,554.0 C635.6,555.0 636.3,556.1 636.7,557.0 C637.1,557.9 637.6,558.9 637.7,559.6 C637.8,560.3 637.7,560.7 637.3,561.2 C636.9,561.7 636.2,562.3 635.5,562.8 C634.8,563.3 633.7,563.9 633.1,564.3 C632.5,564.7 632.4,564.2 632.2,565.3 C632.0,566.3 632.1,569.7 632.0,570.6 L631.8,570.6 C631.7,569.7 631.8,566.3 631.6,565.3 C631.4,564.2 631.2,564.7 630.7,564.3 C630.1,563.9 629.0,563.3 628.3,562.8 C627.6,562.3 626.9,561.7 626.5,561.2 C626.1,560.7 626.0,560.3 626.1,559.6 C626.2,558.9 626.7,557.9 627.1,557.0 C627.5,556.1 628.2,555.0 628.7,554.0 C629.2,553.0 629.8,551.9 630.3,551.0 C630.8,550.1 631.2,549.2 631.4,548.6 C631.6,548.0 631.6,547.8 631.5,547.2 C631.4,546.6 631.0,545.7 630.8,545.0 C630.6,544.3 630.2,543.8 630.2,543.2 C630.2,542.6 630.5,542.1 630.7,541.5 C630.9,540.9 631.4,540.5 631.6,539.5 C631.8,538.5 631.7,536.2 631.8,535.5 Z" fill="none" stroke="#2424e6" stroke-width="1.7" stroke-linejoin="round"/>
<line x1="628.7133333333333" y1="556.6" x2="635.0866666666667" y2="556.6" stroke="#222" stroke-width="0.7" stroke-dasharray="0.8,0.9"/>
<line x1="628.1249999999999" y1="561.4" x2="635.6750000000001" y2="561.4" stroke="#222" stroke-width="0.7" stroke-dasharray="0.8,0.9"/>
<path d="M627.3,559.2 H631.1 M632.6999999999999,559.2 H636.5" stroke="#000" stroke-width="1.1" fill="none"/>
<path d="M650.5,541.2 C650.6,542.0 650.5,544.7 650.7,546.0 C650.9,547.3 651.4,548.0 651.6,549.0 C651.8,550.0 651.9,550.8 652.0,552.0 C652.1,553.2 652.3,554.8 652.4,556.0 C652.5,557.2 652.6,558.5 652.8,559.5 C653.0,560.5 653.2,561.2 653.6,562.0 C654.0,562.8 654.6,563.7 655.0,564.5 C655.4,565.3 655.9,566.2 656.1,567.0 C656.3,567.8 656.3,568.5 656.2,569.2 C656.0,569.9 655.7,570.4 655.2,571.0 C654.7,571.6 653.7,572.3 653.0,572.8 C652.3,573.3 651.6,573.8 651.2,574.2 C650.8,574.6 650.8,574.2 650.7,575.2 C650.6,576.2 650.6,579.3 650.5,580.1 L650.2,580.1 C650.2,579.3 650.2,576.2 650.1,575.2 C650.0,574.2 650.0,574.6 649.6,574.2 C649.2,573.8 648.5,573.3 647.8,572.8 C647.1,572.3 646.1,571.6 645.6,571.0 C645.1,570.4 644.8,569.9 644.6,569.2 C644.5,568.5 644.5,567.8 644.7,567.0 C644.9,566.2 645.4,565.3 645.8,564.5 C646.2,563.7 646.8,562.8 647.2,562.0 C647.6,561.2 647.8,560.5 648.0,559.5 C648.2,558.5 648.3,557.2 648.4,556.0 C648.5,554.8 648.7,553.2 648.8,552.0 C648.9,550.8 649.0,550.0 649.2,549.0 C649.4,548.0 649.9,547.3 650.1,546.0 C650.3,544.7 650.2,542.0 650.2,541.2 Z" fill="none" stroke="#2ef0f6" stroke-width="1.7" stroke-linejoin="round"/>
<line x1="649.6" y1="556.5" x2="651.1999999999999" y2="556.5" stroke="#222" stroke-width="0.7" stroke-dasharray="0.8,0.9"/>
<line x1="646.0090909090909" y1="569.0" x2="654.790909090909" y2="569.0" stroke="#222" stroke-width="0.7" stroke-dasharray="0.8,0.9"/>
<path d="M646.6,565.0 H649.6 M651.1999999999999,565.0 H654.2" stroke="#000" stroke-width="1.1" fill="none"/>
<path d="M669.4,539.3 C669.4,540.0 669.3,542.5 669.5,543.5 C669.7,544.5 670.2,544.8 670.5,545.5 C670.8,546.2 671.0,546.8 671.2,547.5 C671.4,548.2 671.3,548.8 671.5,549.5 C671.7,550.2 672.2,550.8 672.5,551.5 C672.8,552.2 672.8,552.8 673.0,553.5 C673.2,554.2 673.7,554.8 674.0,555.5 C674.3,556.2 674.7,556.9 674.9,557.5 C675.1,558.1 675.1,558.7 675.0,559.3 C674.9,559.9 674.6,560.5 674.2,561.0 C673.8,561.5 673.0,562.1 672.4,562.6 C671.8,563.1 670.9,563.6 670.4,564.0 C669.9,564.4 669.7,564.1 669.5,565.0 C669.3,565.9 669.4,568.6 669.4,569.3 L669.1,569.3 C669.0,568.6 669.1,565.9 668.9,565.0 C668.7,564.1 668.5,564.4 668.0,564.0 C667.5,563.6 666.6,563.1 666.0,562.6 C665.4,562.1 664.6,561.5 664.2,561.0 C663.8,560.5 663.5,559.9 663.4,559.3 C663.3,558.7 663.3,558.1 663.5,557.5 C663.7,556.9 664.1,556.2 664.4,555.5 C664.7,554.8 665.2,554.2 665.4,553.5 C665.7,552.8 665.7,552.2 665.9,551.5 C666.2,550.8 666.7,550.2 666.9,549.5 C667.1,548.8 667.0,548.2 667.2,547.5 C667.4,546.8 667.6,546.2 667.9,545.5 C668.2,544.8 668.7,544.5 668.9,543.5 C669.1,542.5 669.0,540.0 669.1,539.3 Z" fill="none" stroke="#2ee62e" stroke-width="1.7" stroke-linejoin="round"/>
<line x1="667.075" y1="552.4" x2="671.325" y2="552.4" stroke="#222" stroke-width="0.7" stroke-dasharray="0.8,0.9"/>
<line x1="665.4117647058824" y1="560.6" x2="672.9882352941177" y2="560.6" stroke="#222" stroke-width="0.7" stroke-dasharray="0.8,0.9"/>
<path d="M664.8,556.9 H668.4000000000001 M670.0,556.9 H673.6" stroke="#000" stroke-width="1.1" fill="none"/>
</svg>
</body></html>
